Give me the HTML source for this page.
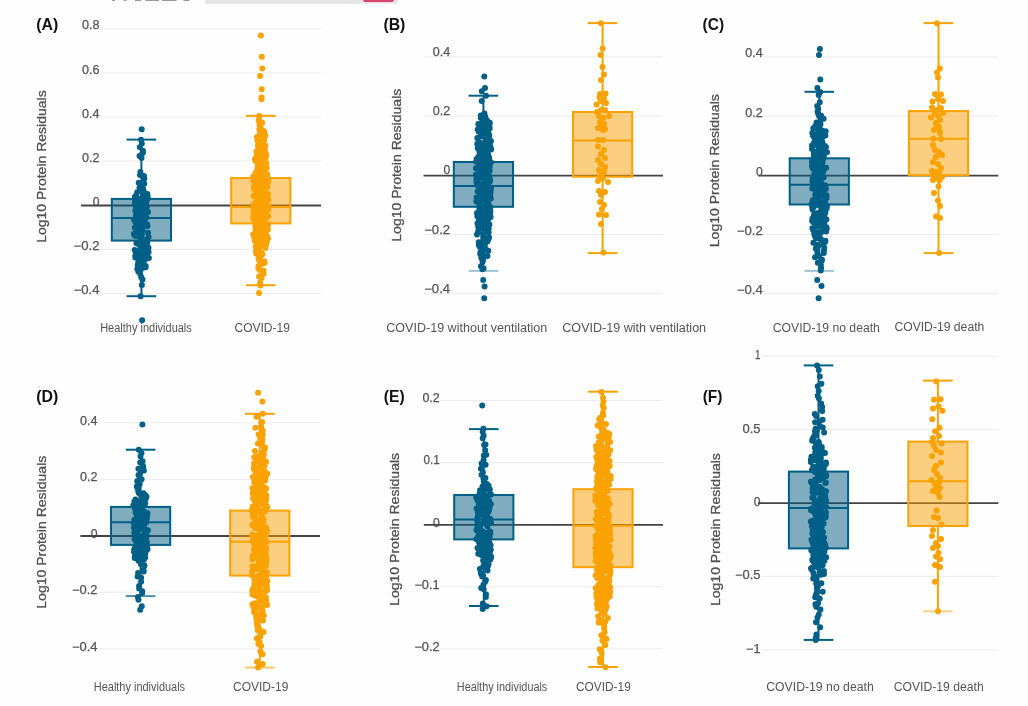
<!DOCTYPE html>
<html><head><meta charset="utf-8"><style>
html,body{margin:0;padding:0;background:#fff;}
body{width:1028px;height:706px;overflow:hidden;position:relative;}
svg{position:absolute;left:0;top:0;font-family:"Liberation Sans", sans-serif;filter:blur(0.4px);}
</style></head><body>
<svg width="1028" height="706" viewBox="0 0 1028 706">
<rect x="0" y="0" width="1028" height="706" fill="#fefefe"/>
<rect x="205" y="0" width="192.8" height="3.8" fill="#e5e5e5"/>
<rect x="363.3" y="-1.6" width="30.5" height="3.7" rx="1.8" fill="#d8416c"/>
<g fill="#9a9a9a"><rect x="112" y="0" width="3" height="1"/><rect x="123.5" y="0" width="3" height="1"/><rect x="135" y="0" width="6" height="1"/><rect x="145.5" y="0" width="13.5" height="1"/><rect x="162" y="0" width="14.5" height="1"/><rect x="183.5" y="0" width="6" height="1"/></g>
<path d="M100.0,28.80H321.0" stroke="#ebebeb" stroke-width="1"/>
<path d="M100.0,72.90H321.0" stroke="#ebebeb" stroke-width="1"/>
<path d="M100.0,117.00H321.0" stroke="#ebebeb" stroke-width="1"/>
<path d="M100.0,161.10H321.0" stroke="#ebebeb" stroke-width="1"/>
<path d="M100.0,249.30H321.0" stroke="#ebebeb" stroke-width="1"/>
<path d="M100.0,293.40H321.0" stroke="#ebebeb" stroke-width="1"/>
<text x="99.5" y="29.4" text-anchor="end" font-size="12" fill="#555" font-weight="normal" textLength="17.5" lengthAdjust="spacingAndGlyphs" stroke="#555" stroke-width="0.25">0.8</text>
<text x="99.5" y="73.5" text-anchor="end" font-size="12" fill="#555" font-weight="normal" textLength="17.5" lengthAdjust="spacingAndGlyphs" stroke="#555" stroke-width="0.25">0.6</text>
<text x="99.5" y="117.6" text-anchor="end" font-size="12" fill="#555" font-weight="normal" textLength="17.5" lengthAdjust="spacingAndGlyphs" stroke="#555" stroke-width="0.25">0.4</text>
<text x="99.5" y="161.7" text-anchor="end" font-size="12" fill="#555" font-weight="normal" textLength="17.5" lengthAdjust="spacingAndGlyphs" stroke="#555" stroke-width="0.25">0.2</text>
<text x="99.5" y="205.8" text-anchor="end" font-size="12" fill="#555" font-weight="normal" textLength="6.8" lengthAdjust="spacingAndGlyphs" stroke="#555" stroke-width="0.25">0</text>
<text x="99.5" y="249.9" text-anchor="end" font-size="12" fill="#555" font-weight="normal" textLength="26.0" lengthAdjust="spacingAndGlyphs" stroke="#555" stroke-width="0.25">−0.2</text>
<text x="99.5" y="294.0" text-anchor="end" font-size="12" fill="#555" font-weight="normal" textLength="26.0" lengthAdjust="spacingAndGlyphs" stroke="#555" stroke-width="0.25">−0.4</text>
<path d="M81.0,205.50H321.0" stroke="#444444" stroke-width="1.8"/>
<rect x="111.80" y="198.90" width="59.20" height="41.70" fill="#005a80" fill-opacity="0.5" stroke="#005f87" stroke-width="2"/>
<path d="M111.80,217.90H171.00M141.40,198.90V139.60M141.40,240.60V296.20" stroke="#005f87" stroke-width="2" fill="none"/>
<path d="M126.60,139.60H156.20" stroke="#005f87" stroke-width="2" fill="none"/>
<path d="M126.60,296.20H156.20" stroke="#005f87" stroke-width="2" fill="none"/>
<rect x="231.20" y="178.00" width="59.20" height="45.40" fill="#f99d00" fill-opacity="0.5" stroke="#f9a202" stroke-width="2"/>
<path d="M231.20,207.00H290.40M260.80,178.00V115.80M260.80,223.40V285.20" stroke="#f9a202" stroke-width="2" fill="none"/>
<path d="M246.00,115.80H275.60" stroke="#f9a202" stroke-width="2" fill="none"/>
<path d="M246.00,285.20H275.60" stroke="#f9a202" stroke-width="2" fill="none"/>
<path fill="#005f87" d="M145.3,251.1m-3.0,0a3.0,3.0 0 1,0 6.0,0a3.0,3.0 0 1,0 -6.0,0M140.0,175.1m-3.0,0a3.0,3.0 0 1,0 6.0,0a3.0,3.0 0 1,0 -6.0,0M140.4,171.9m-3.0,0a3.0,3.0 0 1,0 6.0,0a3.0,3.0 0 1,0 -6.0,0M140.1,233.0m-3.0,0a3.0,3.0 0 1,0 6.0,0a3.0,3.0 0 1,0 -6.0,0M135.3,235.6m-3.0,0a3.0,3.0 0 1,0 6.0,0a3.0,3.0 0 1,0 -6.0,0M140.3,261.2m-3.0,0a3.0,3.0 0 1,0 6.0,0a3.0,3.0 0 1,0 -6.0,0M144.2,183.7m-3.0,0a3.0,3.0 0 1,0 6.0,0a3.0,3.0 0 1,0 -6.0,0M141.9,285.0m-3.0,0a3.0,3.0 0 1,0 6.0,0a3.0,3.0 0 1,0 -6.0,0M134.8,204.7m-3.0,0a3.0,3.0 0 1,0 6.0,0a3.0,3.0 0 1,0 -6.0,0M145.7,266.1m-3.0,0a3.0,3.0 0 1,0 6.0,0a3.0,3.0 0 1,0 -6.0,0M136.5,216.4m-3.0,0a3.0,3.0 0 1,0 6.0,0a3.0,3.0 0 1,0 -6.0,0M140.5,238.6m-3.0,0a3.0,3.0 0 1,0 6.0,0a3.0,3.0 0 1,0 -6.0,0M136.3,203.0m-3.0,0a3.0,3.0 0 1,0 6.0,0a3.0,3.0 0 1,0 -6.0,0M142.2,185.6m-3.0,0a3.0,3.0 0 1,0 6.0,0a3.0,3.0 0 1,0 -6.0,0M148.9,257.9m-3.0,0a3.0,3.0 0 1,0 6.0,0a3.0,3.0 0 1,0 -6.0,0M134.9,201.4m-3.0,0a3.0,3.0 0 1,0 6.0,0a3.0,3.0 0 1,0 -6.0,0M137.3,203.6m-3.0,0a3.0,3.0 0 1,0 6.0,0a3.0,3.0 0 1,0 -6.0,0M147.0,224.3m-3.0,0a3.0,3.0 0 1,0 6.0,0a3.0,3.0 0 1,0 -6.0,0M140.4,219.5m-3.0,0a3.0,3.0 0 1,0 6.0,0a3.0,3.0 0 1,0 -6.0,0M137.1,257.3m-3.0,0a3.0,3.0 0 1,0 6.0,0a3.0,3.0 0 1,0 -6.0,0M146.0,211.5m-3.0,0a3.0,3.0 0 1,0 6.0,0a3.0,3.0 0 1,0 -6.0,0M135.3,257.6m-3.0,0a3.0,3.0 0 1,0 6.0,0a3.0,3.0 0 1,0 -6.0,0M134.9,196.7m-3.0,0a3.0,3.0 0 1,0 6.0,0a3.0,3.0 0 1,0 -6.0,0M143.2,189.1m-3.0,0a3.0,3.0 0 1,0 6.0,0a3.0,3.0 0 1,0 -6.0,0M139.5,187.7m-3.0,0a3.0,3.0 0 1,0 6.0,0a3.0,3.0 0 1,0 -6.0,0M143.9,224.7m-3.0,0a3.0,3.0 0 1,0 6.0,0a3.0,3.0 0 1,0 -6.0,0M141.2,228.0m-3.0,0a3.0,3.0 0 1,0 6.0,0a3.0,3.0 0 1,0 -6.0,0M140.6,296.3m-3.0,0a3.0,3.0 0 1,0 6.0,0a3.0,3.0 0 1,0 -6.0,0M139.2,219.0m-3.0,0a3.0,3.0 0 1,0 6.0,0a3.0,3.0 0 1,0 -6.0,0M136.2,207.7m-3.0,0a3.0,3.0 0 1,0 6.0,0a3.0,3.0 0 1,0 -6.0,0M141.0,189.7m-3.0,0a3.0,3.0 0 1,0 6.0,0a3.0,3.0 0 1,0 -6.0,0M141.1,218.5m-3.0,0a3.0,3.0 0 1,0 6.0,0a3.0,3.0 0 1,0 -6.0,0M138.9,221.1m-3.0,0a3.0,3.0 0 1,0 6.0,0a3.0,3.0 0 1,0 -6.0,0M142.6,222.9m-3.0,0a3.0,3.0 0 1,0 6.0,0a3.0,3.0 0 1,0 -6.0,0M140.5,232.2m-3.0,0a3.0,3.0 0 1,0 6.0,0a3.0,3.0 0 1,0 -6.0,0M140.2,229.8m-3.0,0a3.0,3.0 0 1,0 6.0,0a3.0,3.0 0 1,0 -6.0,0M141.9,234.3m-3.0,0a3.0,3.0 0 1,0 6.0,0a3.0,3.0 0 1,0 -6.0,0M143.6,242.1m-3.0,0a3.0,3.0 0 1,0 6.0,0a3.0,3.0 0 1,0 -6.0,0M143.1,263.5m-3.0,0a3.0,3.0 0 1,0 6.0,0a3.0,3.0 0 1,0 -6.0,0M137.0,256.4m-3.0,0a3.0,3.0 0 1,0 6.0,0a3.0,3.0 0 1,0 -6.0,0M144.3,178.7m-3.0,0a3.0,3.0 0 1,0 6.0,0a3.0,3.0 0 1,0 -6.0,0M146.8,207.1m-3.0,0a3.0,3.0 0 1,0 6.0,0a3.0,3.0 0 1,0 -6.0,0M138.3,271.5m-3.0,0a3.0,3.0 0 1,0 6.0,0a3.0,3.0 0 1,0 -6.0,0M144.6,193.0m-3.0,0a3.0,3.0 0 1,0 6.0,0a3.0,3.0 0 1,0 -6.0,0M148.5,247.7m-3.0,0a3.0,3.0 0 1,0 6.0,0a3.0,3.0 0 1,0 -6.0,0M134.6,235.2m-3.0,0a3.0,3.0 0 1,0 6.0,0a3.0,3.0 0 1,0 -6.0,0M135.6,195.9m-3.0,0a3.0,3.0 0 1,0 6.0,0a3.0,3.0 0 1,0 -6.0,0M140.8,228.4m-3.0,0a3.0,3.0 0 1,0 6.0,0a3.0,3.0 0 1,0 -6.0,0M143.1,264.6m-3.0,0a3.0,3.0 0 1,0 6.0,0a3.0,3.0 0 1,0 -6.0,0M147.2,199.3m-3.0,0a3.0,3.0 0 1,0 6.0,0a3.0,3.0 0 1,0 -6.0,0M141.5,157.9m-3.0,0a3.0,3.0 0 1,0 6.0,0a3.0,3.0 0 1,0 -6.0,0M142.2,262.2m-3.0,0a3.0,3.0 0 1,0 6.0,0a3.0,3.0 0 1,0 -6.0,0M139.5,199.0m-3.0,0a3.0,3.0 0 1,0 6.0,0a3.0,3.0 0 1,0 -6.0,0M141.7,226.5m-3.0,0a3.0,3.0 0 1,0 6.0,0a3.0,3.0 0 1,0 -6.0,0M142.9,209.1m-3.0,0a3.0,3.0 0 1,0 6.0,0a3.0,3.0 0 1,0 -6.0,0M145.7,210.0m-3.0,0a3.0,3.0 0 1,0 6.0,0a3.0,3.0 0 1,0 -6.0,0M144.3,259.8m-3.0,0a3.0,3.0 0 1,0 6.0,0a3.0,3.0 0 1,0 -6.0,0M143.2,244.2m-3.0,0a3.0,3.0 0 1,0 6.0,0a3.0,3.0 0 1,0 -6.0,0M139.5,263.2m-3.0,0a3.0,3.0 0 1,0 6.0,0a3.0,3.0 0 1,0 -6.0,0M140.7,236.5m-3.0,0a3.0,3.0 0 1,0 6.0,0a3.0,3.0 0 1,0 -6.0,0M137.5,243.7m-3.0,0a3.0,3.0 0 1,0 6.0,0a3.0,3.0 0 1,0 -6.0,0M142.1,200.3m-3.0,0a3.0,3.0 0 1,0 6.0,0a3.0,3.0 0 1,0 -6.0,0M140.1,203.8m-3.0,0a3.0,3.0 0 1,0 6.0,0a3.0,3.0 0 1,0 -6.0,0M142.1,320.2m-3.0,0a3.0,3.0 0 1,0 6.0,0a3.0,3.0 0 1,0 -6.0,0M143.7,261.4m-3.0,0a3.0,3.0 0 1,0 6.0,0a3.0,3.0 0 1,0 -6.0,0M146.1,205.3m-3.0,0a3.0,3.0 0 1,0 6.0,0a3.0,3.0 0 1,0 -6.0,0M141.4,205.2m-3.0,0a3.0,3.0 0 1,0 6.0,0a3.0,3.0 0 1,0 -6.0,0M140.0,229.1m-3.0,0a3.0,3.0 0 1,0 6.0,0a3.0,3.0 0 1,0 -6.0,0M142.7,245.6m-3.0,0a3.0,3.0 0 1,0 6.0,0a3.0,3.0 0 1,0 -6.0,0M140.7,222.5m-3.0,0a3.0,3.0 0 1,0 6.0,0a3.0,3.0 0 1,0 -6.0,0M134.3,233.6m-3.0,0a3.0,3.0 0 1,0 6.0,0a3.0,3.0 0 1,0 -6.0,0M146.3,217.5m-3.0,0a3.0,3.0 0 1,0 6.0,0a3.0,3.0 0 1,0 -6.0,0M144.6,249.1m-3.0,0a3.0,3.0 0 1,0 6.0,0a3.0,3.0 0 1,0 -6.0,0M141.0,139.8m-3.0,0a3.0,3.0 0 1,0 6.0,0a3.0,3.0 0 1,0 -6.0,0M136.3,197.0m-3.0,0a3.0,3.0 0 1,0 6.0,0a3.0,3.0 0 1,0 -6.0,0M138.7,272.1m-3.0,0a3.0,3.0 0 1,0 6.0,0a3.0,3.0 0 1,0 -6.0,0M138.8,221.8m-3.0,0a3.0,3.0 0 1,0 6.0,0a3.0,3.0 0 1,0 -6.0,0M143.1,192.1m-3.0,0a3.0,3.0 0 1,0 6.0,0a3.0,3.0 0 1,0 -6.0,0M138.3,252.7m-3.0,0a3.0,3.0 0 1,0 6.0,0a3.0,3.0 0 1,0 -6.0,0M136.8,255.0m-3.0,0a3.0,3.0 0 1,0 6.0,0a3.0,3.0 0 1,0 -6.0,0M140.6,239.6m-3.0,0a3.0,3.0 0 1,0 6.0,0a3.0,3.0 0 1,0 -6.0,0M135.3,222.1m-3.0,0a3.0,3.0 0 1,0 6.0,0a3.0,3.0 0 1,0 -6.0,0M146.3,202.7m-3.0,0a3.0,3.0 0 1,0 6.0,0a3.0,3.0 0 1,0 -6.0,0M134.7,249.9m-3.0,0a3.0,3.0 0 1,0 6.0,0a3.0,3.0 0 1,0 -6.0,0M140.1,212.9m-3.0,0a3.0,3.0 0 1,0 6.0,0a3.0,3.0 0 1,0 -6.0,0M139.8,147.3m-3.0,0a3.0,3.0 0 1,0 6.0,0a3.0,3.0 0 1,0 -6.0,0M138.1,214.0m-3.0,0a3.0,3.0 0 1,0 6.0,0a3.0,3.0 0 1,0 -6.0,0M141.3,231.2m-3.0,0a3.0,3.0 0 1,0 6.0,0a3.0,3.0 0 1,0 -6.0,0M138.2,262.7m-3.0,0a3.0,3.0 0 1,0 6.0,0a3.0,3.0 0 1,0 -6.0,0M140.7,216.1m-3.0,0a3.0,3.0 0 1,0 6.0,0a3.0,3.0 0 1,0 -6.0,0M143.4,191.3m-3.0,0a3.0,3.0 0 1,0 6.0,0a3.0,3.0 0 1,0 -6.0,0M138.7,182.7m-3.0,0a3.0,3.0 0 1,0 6.0,0a3.0,3.0 0 1,0 -6.0,0M142.5,279.6m-3.0,0a3.0,3.0 0 1,0 6.0,0a3.0,3.0 0 1,0 -6.0,0M137.6,225.0m-3.0,0a3.0,3.0 0 1,0 6.0,0a3.0,3.0 0 1,0 -6.0,0M148.3,251.4m-3.0,0a3.0,3.0 0 1,0 6.0,0a3.0,3.0 0 1,0 -6.0,0M144.0,176.0m-3.0,0a3.0,3.0 0 1,0 6.0,0a3.0,3.0 0 1,0 -6.0,0M146.6,248.4m-3.0,0a3.0,3.0 0 1,0 6.0,0a3.0,3.0 0 1,0 -6.0,0M142.6,229.8m-3.0,0a3.0,3.0 0 1,0 6.0,0a3.0,3.0 0 1,0 -6.0,0M147.5,225.9m-3.0,0a3.0,3.0 0 1,0 6.0,0a3.0,3.0 0 1,0 -6.0,0M137.7,265.1m-3.0,0a3.0,3.0 0 1,0 6.0,0a3.0,3.0 0 1,0 -6.0,0M134.8,227.6m-3.0,0a3.0,3.0 0 1,0 6.0,0a3.0,3.0 0 1,0 -6.0,0M145.6,218.2m-3.0,0a3.0,3.0 0 1,0 6.0,0a3.0,3.0 0 1,0 -6.0,0M143.7,205.9m-3.0,0a3.0,3.0 0 1,0 6.0,0a3.0,3.0 0 1,0 -6.0,0M137.2,192.2m-3.0,0a3.0,3.0 0 1,0 6.0,0a3.0,3.0 0 1,0 -6.0,0M144.2,244.4m-3.0,0a3.0,3.0 0 1,0 6.0,0a3.0,3.0 0 1,0 -6.0,0M143.0,267.8m-3.0,0a3.0,3.0 0 1,0 6.0,0a3.0,3.0 0 1,0 -6.0,0M139.6,208.7m-3.0,0a3.0,3.0 0 1,0 6.0,0a3.0,3.0 0 1,0 -6.0,0M133.9,234.0m-3.0,0a3.0,3.0 0 1,0 6.0,0a3.0,3.0 0 1,0 -6.0,0M142.0,230.7m-3.0,0a3.0,3.0 0 1,0 6.0,0a3.0,3.0 0 1,0 -6.0,0M138.6,198.4m-3.0,0a3.0,3.0 0 1,0 6.0,0a3.0,3.0 0 1,0 -6.0,0M137.6,213.7m-3.0,0a3.0,3.0 0 1,0 6.0,0a3.0,3.0 0 1,0 -6.0,0M142.9,150.7m-3.0,0a3.0,3.0 0 1,0 6.0,0a3.0,3.0 0 1,0 -6.0,0M141.2,237.5m-3.0,0a3.0,3.0 0 1,0 6.0,0a3.0,3.0 0 1,0 -6.0,0M147.3,242.7m-3.0,0a3.0,3.0 0 1,0 6.0,0a3.0,3.0 0 1,0 -6.0,0M142.4,208.0m-3.0,0a3.0,3.0 0 1,0 6.0,0a3.0,3.0 0 1,0 -6.0,0M136.0,253.5m-3.0,0a3.0,3.0 0 1,0 6.0,0a3.0,3.0 0 1,0 -6.0,0M141.1,246.3m-3.0,0a3.0,3.0 0 1,0 6.0,0a3.0,3.0 0 1,0 -6.0,0M143.1,214.3m-3.0,0a3.0,3.0 0 1,0 6.0,0a3.0,3.0 0 1,0 -6.0,0M142.8,254.1m-3.0,0a3.0,3.0 0 1,0 6.0,0a3.0,3.0 0 1,0 -6.0,0M140.4,247.9m-3.0,0a3.0,3.0 0 1,0 6.0,0a3.0,3.0 0 1,0 -6.0,0M140.5,201.0m-3.0,0a3.0,3.0 0 1,0 6.0,0a3.0,3.0 0 1,0 -6.0,0M142.6,201.7m-3.0,0a3.0,3.0 0 1,0 6.0,0a3.0,3.0 0 1,0 -6.0,0M140.7,269.8m-3.0,0a3.0,3.0 0 1,0 6.0,0a3.0,3.0 0 1,0 -6.0,0M145.9,246.8m-3.0,0a3.0,3.0 0 1,0 6.0,0a3.0,3.0 0 1,0 -6.0,0M144.3,240.9m-3.0,0a3.0,3.0 0 1,0 6.0,0a3.0,3.0 0 1,0 -6.0,0M147.1,249.5m-3.0,0a3.0,3.0 0 1,0 6.0,0a3.0,3.0 0 1,0 -6.0,0M136.8,215.0m-3.0,0a3.0,3.0 0 1,0 6.0,0a3.0,3.0 0 1,0 -6.0,0M135.3,255.9m-3.0,0a3.0,3.0 0 1,0 6.0,0a3.0,3.0 0 1,0 -6.0,0M141.8,225.7m-3.0,0a3.0,3.0 0 1,0 6.0,0a3.0,3.0 0 1,0 -6.0,0M141.2,277.2m-3.0,0a3.0,3.0 0 1,0 6.0,0a3.0,3.0 0 1,0 -6.0,0M144.6,220.3m-3.0,0a3.0,3.0 0 1,0 6.0,0a3.0,3.0 0 1,0 -6.0,0M141.9,206.6m-3.0,0a3.0,3.0 0 1,0 6.0,0a3.0,3.0 0 1,0 -6.0,0M147.5,195.1m-3.0,0a3.0,3.0 0 1,0 6.0,0a3.0,3.0 0 1,0 -6.0,0M135.6,235.9m-3.0,0a3.0,3.0 0 1,0 6.0,0a3.0,3.0 0 1,0 -6.0,0M140.9,259.2m-3.0,0a3.0,3.0 0 1,0 6.0,0a3.0,3.0 0 1,0 -6.0,0M134.1,219.8m-3.0,0a3.0,3.0 0 1,0 6.0,0a3.0,3.0 0 1,0 -6.0,0M140.3,241.4m-3.0,0a3.0,3.0 0 1,0 6.0,0a3.0,3.0 0 1,0 -6.0,0M147.4,254.3m-3.0,0a3.0,3.0 0 1,0 6.0,0a3.0,3.0 0 1,0 -6.0,0M143.9,253.0m-3.0,0a3.0,3.0 0 1,0 6.0,0a3.0,3.0 0 1,0 -6.0,0M142.9,227.3m-3.0,0a3.0,3.0 0 1,0 6.0,0a3.0,3.0 0 1,0 -6.0,0M140.4,212.3m-3.0,0a3.0,3.0 0 1,0 6.0,0a3.0,3.0 0 1,0 -6.0,0M140.3,274.0m-3.0,0a3.0,3.0 0 1,0 6.0,0a3.0,3.0 0 1,0 -6.0,0M141.4,239.1m-3.0,0a3.0,3.0 0 1,0 6.0,0a3.0,3.0 0 1,0 -6.0,0M136.5,211.2m-3.0,0a3.0,3.0 0 1,0 6.0,0a3.0,3.0 0 1,0 -6.0,0M147.4,250.4m-3.0,0a3.0,3.0 0 1,0 6.0,0a3.0,3.0 0 1,0 -6.0,0M145.0,259.3m-3.0,0a3.0,3.0 0 1,0 6.0,0a3.0,3.0 0 1,0 -6.0,0M148.5,237.0m-3.0,0a3.0,3.0 0 1,0 6.0,0a3.0,3.0 0 1,0 -6.0,0M135.4,210.7m-3.0,0a3.0,3.0 0 1,0 6.0,0a3.0,3.0 0 1,0 -6.0,0M137.3,268.9m-3.0,0a3.0,3.0 0 1,0 6.0,0a3.0,3.0 0 1,0 -6.0,0M141.8,143.5m-3.0,0a3.0,3.0 0 1,0 6.0,0a3.0,3.0 0 1,0 -6.0,0M148.6,252.0m-3.0,0a3.0,3.0 0 1,0 6.0,0a3.0,3.0 0 1,0 -6.0,0M142.2,153.5m-3.0,0a3.0,3.0 0 1,0 6.0,0a3.0,3.0 0 1,0 -6.0,0M143.0,152.5m-3.0,0a3.0,3.0 0 1,0 6.0,0a3.0,3.0 0 1,0 -6.0,0M142.8,265.6m-3.0,0a3.0,3.0 0 1,0 6.0,0a3.0,3.0 0 1,0 -6.0,0M139.7,223.5m-3.0,0a3.0,3.0 0 1,0 6.0,0a3.0,3.0 0 1,0 -6.0,0M142.9,195.4m-3.0,0a3.0,3.0 0 1,0 6.0,0a3.0,3.0 0 1,0 -6.0,0M147.0,258.6m-3.0,0a3.0,3.0 0 1,0 6.0,0a3.0,3.0 0 1,0 -6.0,0M148.0,212.0m-3.0,0a3.0,3.0 0 1,0 6.0,0a3.0,3.0 0 1,0 -6.0,0M143.6,217.0m-3.0,0a3.0,3.0 0 1,0 6.0,0a3.0,3.0 0 1,0 -6.0,0M144.7,240.0m-3.0,0a3.0,3.0 0 1,0 6.0,0a3.0,3.0 0 1,0 -6.0,0M141.7,129.2m-3.0,0a3.0,3.0 0 1,0 6.0,0a3.0,3.0 0 1,0 -6.0,0M141.7,260.4m-3.0,0a3.0,3.0 0 1,0 6.0,0a3.0,3.0 0 1,0 -6.0,0M140.8,238.0m-3.0,0a3.0,3.0 0 1,0 6.0,0a3.0,3.0 0 1,0 -6.0,0M148.0,232.7m-3.0,0a3.0,3.0 0 1,0 6.0,0a3.0,3.0 0 1,0 -6.0,0M139.5,156.0m-3.0,0a3.0,3.0 0 1,0 6.0,0a3.0,3.0 0 1,0 -6.0,0M143.5,245.2m-3.0,0a3.0,3.0 0 1,0 6.0,0a3.0,3.0 0 1,0 -6.0,0M147.3,194.1m-3.0,0a3.0,3.0 0 1,0 6.0,0a3.0,3.0 0 1,0 -6.0,0M135.7,209.4m-3.0,0a3.0,3.0 0 1,0 6.0,0a3.0,3.0 0 1,0 -6.0,0M136.4,231.7m-3.0,0a3.0,3.0 0 1,0 6.0,0a3.0,3.0 0 1,0 -6.0,0M145.6,267.2m-3.0,0a3.0,3.0 0 1,0 6.0,0a3.0,3.0 0 1,0 -6.0,0M136.4,243.2m-3.0,0a3.0,3.0 0 1,0 6.0,0a3.0,3.0 0 1,0 -6.0,0M147.1,240.3m-3.0,0a3.0,3.0 0 1,0 6.0,0a3.0,3.0 0 1,0 -6.0,0M146.4,245.9m-3.0,0a3.0,3.0 0 1,0 6.0,0a3.0,3.0 0 1,0 -6.0,0M147.8,197.7m-3.0,0a3.0,3.0 0 1,0 6.0,0a3.0,3.0 0 1,0 -6.0,0M135.9,215.6m-3.0,0a3.0,3.0 0 1,0 6.0,0a3.0,3.0 0 1,0 -6.0,0M140.4,186.0m-3.0,0a3.0,3.0 0 1,0 6.0,0a3.0,3.0 0 1,0 -6.0,0M139.2,255.5m-3.0,0a3.0,3.0 0 1,0 6.0,0a3.0,3.0 0 1,0 -6.0,0M138.8,199.8m-3.0,0a3.0,3.0 0 1,0 6.0,0a3.0,3.0 0 1,0 -6.0,0"/>
<path fill="#f9a202" d="M259.3,188.7m-3.0,0a3.0,3.0 0 1,0 6.0,0a3.0,3.0 0 1,0 -6.0,0M254.6,210.2m-3.0,0a3.0,3.0 0 1,0 6.0,0a3.0,3.0 0 1,0 -6.0,0M261.0,193.4m-3.0,0a3.0,3.0 0 1,0 6.0,0a3.0,3.0 0 1,0 -6.0,0M264.3,157.2m-3.0,0a3.0,3.0 0 1,0 6.0,0a3.0,3.0 0 1,0 -6.0,0M261.4,144.2m-3.0,0a3.0,3.0 0 1,0 6.0,0a3.0,3.0 0 1,0 -6.0,0M267.4,187.1m-3.0,0a3.0,3.0 0 1,0 6.0,0a3.0,3.0 0 1,0 -6.0,0M267.2,174.2m-3.0,0a3.0,3.0 0 1,0 6.0,0a3.0,3.0 0 1,0 -6.0,0M267.9,182.4m-3.0,0a3.0,3.0 0 1,0 6.0,0a3.0,3.0 0 1,0 -6.0,0M262.0,176.1m-3.0,0a3.0,3.0 0 1,0 6.0,0a3.0,3.0 0 1,0 -6.0,0M265.6,186.4m-3.0,0a3.0,3.0 0 1,0 6.0,0a3.0,3.0 0 1,0 -6.0,0M261.3,190.3m-3.0,0a3.0,3.0 0 1,0 6.0,0a3.0,3.0 0 1,0 -6.0,0M255.0,221.7m-3.0,0a3.0,3.0 0 1,0 6.0,0a3.0,3.0 0 1,0 -6.0,0M261.1,201.4m-3.0,0a3.0,3.0 0 1,0 6.0,0a3.0,3.0 0 1,0 -6.0,0M255.0,234.8m-3.0,0a3.0,3.0 0 1,0 6.0,0a3.0,3.0 0 1,0 -6.0,0M257.3,178.2m-3.0,0a3.0,3.0 0 1,0 6.0,0a3.0,3.0 0 1,0 -6.0,0M258.0,174.8m-3.0,0a3.0,3.0 0 1,0 6.0,0a3.0,3.0 0 1,0 -6.0,0M264.3,179.1m-3.0,0a3.0,3.0 0 1,0 6.0,0a3.0,3.0 0 1,0 -6.0,0M256.8,233.4m-3.0,0a3.0,3.0 0 1,0 6.0,0a3.0,3.0 0 1,0 -6.0,0M260.4,208.6m-3.0,0a3.0,3.0 0 1,0 6.0,0a3.0,3.0 0 1,0 -6.0,0M256.4,151.6m-3.0,0a3.0,3.0 0 1,0 6.0,0a3.0,3.0 0 1,0 -6.0,0M262.8,142.6m-3.0,0a3.0,3.0 0 1,0 6.0,0a3.0,3.0 0 1,0 -6.0,0M258.2,220.1m-3.0,0a3.0,3.0 0 1,0 6.0,0a3.0,3.0 0 1,0 -6.0,0M266.7,229.0m-3.0,0a3.0,3.0 0 1,0 6.0,0a3.0,3.0 0 1,0 -6.0,0M264.3,165.0m-3.0,0a3.0,3.0 0 1,0 6.0,0a3.0,3.0 0 1,0 -6.0,0M254.5,187.3m-3.0,0a3.0,3.0 0 1,0 6.0,0a3.0,3.0 0 1,0 -6.0,0M261.4,185.4m-3.0,0a3.0,3.0 0 1,0 6.0,0a3.0,3.0 0 1,0 -6.0,0M261.4,214.0m-3.0,0a3.0,3.0 0 1,0 6.0,0a3.0,3.0 0 1,0 -6.0,0M265.6,157.9m-3.0,0a3.0,3.0 0 1,0 6.0,0a3.0,3.0 0 1,0 -6.0,0M263.2,173.9m-3.0,0a3.0,3.0 0 1,0 6.0,0a3.0,3.0 0 1,0 -6.0,0M257.9,146.0m-3.0,0a3.0,3.0 0 1,0 6.0,0a3.0,3.0 0 1,0 -6.0,0M259.4,229.6m-3.0,0a3.0,3.0 0 1,0 6.0,0a3.0,3.0 0 1,0 -6.0,0M253.5,195.9m-3.0,0a3.0,3.0 0 1,0 6.0,0a3.0,3.0 0 1,0 -6.0,0M262.3,171.7m-3.0,0a3.0,3.0 0 1,0 6.0,0a3.0,3.0 0 1,0 -6.0,0M260.6,192.8m-3.0,0a3.0,3.0 0 1,0 6.0,0a3.0,3.0 0 1,0 -6.0,0M261.2,147.1m-3.0,0a3.0,3.0 0 1,0 6.0,0a3.0,3.0 0 1,0 -6.0,0M258.5,258.7m-3.0,0a3.0,3.0 0 1,0 6.0,0a3.0,3.0 0 1,0 -6.0,0M264.3,191.6m-3.0,0a3.0,3.0 0 1,0 6.0,0a3.0,3.0 0 1,0 -6.0,0M257.6,191.3m-3.0,0a3.0,3.0 0 1,0 6.0,0a3.0,3.0 0 1,0 -6.0,0M257.5,233.1m-3.0,0a3.0,3.0 0 1,0 6.0,0a3.0,3.0 0 1,0 -6.0,0M266.2,212.8m-3.0,0a3.0,3.0 0 1,0 6.0,0a3.0,3.0 0 1,0 -6.0,0M256.8,190.1m-3.0,0a3.0,3.0 0 1,0 6.0,0a3.0,3.0 0 1,0 -6.0,0M258.9,169.3m-3.0,0a3.0,3.0 0 1,0 6.0,0a3.0,3.0 0 1,0 -6.0,0M265.3,145.3m-3.0,0a3.0,3.0 0 1,0 6.0,0a3.0,3.0 0 1,0 -6.0,0M265.6,244.8m-3.0,0a3.0,3.0 0 1,0 6.0,0a3.0,3.0 0 1,0 -6.0,0M256.5,212.1m-3.0,0a3.0,3.0 0 1,0 6.0,0a3.0,3.0 0 1,0 -6.0,0M264.8,211.6m-3.0,0a3.0,3.0 0 1,0 6.0,0a3.0,3.0 0 1,0 -6.0,0M261.4,204.4m-3.0,0a3.0,3.0 0 1,0 6.0,0a3.0,3.0 0 1,0 -6.0,0M267.1,180.5m-3.0,0a3.0,3.0 0 1,0 6.0,0a3.0,3.0 0 1,0 -6.0,0M264.7,232.3m-3.0,0a3.0,3.0 0 1,0 6.0,0a3.0,3.0 0 1,0 -6.0,0M254.4,189.3m-3.0,0a3.0,3.0 0 1,0 6.0,0a3.0,3.0 0 1,0 -6.0,0M259.3,181.7m-3.0,0a3.0,3.0 0 1,0 6.0,0a3.0,3.0 0 1,0 -6.0,0M256.6,194.6m-3.0,0a3.0,3.0 0 1,0 6.0,0a3.0,3.0 0 1,0 -6.0,0M268.0,193.9m-3.0,0a3.0,3.0 0 1,0 6.0,0a3.0,3.0 0 1,0 -6.0,0M267.3,239.9m-3.0,0a3.0,3.0 0 1,0 6.0,0a3.0,3.0 0 1,0 -6.0,0M258.9,235.9m-3.0,0a3.0,3.0 0 1,0 6.0,0a3.0,3.0 0 1,0 -6.0,0M268.0,238.5m-3.0,0a3.0,3.0 0 1,0 6.0,0a3.0,3.0 0 1,0 -6.0,0M261.2,201.7m-3.0,0a3.0,3.0 0 1,0 6.0,0a3.0,3.0 0 1,0 -6.0,0M259.6,196.9m-3.0,0a3.0,3.0 0 1,0 6.0,0a3.0,3.0 0 1,0 -6.0,0M264.7,206.7m-3.0,0a3.0,3.0 0 1,0 6.0,0a3.0,3.0 0 1,0 -6.0,0M261.2,226.2m-3.0,0a3.0,3.0 0 1,0 6.0,0a3.0,3.0 0 1,0 -6.0,0M265.8,206.0m-3.0,0a3.0,3.0 0 1,0 6.0,0a3.0,3.0 0 1,0 -6.0,0M259.1,192.2m-3.0,0a3.0,3.0 0 1,0 6.0,0a3.0,3.0 0 1,0 -6.0,0M262.5,254.3m-3.0,0a3.0,3.0 0 1,0 6.0,0a3.0,3.0 0 1,0 -6.0,0M268.4,209.7m-3.0,0a3.0,3.0 0 1,0 6.0,0a3.0,3.0 0 1,0 -6.0,0M258.0,231.6m-3.0,0a3.0,3.0 0 1,0 6.0,0a3.0,3.0 0 1,0 -6.0,0M257.6,170.0m-3.0,0a3.0,3.0 0 1,0 6.0,0a3.0,3.0 0 1,0 -6.0,0M266.8,167.8m-3.0,0a3.0,3.0 0 1,0 6.0,0a3.0,3.0 0 1,0 -6.0,0M262.9,263.7m-3.0,0a3.0,3.0 0 1,0 6.0,0a3.0,3.0 0 1,0 -6.0,0M265.5,248.1m-3.0,0a3.0,3.0 0 1,0 6.0,0a3.0,3.0 0 1,0 -6.0,0M260.0,203.8m-3.0,0a3.0,3.0 0 1,0 6.0,0a3.0,3.0 0 1,0 -6.0,0M267.4,198.2m-3.0,0a3.0,3.0 0 1,0 6.0,0a3.0,3.0 0 1,0 -6.0,0M264.3,156.6m-3.0,0a3.0,3.0 0 1,0 6.0,0a3.0,3.0 0 1,0 -6.0,0M256.5,171.1m-3.0,0a3.0,3.0 0 1,0 6.0,0a3.0,3.0 0 1,0 -6.0,0M258.7,223.3m-3.0,0a3.0,3.0 0 1,0 6.0,0a3.0,3.0 0 1,0 -6.0,0M260.5,285.6m-3.0,0a3.0,3.0 0 1,0 6.0,0a3.0,3.0 0 1,0 -6.0,0M257.8,200.5m-3.0,0a3.0,3.0 0 1,0 6.0,0a3.0,3.0 0 1,0 -6.0,0M268.3,179.9m-3.0,0a3.0,3.0 0 1,0 6.0,0a3.0,3.0 0 1,0 -6.0,0M260.3,206.4m-3.0,0a3.0,3.0 0 1,0 6.0,0a3.0,3.0 0 1,0 -6.0,0M259.0,260.1m-3.0,0a3.0,3.0 0 1,0 6.0,0a3.0,3.0 0 1,0 -6.0,0M256.0,201.9m-3.0,0a3.0,3.0 0 1,0 6.0,0a3.0,3.0 0 1,0 -6.0,0M261.7,227.4m-3.0,0a3.0,3.0 0 1,0 6.0,0a3.0,3.0 0 1,0 -6.0,0M268.3,205.9m-3.0,0a3.0,3.0 0 1,0 6.0,0a3.0,3.0 0 1,0 -6.0,0M265.5,152.5m-3.0,0a3.0,3.0 0 1,0 6.0,0a3.0,3.0 0 1,0 -6.0,0M267.1,208.9m-3.0,0a3.0,3.0 0 1,0 6.0,0a3.0,3.0 0 1,0 -6.0,0M257.4,221.2m-3.0,0a3.0,3.0 0 1,0 6.0,0a3.0,3.0 0 1,0 -6.0,0M260.7,221.1m-3.0,0a3.0,3.0 0 1,0 6.0,0a3.0,3.0 0 1,0 -6.0,0M258.5,266.1m-3.0,0a3.0,3.0 0 1,0 6.0,0a3.0,3.0 0 1,0 -6.0,0M266.8,235.8m-3.0,0a3.0,3.0 0 1,0 6.0,0a3.0,3.0 0 1,0 -6.0,0M256.0,214.2m-3.0,0a3.0,3.0 0 1,0 6.0,0a3.0,3.0 0 1,0 -6.0,0M261.1,207.6m-3.0,0a3.0,3.0 0 1,0 6.0,0a3.0,3.0 0 1,0 -6.0,0M264.3,139.6m-3.0,0a3.0,3.0 0 1,0 6.0,0a3.0,3.0 0 1,0 -6.0,0M264.7,262.8m-3.0,0a3.0,3.0 0 1,0 6.0,0a3.0,3.0 0 1,0 -6.0,0M261.7,89.3m-3.0,0a3.0,3.0 0 1,0 6.0,0a3.0,3.0 0 1,0 -6.0,0M255.4,224.6m-3.0,0a3.0,3.0 0 1,0 6.0,0a3.0,3.0 0 1,0 -6.0,0M268.5,199.8m-3.0,0a3.0,3.0 0 1,0 6.0,0a3.0,3.0 0 1,0 -6.0,0M256.1,183.3m-3.0,0a3.0,3.0 0 1,0 6.0,0a3.0,3.0 0 1,0 -6.0,0M256.3,206.9m-3.0,0a3.0,3.0 0 1,0 6.0,0a3.0,3.0 0 1,0 -6.0,0M256.9,233.6m-3.0,0a3.0,3.0 0 1,0 6.0,0a3.0,3.0 0 1,0 -6.0,0M262.6,230.0m-3.0,0a3.0,3.0 0 1,0 6.0,0a3.0,3.0 0 1,0 -6.0,0M266.8,241.4m-3.0,0a3.0,3.0 0 1,0 6.0,0a3.0,3.0 0 1,0 -6.0,0M259.7,247.0m-3.0,0a3.0,3.0 0 1,0 6.0,0a3.0,3.0 0 1,0 -6.0,0M255.6,227.6m-3.0,0a3.0,3.0 0 1,0 6.0,0a3.0,3.0 0 1,0 -6.0,0M256.4,223.7m-3.0,0a3.0,3.0 0 1,0 6.0,0a3.0,3.0 0 1,0 -6.0,0M261.4,220.4m-3.0,0a3.0,3.0 0 1,0 6.0,0a3.0,3.0 0 1,0 -6.0,0M266.2,155.0m-3.0,0a3.0,3.0 0 1,0 6.0,0a3.0,3.0 0 1,0 -6.0,0M260.1,282.7m-3.0,0a3.0,3.0 0 1,0 6.0,0a3.0,3.0 0 1,0 -6.0,0M256.4,253.7m-3.0,0a3.0,3.0 0 1,0 6.0,0a3.0,3.0 0 1,0 -6.0,0M258.3,237.4m-3.0,0a3.0,3.0 0 1,0 6.0,0a3.0,3.0 0 1,0 -6.0,0M254.0,213.7m-3.0,0a3.0,3.0 0 1,0 6.0,0a3.0,3.0 0 1,0 -6.0,0M259.7,231.5m-3.0,0a3.0,3.0 0 1,0 6.0,0a3.0,3.0 0 1,0 -6.0,0M261.2,168.2m-3.0,0a3.0,3.0 0 1,0 6.0,0a3.0,3.0 0 1,0 -6.0,0M266.0,188.1m-3.0,0a3.0,3.0 0 1,0 6.0,0a3.0,3.0 0 1,0 -6.0,0M254.2,179.8m-3.0,0a3.0,3.0 0 1,0 6.0,0a3.0,3.0 0 1,0 -6.0,0M253.2,176.8m-3.0,0a3.0,3.0 0 1,0 6.0,0a3.0,3.0 0 1,0 -6.0,0M260.0,134.1m-3.0,0a3.0,3.0 0 1,0 6.0,0a3.0,3.0 0 1,0 -6.0,0M260.6,192.1m-3.0,0a3.0,3.0 0 1,0 6.0,0a3.0,3.0 0 1,0 -6.0,0M263.2,188.2m-3.0,0a3.0,3.0 0 1,0 6.0,0a3.0,3.0 0 1,0 -6.0,0M261.6,172.7m-3.0,0a3.0,3.0 0 1,0 6.0,0a3.0,3.0 0 1,0 -6.0,0M260.1,75.9m-3.0,0a3.0,3.0 0 1,0 6.0,0a3.0,3.0 0 1,0 -6.0,0M259.3,129.6m-3.0,0a3.0,3.0 0 1,0 6.0,0a3.0,3.0 0 1,0 -6.0,0M257.2,190.8m-3.0,0a3.0,3.0 0 1,0 6.0,0a3.0,3.0 0 1,0 -6.0,0M260.4,204.7m-3.0,0a3.0,3.0 0 1,0 6.0,0a3.0,3.0 0 1,0 -6.0,0M261.0,240.2m-3.0,0a3.0,3.0 0 1,0 6.0,0a3.0,3.0 0 1,0 -6.0,0M257.7,245.7m-3.0,0a3.0,3.0 0 1,0 6.0,0a3.0,3.0 0 1,0 -6.0,0M253.6,218.8m-3.0,0a3.0,3.0 0 1,0 6.0,0a3.0,3.0 0 1,0 -6.0,0M262.2,201.2m-3.0,0a3.0,3.0 0 1,0 6.0,0a3.0,3.0 0 1,0 -6.0,0M264.8,226.7m-3.0,0a3.0,3.0 0 1,0 6.0,0a3.0,3.0 0 1,0 -6.0,0M256.0,195.4m-3.0,0a3.0,3.0 0 1,0 6.0,0a3.0,3.0 0 1,0 -6.0,0M259.3,159.7m-3.0,0a3.0,3.0 0 1,0 6.0,0a3.0,3.0 0 1,0 -6.0,0M258.0,238.0m-3.0,0a3.0,3.0 0 1,0 6.0,0a3.0,3.0 0 1,0 -6.0,0M264.7,177.3m-3.0,0a3.0,3.0 0 1,0 6.0,0a3.0,3.0 0 1,0 -6.0,0M264.9,202.9m-3.0,0a3.0,3.0 0 1,0 6.0,0a3.0,3.0 0 1,0 -6.0,0M264.9,237.7m-3.0,0a3.0,3.0 0 1,0 6.0,0a3.0,3.0 0 1,0 -6.0,0M261.8,181.2m-3.0,0a3.0,3.0 0 1,0 6.0,0a3.0,3.0 0 1,0 -6.0,0M259.1,115.9m-3.0,0a3.0,3.0 0 1,0 6.0,0a3.0,3.0 0 1,0 -6.0,0M264.4,218.9m-3.0,0a3.0,3.0 0 1,0 6.0,0a3.0,3.0 0 1,0 -6.0,0M259.1,276.5m-3.0,0a3.0,3.0 0 1,0 6.0,0a3.0,3.0 0 1,0 -6.0,0M257.9,179.2m-3.0,0a3.0,3.0 0 1,0 6.0,0a3.0,3.0 0 1,0 -6.0,0M259.1,293.0m-3.0,0a3.0,3.0 0 1,0 6.0,0a3.0,3.0 0 1,0 -6.0,0M265.0,242.2m-3.0,0a3.0,3.0 0 1,0 6.0,0a3.0,3.0 0 1,0 -6.0,0M261.8,56.8m-3.0,0a3.0,3.0 0 1,0 6.0,0a3.0,3.0 0 1,0 -6.0,0M260.2,122.5m-3.0,0a3.0,3.0 0 1,0 6.0,0a3.0,3.0 0 1,0 -6.0,0M254.9,159.0m-3.0,0a3.0,3.0 0 1,0 6.0,0a3.0,3.0 0 1,0 -6.0,0M253.5,208.2m-3.0,0a3.0,3.0 0 1,0 6.0,0a3.0,3.0 0 1,0 -6.0,0M259.4,124.8m-3.0,0a3.0,3.0 0 1,0 6.0,0a3.0,3.0 0 1,0 -6.0,0M265.0,187.6m-3.0,0a3.0,3.0 0 1,0 6.0,0a3.0,3.0 0 1,0 -6.0,0M260.9,35.5m-3.0,0a3.0,3.0 0 1,0 6.0,0a3.0,3.0 0 1,0 -6.0,0M263.1,212.4m-3.0,0a3.0,3.0 0 1,0 6.0,0a3.0,3.0 0 1,0 -6.0,0M257.5,166.5m-3.0,0a3.0,3.0 0 1,0 6.0,0a3.0,3.0 0 1,0 -6.0,0M255.5,160.9m-3.0,0a3.0,3.0 0 1,0 6.0,0a3.0,3.0 0 1,0 -6.0,0M260.5,153.6m-3.0,0a3.0,3.0 0 1,0 6.0,0a3.0,3.0 0 1,0 -6.0,0M257.3,176.3m-3.0,0a3.0,3.0 0 1,0 6.0,0a3.0,3.0 0 1,0 -6.0,0M253.8,186.5m-3.0,0a3.0,3.0 0 1,0 6.0,0a3.0,3.0 0 1,0 -6.0,0M261.5,97.5m-3.0,0a3.0,3.0 0 1,0 6.0,0a3.0,3.0 0 1,0 -6.0,0M262.2,122.7m-3.0,0a3.0,3.0 0 1,0 6.0,0a3.0,3.0 0 1,0 -6.0,0M258.3,217.7m-3.0,0a3.0,3.0 0 1,0 6.0,0a3.0,3.0 0 1,0 -6.0,0M265.3,135.6m-3.0,0a3.0,3.0 0 1,0 6.0,0a3.0,3.0 0 1,0 -6.0,0M258.8,150.0m-3.0,0a3.0,3.0 0 1,0 6.0,0a3.0,3.0 0 1,0 -6.0,0M257.5,140.9m-3.0,0a3.0,3.0 0 1,0 6.0,0a3.0,3.0 0 1,0 -6.0,0M261.5,99.2m-3.0,0a3.0,3.0 0 1,0 6.0,0a3.0,3.0 0 1,0 -6.0,0M258.8,249.8m-3.0,0a3.0,3.0 0 1,0 6.0,0a3.0,3.0 0 1,0 -6.0,0M259.3,164.3m-3.0,0a3.0,3.0 0 1,0 6.0,0a3.0,3.0 0 1,0 -6.0,0M257.5,248.8m-3.0,0a3.0,3.0 0 1,0 6.0,0a3.0,3.0 0 1,0 -6.0,0M264.6,238.6m-3.0,0a3.0,3.0 0 1,0 6.0,0a3.0,3.0 0 1,0 -6.0,0M261.5,253.0m-3.0,0a3.0,3.0 0 1,0 6.0,0a3.0,3.0 0 1,0 -6.0,0M258.6,120.3m-3.0,0a3.0,3.0 0 1,0 6.0,0a3.0,3.0 0 1,0 -6.0,0M259.8,270.1m-3.0,0a3.0,3.0 0 1,0 6.0,0a3.0,3.0 0 1,0 -6.0,0M258.4,215.2m-3.0,0a3.0,3.0 0 1,0 6.0,0a3.0,3.0 0 1,0 -6.0,0M267.5,236.8m-3.0,0a3.0,3.0 0 1,0 6.0,0a3.0,3.0 0 1,0 -6.0,0M258.2,175.0m-3.0,0a3.0,3.0 0 1,0 6.0,0a3.0,3.0 0 1,0 -6.0,0M257.6,225.2m-3.0,0a3.0,3.0 0 1,0 6.0,0a3.0,3.0 0 1,0 -6.0,0M256.8,155.6m-3.0,0a3.0,3.0 0 1,0 6.0,0a3.0,3.0 0 1,0 -6.0,0M258.8,199.3m-3.0,0a3.0,3.0 0 1,0 6.0,0a3.0,3.0 0 1,0 -6.0,0M261.5,215.8m-3.0,0a3.0,3.0 0 1,0 6.0,0a3.0,3.0 0 1,0 -6.0,0M265.3,213.1m-3.0,0a3.0,3.0 0 1,0 6.0,0a3.0,3.0 0 1,0 -6.0,0M255.4,173.2m-3.0,0a3.0,3.0 0 1,0 6.0,0a3.0,3.0 0 1,0 -6.0,0M266.4,239.4m-3.0,0a3.0,3.0 0 1,0 6.0,0a3.0,3.0 0 1,0 -6.0,0M264.2,261.2m-3.0,0a3.0,3.0 0 1,0 6.0,0a3.0,3.0 0 1,0 -6.0,0M256.6,243.8m-3.0,0a3.0,3.0 0 1,0 6.0,0a3.0,3.0 0 1,0 -6.0,0M260.7,235.1m-3.0,0a3.0,3.0 0 1,0 6.0,0a3.0,3.0 0 1,0 -6.0,0M260.9,203.9m-3.0,0a3.0,3.0 0 1,0 6.0,0a3.0,3.0 0 1,0 -6.0,0M264.5,132.1m-3.0,0a3.0,3.0 0 1,0 6.0,0a3.0,3.0 0 1,0 -6.0,0M264.8,148.1m-3.0,0a3.0,3.0 0 1,0 6.0,0a3.0,3.0 0 1,0 -6.0,0M261.5,167.1m-3.0,0a3.0,3.0 0 1,0 6.0,0a3.0,3.0 0 1,0 -6.0,0M262.3,68.5m-3.0,0a3.0,3.0 0 1,0 6.0,0a3.0,3.0 0 1,0 -6.0,0M265.5,228.7m-3.0,0a3.0,3.0 0 1,0 6.0,0a3.0,3.0 0 1,0 -6.0,0M255.4,184.2m-3.0,0a3.0,3.0 0 1,0 6.0,0a3.0,3.0 0 1,0 -6.0,0M263.6,137.8m-3.0,0a3.0,3.0 0 1,0 6.0,0a3.0,3.0 0 1,0 -6.0,0M263.9,207.9m-3.0,0a3.0,3.0 0 1,0 6.0,0a3.0,3.0 0 1,0 -6.0,0M259.7,213.3m-3.0,0a3.0,3.0 0 1,0 6.0,0a3.0,3.0 0 1,0 -6.0,0M265.7,241.0m-3.0,0a3.0,3.0 0 1,0 6.0,0a3.0,3.0 0 1,0 -6.0,0M265.4,232.7m-3.0,0a3.0,3.0 0 1,0 6.0,0a3.0,3.0 0 1,0 -6.0,0M256.0,233.9m-3.0,0a3.0,3.0 0 1,0 6.0,0a3.0,3.0 0 1,0 -6.0,0M264.8,170.1m-3.0,0a3.0,3.0 0 1,0 6.0,0a3.0,3.0 0 1,0 -6.0,0M264.7,217.3m-3.0,0a3.0,3.0 0 1,0 6.0,0a3.0,3.0 0 1,0 -6.0,0M268.3,224.2m-3.0,0a3.0,3.0 0 1,0 6.0,0a3.0,3.0 0 1,0 -6.0,0M262.9,189.6m-3.0,0a3.0,3.0 0 1,0 6.0,0a3.0,3.0 0 1,0 -6.0,0M253.3,205.0m-3.0,0a3.0,3.0 0 1,0 6.0,0a3.0,3.0 0 1,0 -6.0,0M259.8,225.3m-3.0,0a3.0,3.0 0 1,0 6.0,0a3.0,3.0 0 1,0 -6.0,0M265.3,242.7m-3.0,0a3.0,3.0 0 1,0 6.0,0a3.0,3.0 0 1,0 -6.0,0M264.8,232.1m-3.0,0a3.0,3.0 0 1,0 6.0,0a3.0,3.0 0 1,0 -6.0,0M262.5,198.9m-3.0,0a3.0,3.0 0 1,0 6.0,0a3.0,3.0 0 1,0 -6.0,0M264.0,202.6m-3.0,0a3.0,3.0 0 1,0 6.0,0a3.0,3.0 0 1,0 -6.0,0M262.0,198.1m-3.0,0a3.0,3.0 0 1,0 6.0,0a3.0,3.0 0 1,0 -6.0,0M257.2,215.0m-3.0,0a3.0,3.0 0 1,0 6.0,0a3.0,3.0 0 1,0 -6.0,0M256.2,223.1m-3.0,0a3.0,3.0 0 1,0 6.0,0a3.0,3.0 0 1,0 -6.0,0M253.4,180.6m-3.0,0a3.0,3.0 0 1,0 6.0,0a3.0,3.0 0 1,0 -6.0,0M263.7,181.4m-3.0,0a3.0,3.0 0 1,0 6.0,0a3.0,3.0 0 1,0 -6.0,0M258.7,195.7m-3.0,0a3.0,3.0 0 1,0 6.0,0a3.0,3.0 0 1,0 -6.0,0M256.8,220.7m-3.0,0a3.0,3.0 0 1,0 6.0,0a3.0,3.0 0 1,0 -6.0,0M258.4,177.6m-3.0,0a3.0,3.0 0 1,0 6.0,0a3.0,3.0 0 1,0 -6.0,0M263.6,273.8m-3.0,0a3.0,3.0 0 1,0 6.0,0a3.0,3.0 0 1,0 -6.0,0M259.1,162.6m-3.0,0a3.0,3.0 0 1,0 6.0,0a3.0,3.0 0 1,0 -6.0,0M259.1,226.1m-3.0,0a3.0,3.0 0 1,0 6.0,0a3.0,3.0 0 1,0 -6.0,0M261.4,214.6m-3.0,0a3.0,3.0 0 1,0 6.0,0a3.0,3.0 0 1,0 -6.0,0M265.2,224.4m-3.0,0a3.0,3.0 0 1,0 6.0,0a3.0,3.0 0 1,0 -6.0,0M262.2,182.7m-3.0,0a3.0,3.0 0 1,0 6.0,0a3.0,3.0 0 1,0 -6.0,0M261.6,172.1m-3.0,0a3.0,3.0 0 1,0 6.0,0a3.0,3.0 0 1,0 -6.0,0M253.5,210.9m-3.0,0a3.0,3.0 0 1,0 6.0,0a3.0,3.0 0 1,0 -6.0,0M264.6,196.5m-3.0,0a3.0,3.0 0 1,0 6.0,0a3.0,3.0 0 1,0 -6.0,0M260.0,256.8m-3.0,0a3.0,3.0 0 1,0 6.0,0a3.0,3.0 0 1,0 -6.0,0M267.9,229.4m-3.0,0a3.0,3.0 0 1,0 6.0,0a3.0,3.0 0 1,0 -6.0,0M262.0,202.4m-3.0,0a3.0,3.0 0 1,0 6.0,0a3.0,3.0 0 1,0 -6.0,0M259.3,216.6m-3.0,0a3.0,3.0 0 1,0 6.0,0a3.0,3.0 0 1,0 -6.0,0M260.0,203.3m-3.0,0a3.0,3.0 0 1,0 6.0,0a3.0,3.0 0 1,0 -6.0,0M256.4,184.5m-3.0,0a3.0,3.0 0 1,0 6.0,0a3.0,3.0 0 1,0 -6.0,0M259.7,235.5m-3.0,0a3.0,3.0 0 1,0 6.0,0a3.0,3.0 0 1,0 -6.0,0M260.0,193.5m-3.0,0a3.0,3.0 0 1,0 6.0,0a3.0,3.0 0 1,0 -6.0,0M255.7,230.3m-3.0,0a3.0,3.0 0 1,0 6.0,0a3.0,3.0 0 1,0 -6.0,0M261.4,211.4m-3.0,0a3.0,3.0 0 1,0 6.0,0a3.0,3.0 0 1,0 -6.0,0M257.8,239.1m-3.0,0a3.0,3.0 0 1,0 6.0,0a3.0,3.0 0 1,0 -6.0,0M257.9,222.6m-3.0,0a3.0,3.0 0 1,0 6.0,0a3.0,3.0 0 1,0 -6.0,0M255.3,240.5m-3.0,0a3.0,3.0 0 1,0 6.0,0a3.0,3.0 0 1,0 -6.0,0M261.7,198.6m-3.0,0a3.0,3.0 0 1,0 6.0,0a3.0,3.0 0 1,0 -6.0,0M263.5,270.8m-3.0,0a3.0,3.0 0 1,0 6.0,0a3.0,3.0 0 1,0 -6.0,0M266.9,197.3m-3.0,0a3.0,3.0 0 1,0 6.0,0a3.0,3.0 0 1,0 -6.0,0M262.9,178.6m-3.0,0a3.0,3.0 0 1,0 6.0,0a3.0,3.0 0 1,0 -6.0,0M261.9,196.6m-3.0,0a3.0,3.0 0 1,0 6.0,0a3.0,3.0 0 1,0 -6.0,0M267.1,175.7m-3.0,0a3.0,3.0 0 1,0 6.0,0a3.0,3.0 0 1,0 -6.0,0M264.7,200.1m-3.0,0a3.0,3.0 0 1,0 6.0,0a3.0,3.0 0 1,0 -6.0,0M266.0,210.9m-3.0,0a3.0,3.0 0 1,0 6.0,0a3.0,3.0 0 1,0 -6.0,0M266.4,244.1m-3.0,0a3.0,3.0 0 1,0 6.0,0a3.0,3.0 0 1,0 -6.0,0M264.8,218.0m-3.0,0a3.0,3.0 0 1,0 6.0,0a3.0,3.0 0 1,0 -6.0,0M265.7,216.0m-3.0,0a3.0,3.0 0 1,0 6.0,0a3.0,3.0 0 1,0 -6.0,0M254.2,189.1m-3.0,0a3.0,3.0 0 1,0 6.0,0a3.0,3.0 0 1,0 -6.0,0M257.5,219.5m-3.0,0a3.0,3.0 0 1,0 6.0,0a3.0,3.0 0 1,0 -6.0,0M255.7,236.4m-3.0,0a3.0,3.0 0 1,0 6.0,0a3.0,3.0 0 1,0 -6.0,0M263.8,162.0m-3.0,0a3.0,3.0 0 1,0 6.0,0a3.0,3.0 0 1,0 -6.0,0M261.6,192.9m-3.0,0a3.0,3.0 0 1,0 6.0,0a3.0,3.0 0 1,0 -6.0,0M254.2,237.1m-3.0,0a3.0,3.0 0 1,0 6.0,0a3.0,3.0 0 1,0 -6.0,0M261.3,228.0m-3.0,0a3.0,3.0 0 1,0 6.0,0a3.0,3.0 0 1,0 -6.0,0M265.5,185.8m-3.0,0a3.0,3.0 0 1,0 6.0,0a3.0,3.0 0 1,0 -6.0,0M256.7,243.2m-3.0,0a3.0,3.0 0 1,0 6.0,0a3.0,3.0 0 1,0 -6.0,0M257.1,205.2m-3.0,0a3.0,3.0 0 1,0 6.0,0a3.0,3.0 0 1,0 -6.0,0M263.6,222.3m-3.0,0a3.0,3.0 0 1,0 6.0,0a3.0,3.0 0 1,0 -6.0,0M255.8,251.7m-3.0,0a3.0,3.0 0 1,0 6.0,0a3.0,3.0 0 1,0 -6.0,0M261.2,225.6m-3.0,0a3.0,3.0 0 1,0 6.0,0a3.0,3.0 0 1,0 -6.0,0M265.1,230.9m-3.0,0a3.0,3.0 0 1,0 6.0,0a3.0,3.0 0 1,0 -6.0,0M267.3,185.9m-3.0,0a3.0,3.0 0 1,0 6.0,0a3.0,3.0 0 1,0 -6.0,0M261.6,277.9m-3.0,0a3.0,3.0 0 1,0 6.0,0a3.0,3.0 0 1,0 -6.0,0M260.3,177.9m-3.0,0a3.0,3.0 0 1,0 6.0,0a3.0,3.0 0 1,0 -6.0,0M254.8,184.4m-3.0,0a3.0,3.0 0 1,0 6.0,0a3.0,3.0 0 1,0 -6.0,0M267.1,210.5m-3.0,0a3.0,3.0 0 1,0 6.0,0a3.0,3.0 0 1,0 -6.0,0M259.9,244.9m-3.0,0a3.0,3.0 0 1,0 6.0,0a3.0,3.0 0 1,0 -6.0,0M260.8,128.0m-3.0,0a3.0,3.0 0 1,0 6.0,0a3.0,3.0 0 1,0 -6.0,0M264.7,194.5m-3.0,0a3.0,3.0 0 1,0 6.0,0a3.0,3.0 0 1,0 -6.0,0M258.0,194.9m-3.0,0a3.0,3.0 0 1,0 6.0,0a3.0,3.0 0 1,0 -6.0,0M266.1,185.1m-3.0,0a3.0,3.0 0 1,0 6.0,0a3.0,3.0 0 1,0 -6.0,0M259.1,183.0m-3.0,0a3.0,3.0 0 1,0 6.0,0a3.0,3.0 0 1,0 -6.0,0M255.7,246.8m-3.0,0a3.0,3.0 0 1,0 6.0,0a3.0,3.0 0 1,0 -6.0,0M255.4,227.2m-3.0,0a3.0,3.0 0 1,0 6.0,0a3.0,3.0 0 1,0 -6.0,0M258.0,219.9m-3.0,0a3.0,3.0 0 1,0 6.0,0a3.0,3.0 0 1,0 -6.0,0M262.5,209.4m-3.0,0a3.0,3.0 0 1,0 6.0,0a3.0,3.0 0 1,0 -6.0,0M253.2,234.2m-3.0,0a3.0,3.0 0 1,0 6.0,0a3.0,3.0 0 1,0 -6.0,0M253.2,217.0m-3.0,0a3.0,3.0 0 1,0 6.0,0a3.0,3.0 0 1,0 -6.0,0M263.8,131.1m-3.0,0a3.0,3.0 0 1,0 6.0,0a3.0,3.0 0 1,0 -6.0,0M258.4,268.6m-3.0,0a3.0,3.0 0 1,0 6.0,0a3.0,3.0 0 1,0 -6.0,0M258.6,200.8m-3.0,0a3.0,3.0 0 1,0 6.0,0a3.0,3.0 0 1,0 -6.0,0M254.7,240.9m-3.0,0a3.0,3.0 0 1,0 6.0,0a3.0,3.0 0 1,0 -6.0,0M264.1,230.9m-3.0,0a3.0,3.0 0 1,0 6.0,0a3.0,3.0 0 1,0 -6.0,0M260.7,255.7m-3.0,0a3.0,3.0 0 1,0 6.0,0a3.0,3.0 0 1,0 -6.0,0M265.9,218.3m-3.0,0a3.0,3.0 0 1,0 6.0,0a3.0,3.0 0 1,0 -6.0,0M263.2,241.9m-3.0,0a3.0,3.0 0 1,0 6.0,0a3.0,3.0 0 1,0 -6.0,0M256.9,222.1m-3.0,0a3.0,3.0 0 1,0 6.0,0a3.0,3.0 0 1,0 -6.0,0M258.0,228.4m-3.0,0a3.0,3.0 0 1,0 6.0,0a3.0,3.0 0 1,0 -6.0,0M264.4,182.0m-3.0,0a3.0,3.0 0 1,0 6.0,0a3.0,3.0 0 1,0 -6.0,0M256.9,137.0m-3.0,0a3.0,3.0 0 1,0 6.0,0a3.0,3.0 0 1,0 -6.0,0M255.6,190.9m-3.0,0a3.0,3.0 0 1,0 6.0,0a3.0,3.0 0 1,0 -6.0,0M258.2,197.7m-3.0,0a3.0,3.0 0 1,0 6.0,0a3.0,3.0 0 1,0 -6.0,0M257.2,207.4m-3.0,0a3.0,3.0 0 1,0 6.0,0a3.0,3.0 0 1,0 -6.0,0M257.0,183.7m-3.0,0a3.0,3.0 0 1,0 6.0,0a3.0,3.0 0 1,0 -6.0,0M268.2,216.2m-3.0,0a3.0,3.0 0 1,0 6.0,0a3.0,3.0 0 1,0 -6.0,0M266.3,163.0m-3.0,0a3.0,3.0 0 1,0 6.0,0a3.0,3.0 0 1,0 -6.0,0M265.5,165.7m-3.0,0a3.0,3.0 0 1,0 6.0,0a3.0,3.0 0 1,0 -6.0,0M262.2,148.9m-3.0,0a3.0,3.0 0 1,0 6.0,0a3.0,3.0 0 1,0 -6.0,0"/>
<text x="36.2" y="29.6" text-anchor="start" font-size="16.5" fill="#111" font-weight="bold" textLength="22.0" lengthAdjust="spacingAndGlyphs">(A)</text>
<text transform="translate(45.8,166.6) rotate(-90)" text-anchor="middle" font-size="13" fill="#505050" font-weight="normal" textLength="152.5" lengthAdjust="spacingAndGlyphs" stroke="#505050" stroke-width="0.3">Log10 Protein Residuals</text>
<text x="100.2" y="331.8" text-anchor="start" font-size="12" fill="#555" font-weight="normal" textLength="91.6" lengthAdjust="spacingAndGlyphs">Healthy individuals</text>
<text x="234.5" y="331.8" text-anchor="start" font-size="12" fill="#555" font-weight="normal" textLength="55.4" lengthAdjust="spacingAndGlyphs">COVID-19</text>
<path d="M424.0,56.90H663.0" stroke="#ebebeb" stroke-width="1"/>
<path d="M424.0,116.10H663.0" stroke="#ebebeb" stroke-width="1"/>
<path d="M424.0,234.50H663.0" stroke="#ebebeb" stroke-width="1"/>
<path d="M424.0,293.70H663.0" stroke="#ebebeb" stroke-width="1"/>
<text x="450.2" y="56.0" text-anchor="end" font-size="12" fill="#555" font-weight="normal" textLength="17.5" lengthAdjust="spacingAndGlyphs" stroke="#555" stroke-width="0.25">0.4</text>
<text x="450.2" y="115.2" text-anchor="end" font-size="12" fill="#555" font-weight="normal" textLength="17.5" lengthAdjust="spacingAndGlyphs" stroke="#555" stroke-width="0.25">0.2</text>
<text x="450.2" y="174.4" text-anchor="end" font-size="12" fill="#555" font-weight="normal" textLength="6.8" lengthAdjust="spacingAndGlyphs" stroke="#555" stroke-width="0.25">0</text>
<text x="450.2" y="233.6" text-anchor="end" font-size="12" fill="#555" font-weight="normal" textLength="26.0" lengthAdjust="spacingAndGlyphs" stroke="#555" stroke-width="0.25">−0.2</text>
<text x="450.2" y="292.8" text-anchor="end" font-size="12" fill="#555" font-weight="normal" textLength="26.0" lengthAdjust="spacingAndGlyphs" stroke="#555" stroke-width="0.25">−0.4</text>
<path d="M423.5,175.60H663.0" stroke="#444444" stroke-width="1.8"/>
<rect x="453.80" y="162.00" width="59.20" height="44.80" fill="#005a80" fill-opacity="0.5" stroke="#005f87" stroke-width="2"/>
<path d="M453.80,186.00H513.00M483.40,162.00V95.70M483.40,206.80V270.90" stroke="#005f87" stroke-width="2" fill="none"/>
<path d="M468.60,95.70H498.20" stroke="#005f87" stroke-width="2" fill="none"/>
<path d="M468.60,270.90H498.20" stroke="#9fc3d3" stroke-width="2" fill="none"/>
<rect x="573.00" y="112.00" width="59.20" height="64.70" fill="#f99d00" fill-opacity="0.5" stroke="#f9a202" stroke-width="2"/>
<path d="M573.00,140.60H632.20M602.60,112.00V23.10M602.60,176.70V253.10" stroke="#f9a202" stroke-width="2" fill="none"/>
<path d="M587.80,23.10H617.40" stroke="#f9a202" stroke-width="2" fill="none"/>
<path d="M587.80,253.10H617.40" stroke="#f9a202" stroke-width="2" fill="none"/>
<path fill="#005f87" d="M484.3,76.5m-3.0,0a3.0,3.0 0 1,0 6.0,0a3.0,3.0 0 1,0 -6.0,0M479.5,194.2m-3.0,0a3.0,3.0 0 1,0 6.0,0a3.0,3.0 0 1,0 -6.0,0M478.0,191.1m-3.0,0a3.0,3.0 0 1,0 6.0,0a3.0,3.0 0 1,0 -6.0,0M490.3,196.1m-3.0,0a3.0,3.0 0 1,0 6.0,0a3.0,3.0 0 1,0 -6.0,0M488.5,155.7m-3.0,0a3.0,3.0 0 1,0 6.0,0a3.0,3.0 0 1,0 -6.0,0M481.7,101.0m-3.0,0a3.0,3.0 0 1,0 6.0,0a3.0,3.0 0 1,0 -6.0,0M483.5,148.8m-3.0,0a3.0,3.0 0 1,0 6.0,0a3.0,3.0 0 1,0 -6.0,0M478.6,131.4m-3.0,0a3.0,3.0 0 1,0 6.0,0a3.0,3.0 0 1,0 -6.0,0M479.8,171.8m-3.0,0a3.0,3.0 0 1,0 6.0,0a3.0,3.0 0 1,0 -6.0,0M477.8,184.0m-3.0,0a3.0,3.0 0 1,0 6.0,0a3.0,3.0 0 1,0 -6.0,0M488.8,189.3m-3.0,0a3.0,3.0 0 1,0 6.0,0a3.0,3.0 0 1,0 -6.0,0M486.1,240.3m-3.0,0a3.0,3.0 0 1,0 6.0,0a3.0,3.0 0 1,0 -6.0,0M476.7,175.3m-3.0,0a3.0,3.0 0 1,0 6.0,0a3.0,3.0 0 1,0 -6.0,0M482.7,121.6m-3.0,0a3.0,3.0 0 1,0 6.0,0a3.0,3.0 0 1,0 -6.0,0M479.4,208.6m-3.0,0a3.0,3.0 0 1,0 6.0,0a3.0,3.0 0 1,0 -6.0,0M489.6,177.2m-3.0,0a3.0,3.0 0 1,0 6.0,0a3.0,3.0 0 1,0 -6.0,0M477.9,223.0m-3.0,0a3.0,3.0 0 1,0 6.0,0a3.0,3.0 0 1,0 -6.0,0M481.5,134.1m-3.0,0a3.0,3.0 0 1,0 6.0,0a3.0,3.0 0 1,0 -6.0,0M488.3,202.4m-3.0,0a3.0,3.0 0 1,0 6.0,0a3.0,3.0 0 1,0 -6.0,0M485.4,151.7m-3.0,0a3.0,3.0 0 1,0 6.0,0a3.0,3.0 0 1,0 -6.0,0M477.7,148.2m-3.0,0a3.0,3.0 0 1,0 6.0,0a3.0,3.0 0 1,0 -6.0,0M485.0,231.4m-3.0,0a3.0,3.0 0 1,0 6.0,0a3.0,3.0 0 1,0 -6.0,0M478.1,201.3m-3.0,0a3.0,3.0 0 1,0 6.0,0a3.0,3.0 0 1,0 -6.0,0M481.7,153.7m-3.0,0a3.0,3.0 0 1,0 6.0,0a3.0,3.0 0 1,0 -6.0,0M482.2,170.0m-3.0,0a3.0,3.0 0 1,0 6.0,0a3.0,3.0 0 1,0 -6.0,0M486.6,126.0m-3.0,0a3.0,3.0 0 1,0 6.0,0a3.0,3.0 0 1,0 -6.0,0M488.3,211.4m-3.0,0a3.0,3.0 0 1,0 6.0,0a3.0,3.0 0 1,0 -6.0,0M481.8,165.0m-3.0,0a3.0,3.0 0 1,0 6.0,0a3.0,3.0 0 1,0 -6.0,0M478.7,242.3m-3.0,0a3.0,3.0 0 1,0 6.0,0a3.0,3.0 0 1,0 -6.0,0M483.0,199.5m-3.0,0a3.0,3.0 0 1,0 6.0,0a3.0,3.0 0 1,0 -6.0,0M480.3,218.0m-3.0,0a3.0,3.0 0 1,0 6.0,0a3.0,3.0 0 1,0 -6.0,0M483.5,184.3m-3.0,0a3.0,3.0 0 1,0 6.0,0a3.0,3.0 0 1,0 -6.0,0M484.0,133.6m-3.0,0a3.0,3.0 0 1,0 6.0,0a3.0,3.0 0 1,0 -6.0,0M477.2,144.0m-3.0,0a3.0,3.0 0 1,0 6.0,0a3.0,3.0 0 1,0 -6.0,0M489.7,128.5m-3.0,0a3.0,3.0 0 1,0 6.0,0a3.0,3.0 0 1,0 -6.0,0M487.0,203.0m-3.0,0a3.0,3.0 0 1,0 6.0,0a3.0,3.0 0 1,0 -6.0,0M487.8,139.6m-3.0,0a3.0,3.0 0 1,0 6.0,0a3.0,3.0 0 1,0 -6.0,0M484.7,219.6m-3.0,0a3.0,3.0 0 1,0 6.0,0a3.0,3.0 0 1,0 -6.0,0M482.7,187.4m-3.0,0a3.0,3.0 0 1,0 6.0,0a3.0,3.0 0 1,0 -6.0,0M486.3,200.8m-3.0,0a3.0,3.0 0 1,0 6.0,0a3.0,3.0 0 1,0 -6.0,0M489.7,166.9m-3.0,0a3.0,3.0 0 1,0 6.0,0a3.0,3.0 0 1,0 -6.0,0M478.3,124.1m-3.0,0a3.0,3.0 0 1,0 6.0,0a3.0,3.0 0 1,0 -6.0,0M490.0,213.9m-3.0,0a3.0,3.0 0 1,0 6.0,0a3.0,3.0 0 1,0 -6.0,0M486.2,204.7m-3.0,0a3.0,3.0 0 1,0 6.0,0a3.0,3.0 0 1,0 -6.0,0M489.8,122.7m-3.0,0a3.0,3.0 0 1,0 6.0,0a3.0,3.0 0 1,0 -6.0,0M482.4,157.4m-3.0,0a3.0,3.0 0 1,0 6.0,0a3.0,3.0 0 1,0 -6.0,0M479.4,151.2m-3.0,0a3.0,3.0 0 1,0 6.0,0a3.0,3.0 0 1,0 -6.0,0M485.8,187.3m-3.0,0a3.0,3.0 0 1,0 6.0,0a3.0,3.0 0 1,0 -6.0,0M479.7,168.8m-3.0,0a3.0,3.0 0 1,0 6.0,0a3.0,3.0 0 1,0 -6.0,0M490.6,217.1m-3.0,0a3.0,3.0 0 1,0 6.0,0a3.0,3.0 0 1,0 -6.0,0M485.8,139.3m-3.0,0a3.0,3.0 0 1,0 6.0,0a3.0,3.0 0 1,0 -6.0,0M487.4,172.5m-3.0,0a3.0,3.0 0 1,0 6.0,0a3.0,3.0 0 1,0 -6.0,0M478.4,178.6m-3.0,0a3.0,3.0 0 1,0 6.0,0a3.0,3.0 0 1,0 -6.0,0M480.7,115.5m-3.0,0a3.0,3.0 0 1,0 6.0,0a3.0,3.0 0 1,0 -6.0,0M485.1,225.8m-3.0,0a3.0,3.0 0 1,0 6.0,0a3.0,3.0 0 1,0 -6.0,0M483.2,234.0m-3.0,0a3.0,3.0 0 1,0 6.0,0a3.0,3.0 0 1,0 -6.0,0M485.0,244.0m-3.0,0a3.0,3.0 0 1,0 6.0,0a3.0,3.0 0 1,0 -6.0,0M477.0,213.1m-3.0,0a3.0,3.0 0 1,0 6.0,0a3.0,3.0 0 1,0 -6.0,0M488.0,185.4m-3.0,0a3.0,3.0 0 1,0 6.0,0a3.0,3.0 0 1,0 -6.0,0M476.4,201.6m-3.0,0a3.0,3.0 0 1,0 6.0,0a3.0,3.0 0 1,0 -6.0,0M481.9,154.8m-3.0,0a3.0,3.0 0 1,0 6.0,0a3.0,3.0 0 1,0 -6.0,0M488.4,179.4m-3.0,0a3.0,3.0 0 1,0 6.0,0a3.0,3.0 0 1,0 -6.0,0M480.7,127.3m-3.0,0a3.0,3.0 0 1,0 6.0,0a3.0,3.0 0 1,0 -6.0,0M487.0,129.9m-3.0,0a3.0,3.0 0 1,0 6.0,0a3.0,3.0 0 1,0 -6.0,0M477.3,183.0m-3.0,0a3.0,3.0 0 1,0 6.0,0a3.0,3.0 0 1,0 -6.0,0M476.6,197.4m-3.0,0a3.0,3.0 0 1,0 6.0,0a3.0,3.0 0 1,0 -6.0,0M481.3,210.2m-3.0,0a3.0,3.0 0 1,0 6.0,0a3.0,3.0 0 1,0 -6.0,0M484.1,169.4m-3.0,0a3.0,3.0 0 1,0 6.0,0a3.0,3.0 0 1,0 -6.0,0M476.5,179.6m-3.0,0a3.0,3.0 0 1,0 6.0,0a3.0,3.0 0 1,0 -6.0,0M480.7,136.3m-3.0,0a3.0,3.0 0 1,0 6.0,0a3.0,3.0 0 1,0 -6.0,0M478.0,146.0m-3.0,0a3.0,3.0 0 1,0 6.0,0a3.0,3.0 0 1,0 -6.0,0M476.6,159.1m-3.0,0a3.0,3.0 0 1,0 6.0,0a3.0,3.0 0 1,0 -6.0,0M487.9,182.3m-3.0,0a3.0,3.0 0 1,0 6.0,0a3.0,3.0 0 1,0 -6.0,0M479.8,196.9m-3.0,0a3.0,3.0 0 1,0 6.0,0a3.0,3.0 0 1,0 -6.0,0M488.0,154.3m-3.0,0a3.0,3.0 0 1,0 6.0,0a3.0,3.0 0 1,0 -6.0,0M477.8,138.5m-3.0,0a3.0,3.0 0 1,0 6.0,0a3.0,3.0 0 1,0 -6.0,0M480.8,212.7m-3.0,0a3.0,3.0 0 1,0 6.0,0a3.0,3.0 0 1,0 -6.0,0M483.3,145.0m-3.0,0a3.0,3.0 0 1,0 6.0,0a3.0,3.0 0 1,0 -6.0,0M490.2,207.9m-3.0,0a3.0,3.0 0 1,0 6.0,0a3.0,3.0 0 1,0 -6.0,0M487.0,142.7m-3.0,0a3.0,3.0 0 1,0 6.0,0a3.0,3.0 0 1,0 -6.0,0M477.7,191.6m-3.0,0a3.0,3.0 0 1,0 6.0,0a3.0,3.0 0 1,0 -6.0,0M488.7,232.6m-3.0,0a3.0,3.0 0 1,0 6.0,0a3.0,3.0 0 1,0 -6.0,0M479.3,206.8m-3.0,0a3.0,3.0 0 1,0 6.0,0a3.0,3.0 0 1,0 -6.0,0M479.0,197.9m-3.0,0a3.0,3.0 0 1,0 6.0,0a3.0,3.0 0 1,0 -6.0,0M486.7,162.3m-3.0,0a3.0,3.0 0 1,0 6.0,0a3.0,3.0 0 1,0 -6.0,0M483.7,227.6m-3.0,0a3.0,3.0 0 1,0 6.0,0a3.0,3.0 0 1,0 -6.0,0M476.2,161.7m-3.0,0a3.0,3.0 0 1,0 6.0,0a3.0,3.0 0 1,0 -6.0,0M490.1,180.2m-3.0,0a3.0,3.0 0 1,0 6.0,0a3.0,3.0 0 1,0 -6.0,0M481.8,91.2m-3.0,0a3.0,3.0 0 1,0 6.0,0a3.0,3.0 0 1,0 -6.0,0M484.4,215.1m-3.0,0a3.0,3.0 0 1,0 6.0,0a3.0,3.0 0 1,0 -6.0,0M483.3,185.5m-3.0,0a3.0,3.0 0 1,0 6.0,0a3.0,3.0 0 1,0 -6.0,0M491.1,149.4m-3.0,0a3.0,3.0 0 1,0 6.0,0a3.0,3.0 0 1,0 -6.0,0M482.0,188.5m-3.0,0a3.0,3.0 0 1,0 6.0,0a3.0,3.0 0 1,0 -6.0,0M490.0,143.3m-3.0,0a3.0,3.0 0 1,0 6.0,0a3.0,3.0 0 1,0 -6.0,0M489.2,157.7m-3.0,0a3.0,3.0 0 1,0 6.0,0a3.0,3.0 0 1,0 -6.0,0M486.3,221.9m-3.0,0a3.0,3.0 0 1,0 6.0,0a3.0,3.0 0 1,0 -6.0,0M476.4,178.9m-3.0,0a3.0,3.0 0 1,0 6.0,0a3.0,3.0 0 1,0 -6.0,0M489.0,137.1m-3.0,0a3.0,3.0 0 1,0 6.0,0a3.0,3.0 0 1,0 -6.0,0M486.6,186.0m-3.0,0a3.0,3.0 0 1,0 6.0,0a3.0,3.0 0 1,0 -6.0,0M485.1,195.6m-3.0,0a3.0,3.0 0 1,0 6.0,0a3.0,3.0 0 1,0 -6.0,0M480.9,266.2m-3.0,0a3.0,3.0 0 1,0 6.0,0a3.0,3.0 0 1,0 -6.0,0M488.0,167.6m-3.0,0a3.0,3.0 0 1,0 6.0,0a3.0,3.0 0 1,0 -6.0,0M485.6,167.8m-3.0,0a3.0,3.0 0 1,0 6.0,0a3.0,3.0 0 1,0 -6.0,0M488.2,163.0m-3.0,0a3.0,3.0 0 1,0 6.0,0a3.0,3.0 0 1,0 -6.0,0M482.6,215.0m-3.0,0a3.0,3.0 0 1,0 6.0,0a3.0,3.0 0 1,0 -6.0,0M479.3,215.8m-3.0,0a3.0,3.0 0 1,0 6.0,0a3.0,3.0 0 1,0 -6.0,0M482.9,155.1m-3.0,0a3.0,3.0 0 1,0 6.0,0a3.0,3.0 0 1,0 -6.0,0M480.6,173.0m-3.0,0a3.0,3.0 0 1,0 6.0,0a3.0,3.0 0 1,0 -6.0,0M490.3,207.0m-3.0,0a3.0,3.0 0 1,0 6.0,0a3.0,3.0 0 1,0 -6.0,0M488.2,121.9m-3.0,0a3.0,3.0 0 1,0 6.0,0a3.0,3.0 0 1,0 -6.0,0M478.6,190.7m-3.0,0a3.0,3.0 0 1,0 6.0,0a3.0,3.0 0 1,0 -6.0,0M480.4,165.7m-3.0,0a3.0,3.0 0 1,0 6.0,0a3.0,3.0 0 1,0 -6.0,0M482.6,160.5m-3.0,0a3.0,3.0 0 1,0 6.0,0a3.0,3.0 0 1,0 -6.0,0M477.4,223.5m-3.0,0a3.0,3.0 0 1,0 6.0,0a3.0,3.0 0 1,0 -6.0,0M484.0,163.2m-3.0,0a3.0,3.0 0 1,0 6.0,0a3.0,3.0 0 1,0 -6.0,0M484.5,248.1m-3.0,0a3.0,3.0 0 1,0 6.0,0a3.0,3.0 0 1,0 -6.0,0M488.4,239.2m-3.0,0a3.0,3.0 0 1,0 6.0,0a3.0,3.0 0 1,0 -6.0,0M482.5,213.7m-3.0,0a3.0,3.0 0 1,0 6.0,0a3.0,3.0 0 1,0 -6.0,0M479.7,152.3m-3.0,0a3.0,3.0 0 1,0 6.0,0a3.0,3.0 0 1,0 -6.0,0M484.8,245.5m-3.0,0a3.0,3.0 0 1,0 6.0,0a3.0,3.0 0 1,0 -6.0,0M483.1,146.4m-3.0,0a3.0,3.0 0 1,0 6.0,0a3.0,3.0 0 1,0 -6.0,0M488.7,176.2m-3.0,0a3.0,3.0 0 1,0 6.0,0a3.0,3.0 0 1,0 -6.0,0M482.6,177.9m-3.0,0a3.0,3.0 0 1,0 6.0,0a3.0,3.0 0 1,0 -6.0,0M479.4,205.8m-3.0,0a3.0,3.0 0 1,0 6.0,0a3.0,3.0 0 1,0 -6.0,0M476.4,181.7m-3.0,0a3.0,3.0 0 1,0 6.0,0a3.0,3.0 0 1,0 -6.0,0M478.1,145.3m-3.0,0a3.0,3.0 0 1,0 6.0,0a3.0,3.0 0 1,0 -6.0,0M488.7,228.7m-3.0,0a3.0,3.0 0 1,0 6.0,0a3.0,3.0 0 1,0 -6.0,0M484.2,207.4m-3.0,0a3.0,3.0 0 1,0 6.0,0a3.0,3.0 0 1,0 -6.0,0M478.2,226.7m-3.0,0a3.0,3.0 0 1,0 6.0,0a3.0,3.0 0 1,0 -6.0,0M490.9,141.0m-3.0,0a3.0,3.0 0 1,0 6.0,0a3.0,3.0 0 1,0 -6.0,0M478.5,156.7m-3.0,0a3.0,3.0 0 1,0 6.0,0a3.0,3.0 0 1,0 -6.0,0M482.6,159.9m-3.0,0a3.0,3.0 0 1,0 6.0,0a3.0,3.0 0 1,0 -6.0,0M486.6,220.9m-3.0,0a3.0,3.0 0 1,0 6.0,0a3.0,3.0 0 1,0 -6.0,0M490.7,147.6m-3.0,0a3.0,3.0 0 1,0 6.0,0a3.0,3.0 0 1,0 -6.0,0M480.8,117.9m-3.0,0a3.0,3.0 0 1,0 6.0,0a3.0,3.0 0 1,0 -6.0,0M480.6,133.0m-3.0,0a3.0,3.0 0 1,0 6.0,0a3.0,3.0 0 1,0 -6.0,0M482.7,126.9m-3.0,0a3.0,3.0 0 1,0 6.0,0a3.0,3.0 0 1,0 -6.0,0M485.0,87.9m-3.0,0a3.0,3.0 0 1,0 6.0,0a3.0,3.0 0 1,0 -6.0,0M491.0,162.2m-3.0,0a3.0,3.0 0 1,0 6.0,0a3.0,3.0 0 1,0 -6.0,0M488.2,230.2m-3.0,0a3.0,3.0 0 1,0 6.0,0a3.0,3.0 0 1,0 -6.0,0M485.7,152.9m-3.0,0a3.0,3.0 0 1,0 6.0,0a3.0,3.0 0 1,0 -6.0,0M490.4,211.5m-3.0,0a3.0,3.0 0 1,0 6.0,0a3.0,3.0 0 1,0 -6.0,0M480.8,206.2m-3.0,0a3.0,3.0 0 1,0 6.0,0a3.0,3.0 0 1,0 -6.0,0M488.3,250.8m-3.0,0a3.0,3.0 0 1,0 6.0,0a3.0,3.0 0 1,0 -6.0,0M482.0,164.3m-3.0,0a3.0,3.0 0 1,0 6.0,0a3.0,3.0 0 1,0 -6.0,0M486.4,169.6m-3.0,0a3.0,3.0 0 1,0 6.0,0a3.0,3.0 0 1,0 -6.0,0M487.8,218.4m-3.0,0a3.0,3.0 0 1,0 6.0,0a3.0,3.0 0 1,0 -6.0,0M486.7,120.1m-3.0,0a3.0,3.0 0 1,0 6.0,0a3.0,3.0 0 1,0 -6.0,0M489.0,134.6m-3.0,0a3.0,3.0 0 1,0 6.0,0a3.0,3.0 0 1,0 -6.0,0M476.0,174.4m-3.0,0a3.0,3.0 0 1,0 6.0,0a3.0,3.0 0 1,0 -6.0,0M481.2,220.0m-3.0,0a3.0,3.0 0 1,0 6.0,0a3.0,3.0 0 1,0 -6.0,0M480.5,160.2m-3.0,0a3.0,3.0 0 1,0 6.0,0a3.0,3.0 0 1,0 -6.0,0M484.4,113.5m-3.0,0a3.0,3.0 0 1,0 6.0,0a3.0,3.0 0 1,0 -6.0,0M483.5,235.2m-3.0,0a3.0,3.0 0 1,0 6.0,0a3.0,3.0 0 1,0 -6.0,0M481.8,174.0m-3.0,0a3.0,3.0 0 1,0 6.0,0a3.0,3.0 0 1,0 -6.0,0M489.5,125.5m-3.0,0a3.0,3.0 0 1,0 6.0,0a3.0,3.0 0 1,0 -6.0,0M480.2,166.4m-3.0,0a3.0,3.0 0 1,0 6.0,0a3.0,3.0 0 1,0 -6.0,0M477.7,129.4m-3.0,0a3.0,3.0 0 1,0 6.0,0a3.0,3.0 0 1,0 -6.0,0M490.8,198.6m-3.0,0a3.0,3.0 0 1,0 6.0,0a3.0,3.0 0 1,0 -6.0,0M489.7,182.1m-3.0,0a3.0,3.0 0 1,0 6.0,0a3.0,3.0 0 1,0 -6.0,0M477.0,234.5m-3.0,0a3.0,3.0 0 1,0 6.0,0a3.0,3.0 0 1,0 -6.0,0M489.2,135.9m-3.0,0a3.0,3.0 0 1,0 6.0,0a3.0,3.0 0 1,0 -6.0,0M481.4,159.1m-3.0,0a3.0,3.0 0 1,0 6.0,0a3.0,3.0 0 1,0 -6.0,0M488.5,224.1m-3.0,0a3.0,3.0 0 1,0 6.0,0a3.0,3.0 0 1,0 -6.0,0M479.2,203.3m-3.0,0a3.0,3.0 0 1,0 6.0,0a3.0,3.0 0 1,0 -6.0,0M483.2,236.3m-3.0,0a3.0,3.0 0 1,0 6.0,0a3.0,3.0 0 1,0 -6.0,0M487.5,150.1m-3.0,0a3.0,3.0 0 1,0 6.0,0a3.0,3.0 0 1,0 -6.0,0M478.3,201.9m-3.0,0a3.0,3.0 0 1,0 6.0,0a3.0,3.0 0 1,0 -6.0,0M481.0,131.7m-3.0,0a3.0,3.0 0 1,0 6.0,0a3.0,3.0 0 1,0 -6.0,0M490.6,192.2m-3.0,0a3.0,3.0 0 1,0 6.0,0a3.0,3.0 0 1,0 -6.0,0M488.5,218.9m-3.0,0a3.0,3.0 0 1,0 6.0,0a3.0,3.0 0 1,0 -6.0,0M478.9,245.3m-3.0,0a3.0,3.0 0 1,0 6.0,0a3.0,3.0 0 1,0 -6.0,0M484.6,164.0m-3.0,0a3.0,3.0 0 1,0 6.0,0a3.0,3.0 0 1,0 -6.0,0M479.8,142.5m-3.0,0a3.0,3.0 0 1,0 6.0,0a3.0,3.0 0 1,0 -6.0,0M478.3,230.7m-3.0,0a3.0,3.0 0 1,0 6.0,0a3.0,3.0 0 1,0 -6.0,0M483.2,259.8m-3.0,0a3.0,3.0 0 1,0 6.0,0a3.0,3.0 0 1,0 -6.0,0M479.5,158.6m-3.0,0a3.0,3.0 0 1,0 6.0,0a3.0,3.0 0 1,0 -6.0,0M483.7,224.7m-3.0,0a3.0,3.0 0 1,0 6.0,0a3.0,3.0 0 1,0 -6.0,0M487.2,205.1m-3.0,0a3.0,3.0 0 1,0 6.0,0a3.0,3.0 0 1,0 -6.0,0M479.1,165.5m-3.0,0a3.0,3.0 0 1,0 6.0,0a3.0,3.0 0 1,0 -6.0,0M487.5,256.1m-3.0,0a3.0,3.0 0 1,0 6.0,0a3.0,3.0 0 1,0 -6.0,0M482.4,269.2m-3.0,0a3.0,3.0 0 1,0 6.0,0a3.0,3.0 0 1,0 -6.0,0M486.8,173.4m-3.0,0a3.0,3.0 0 1,0 6.0,0a3.0,3.0 0 1,0 -6.0,0M485.3,193.8m-3.0,0a3.0,3.0 0 1,0 6.0,0a3.0,3.0 0 1,0 -6.0,0M485.7,188.0m-3.0,0a3.0,3.0 0 1,0 6.0,0a3.0,3.0 0 1,0 -6.0,0M480.9,166.5m-3.0,0a3.0,3.0 0 1,0 6.0,0a3.0,3.0 0 1,0 -6.0,0M480.0,192.3m-3.0,0a3.0,3.0 0 1,0 6.0,0a3.0,3.0 0 1,0 -6.0,0M485.5,170.9m-3.0,0a3.0,3.0 0 1,0 6.0,0a3.0,3.0 0 1,0 -6.0,0M476.9,184.9m-3.0,0a3.0,3.0 0 1,0 6.0,0a3.0,3.0 0 1,0 -6.0,0M482.8,174.8m-3.0,0a3.0,3.0 0 1,0 6.0,0a3.0,3.0 0 1,0 -6.0,0M486.5,226.0m-3.0,0a3.0,3.0 0 1,0 6.0,0a3.0,3.0 0 1,0 -6.0,0M483.6,268.5m-3.0,0a3.0,3.0 0 1,0 6.0,0a3.0,3.0 0 1,0 -6.0,0M483.9,176.6m-3.0,0a3.0,3.0 0 1,0 6.0,0a3.0,3.0 0 1,0 -6.0,0M480.4,204.5m-3.0,0a3.0,3.0 0 1,0 6.0,0a3.0,3.0 0 1,0 -6.0,0M480.4,252.2m-3.0,0a3.0,3.0 0 1,0 6.0,0a3.0,3.0 0 1,0 -6.0,0M483.9,150.5m-3.0,0a3.0,3.0 0 1,0 6.0,0a3.0,3.0 0 1,0 -6.0,0M478.5,183.4m-3.0,0a3.0,3.0 0 1,0 6.0,0a3.0,3.0 0 1,0 -6.0,0M478.7,220.8m-3.0,0a3.0,3.0 0 1,0 6.0,0a3.0,3.0 0 1,0 -6.0,0M485.1,118.8m-3.0,0a3.0,3.0 0 1,0 6.0,0a3.0,3.0 0 1,0 -6.0,0M488.2,130.8m-3.0,0a3.0,3.0 0 1,0 6.0,0a3.0,3.0 0 1,0 -6.0,0M475.9,168.3m-3.0,0a3.0,3.0 0 1,0 6.0,0a3.0,3.0 0 1,0 -6.0,0M477.3,137.9m-3.0,0a3.0,3.0 0 1,0 6.0,0a3.0,3.0 0 1,0 -6.0,0M479.0,177.4m-3.0,0a3.0,3.0 0 1,0 6.0,0a3.0,3.0 0 1,0 -6.0,0M489.1,193.0m-3.0,0a3.0,3.0 0 1,0 6.0,0a3.0,3.0 0 1,0 -6.0,0M479.2,210.7m-3.0,0a3.0,3.0 0 1,0 6.0,0a3.0,3.0 0 1,0 -6.0,0M487.6,241.2m-3.0,0a3.0,3.0 0 1,0 6.0,0a3.0,3.0 0 1,0 -6.0,0M487.8,175.9m-3.0,0a3.0,3.0 0 1,0 6.0,0a3.0,3.0 0 1,0 -6.0,0M489.2,217.5m-3.0,0a3.0,3.0 0 1,0 6.0,0a3.0,3.0 0 1,0 -6.0,0M485.5,208.8m-3.0,0a3.0,3.0 0 1,0 6.0,0a3.0,3.0 0 1,0 -6.0,0M477.7,233.0m-3.0,0a3.0,3.0 0 1,0 6.0,0a3.0,3.0 0 1,0 -6.0,0M490.1,209.8m-3.0,0a3.0,3.0 0 1,0 6.0,0a3.0,3.0 0 1,0 -6.0,0M487.2,195.1m-3.0,0a3.0,3.0 0 1,0 6.0,0a3.0,3.0 0 1,0 -6.0,0M481.6,242.2m-3.0,0a3.0,3.0 0 1,0 6.0,0a3.0,3.0 0 1,0 -6.0,0M484.6,157.0m-3.0,0a3.0,3.0 0 1,0 6.0,0a3.0,3.0 0 1,0 -6.0,0M479.0,222.3m-3.0,0a3.0,3.0 0 1,0 6.0,0a3.0,3.0 0 1,0 -6.0,0M485.2,116.5m-3.0,0a3.0,3.0 0 1,0 6.0,0a3.0,3.0 0 1,0 -6.0,0M483.7,216.7m-3.0,0a3.0,3.0 0 1,0 6.0,0a3.0,3.0 0 1,0 -6.0,0M487.5,161.1m-3.0,0a3.0,3.0 0 1,0 6.0,0a3.0,3.0 0 1,0 -6.0,0M486.0,119.2m-3.0,0a3.0,3.0 0 1,0 6.0,0a3.0,3.0 0 1,0 -6.0,0M480.4,194.9m-3.0,0a3.0,3.0 0 1,0 6.0,0a3.0,3.0 0 1,0 -6.0,0M481.2,214.5m-3.0,0a3.0,3.0 0 1,0 6.0,0a3.0,3.0 0 1,0 -6.0,0M488.7,141.9m-3.0,0a3.0,3.0 0 1,0 6.0,0a3.0,3.0 0 1,0 -6.0,0M482.6,261.8m-3.0,0a3.0,3.0 0 1,0 6.0,0a3.0,3.0 0 1,0 -6.0,0M477.3,216.3m-3.0,0a3.0,3.0 0 1,0 6.0,0a3.0,3.0 0 1,0 -6.0,0M479.3,204.0m-3.0,0a3.0,3.0 0 1,0 6.0,0a3.0,3.0 0 1,0 -6.0,0M481.3,258.0m-3.0,0a3.0,3.0 0 1,0 6.0,0a3.0,3.0 0 1,0 -6.0,0M483.2,280.0m-3.0,0a3.0,3.0 0 1,0 6.0,0a3.0,3.0 0 1,0 -6.0,0M489.7,171.1m-3.0,0a3.0,3.0 0 1,0 6.0,0a3.0,3.0 0 1,0 -6.0,0M479.6,186.7m-3.0,0a3.0,3.0 0 1,0 6.0,0a3.0,3.0 0 1,0 -6.0,0M478.6,229.7m-3.0,0a3.0,3.0 0 1,0 6.0,0a3.0,3.0 0 1,0 -6.0,0M483.2,237.8m-3.0,0a3.0,3.0 0 1,0 6.0,0a3.0,3.0 0 1,0 -6.0,0M480.9,199.6m-3.0,0a3.0,3.0 0 1,0 6.0,0a3.0,3.0 0 1,0 -6.0,0M486.3,249.7m-3.0,0a3.0,3.0 0 1,0 6.0,0a3.0,3.0 0 1,0 -6.0,0M488.2,140.6m-3.0,0a3.0,3.0 0 1,0 6.0,0a3.0,3.0 0 1,0 -6.0,0M482.6,228.1m-3.0,0a3.0,3.0 0 1,0 6.0,0a3.0,3.0 0 1,0 -6.0,0M487.4,200.2m-3.0,0a3.0,3.0 0 1,0 6.0,0a3.0,3.0 0 1,0 -6.0,0M481.6,172.2m-3.0,0a3.0,3.0 0 1,0 6.0,0a3.0,3.0 0 1,0 -6.0,0M484.2,298.2m-3.0,0a3.0,3.0 0 1,0 6.0,0a3.0,3.0 0 1,0 -6.0,0M488.5,189.7m-3.0,0a3.0,3.0 0 1,0 6.0,0a3.0,3.0 0 1,0 -6.0,0M482.7,254.5m-3.0,0a3.0,3.0 0 1,0 6.0,0a3.0,3.0 0 1,0 -6.0,0M491.0,188.8m-3.0,0a3.0,3.0 0 1,0 6.0,0a3.0,3.0 0 1,0 -6.0,0M480.2,254.1m-3.0,0a3.0,3.0 0 1,0 6.0,0a3.0,3.0 0 1,0 -6.0,0M484.5,209.3m-3.0,0a3.0,3.0 0 1,0 6.0,0a3.0,3.0 0 1,0 -6.0,0M486.0,147.1m-3.0,0a3.0,3.0 0 1,0 6.0,0a3.0,3.0 0 1,0 -6.0,0M485.6,152.6m-3.0,0a3.0,3.0 0 1,0 6.0,0a3.0,3.0 0 1,0 -6.0,0M480.9,190.2m-3.0,0a3.0,3.0 0 1,0 6.0,0a3.0,3.0 0 1,0 -6.0,0M484.6,286.5m-3.0,0a3.0,3.0 0 1,0 6.0,0a3.0,3.0 0 1,0 -6.0,0M484.3,180.7m-3.0,0a3.0,3.0 0 1,0 6.0,0a3.0,3.0 0 1,0 -6.0,0M489.4,224.5m-3.0,0a3.0,3.0 0 1,0 6.0,0a3.0,3.0 0 1,0 -6.0,0M489.1,237.5m-3.0,0a3.0,3.0 0 1,0 6.0,0a3.0,3.0 0 1,0 -6.0,0M486.0,95.8m-3.0,0a3.0,3.0 0 1,0 6.0,0a3.0,3.0 0 1,0 -6.0,0M479.3,196.7m-3.0,0a3.0,3.0 0 1,0 6.0,0a3.0,3.0 0 1,0 -6.0,0M483.6,124.5m-3.0,0a3.0,3.0 0 1,0 6.0,0a3.0,3.0 0 1,0 -6.0,0M479.3,193.5m-3.0,0a3.0,3.0 0 1,0 6.0,0a3.0,3.0 0 1,0 -6.0,0M484.4,198.9m-3.0,0a3.0,3.0 0 1,0 6.0,0a3.0,3.0 0 1,0 -6.0,0M479.9,246.9m-3.0,0a3.0,3.0 0 1,0 6.0,0a3.0,3.0 0 1,0 -6.0,0M483.5,211.8m-3.0,0a3.0,3.0 0 1,0 6.0,0a3.0,3.0 0 1,0 -6.0,0M479.5,155.9m-3.0,0a3.0,3.0 0 1,0 6.0,0a3.0,3.0 0 1,0 -6.0,0M486.5,180.9m-3.0,0a3.0,3.0 0 1,0 6.0,0a3.0,3.0 0 1,0 -6.0,0"/>
<path fill="#f9a202" d="M600.9,23.2m-3.0,0a3.0,3.0 0 1,0 6.0,0a3.0,3.0 0 1,0 -6.0,0M602.6,48.6m-3.0,0a3.0,3.0 0 1,0 6.0,0a3.0,3.0 0 1,0 -6.0,0M600.5,55.0m-3.0,0a3.0,3.0 0 1,0 6.0,0a3.0,3.0 0 1,0 -6.0,0M602.5,67.0m-3.0,0a3.0,3.0 0 1,0 6.0,0a3.0,3.0 0 1,0 -6.0,0M604.0,74.5m-3.0,0a3.0,3.0 0 1,0 6.0,0a3.0,3.0 0 1,0 -6.0,0M601.0,80.0m-3.0,0a3.0,3.0 0 1,0 6.0,0a3.0,3.0 0 1,0 -6.0,0M600.0,94.0m-3.0,0a3.0,3.0 0 1,0 6.0,0a3.0,3.0 0 1,0 -6.0,0M605.5,93.5m-3.0,0a3.0,3.0 0 1,0 6.0,0a3.0,3.0 0 1,0 -6.0,0M599.5,97.5m-3.0,0a3.0,3.0 0 1,0 6.0,0a3.0,3.0 0 1,0 -6.0,0M604.0,98.0m-3.0,0a3.0,3.0 0 1,0 6.0,0a3.0,3.0 0 1,0 -6.0,0M596.5,104.5m-3.0,0a3.0,3.0 0 1,0 6.0,0a3.0,3.0 0 1,0 -6.0,0M601.0,101.0m-3.0,0a3.0,3.0 0 1,0 6.0,0a3.0,3.0 0 1,0 -6.0,0M606.0,103.0m-3.0,0a3.0,3.0 0 1,0 6.0,0a3.0,3.0 0 1,0 -6.0,0M597.0,112.0m-3.0,0a3.0,3.0 0 1,0 6.0,0a3.0,3.0 0 1,0 -6.0,0M601.0,110.0m-3.0,0a3.0,3.0 0 1,0 6.0,0a3.0,3.0 0 1,0 -6.0,0M605.0,110.0m-3.0,0a3.0,3.0 0 1,0 6.0,0a3.0,3.0 0 1,0 -6.0,0M609.0,116.0m-3.0,0a3.0,3.0 0 1,0 6.0,0a3.0,3.0 0 1,0 -6.0,0M599.0,116.0m-3.0,0a3.0,3.0 0 1,0 6.0,0a3.0,3.0 0 1,0 -6.0,0M603.0,118.0m-3.0,0a3.0,3.0 0 1,0 6.0,0a3.0,3.0 0 1,0 -6.0,0M600.0,122.0m-3.0,0a3.0,3.0 0 1,0 6.0,0a3.0,3.0 0 1,0 -6.0,0M604.0,124.0m-3.0,0a3.0,3.0 0 1,0 6.0,0a3.0,3.0 0 1,0 -6.0,0M598.0,128.0m-3.0,0a3.0,3.0 0 1,0 6.0,0a3.0,3.0 0 1,0 -6.0,0M603.0,130.0m-3.0,0a3.0,3.0 0 1,0 6.0,0a3.0,3.0 0 1,0 -6.0,0M600.0,127.0m-3.0,0a3.0,3.0 0 1,0 6.0,0a3.0,3.0 0 1,0 -6.0,0M605.0,129.0m-3.0,0a3.0,3.0 0 1,0 6.0,0a3.0,3.0 0 1,0 -6.0,0M603.0,140.0m-3.0,0a3.0,3.0 0 1,0 6.0,0a3.0,3.0 0 1,0 -6.0,0M598.0,140.0m-3.0,0a3.0,3.0 0 1,0 6.0,0a3.0,3.0 0 1,0 -6.0,0M598.0,146.5m-3.0,0a3.0,3.0 0 1,0 6.0,0a3.0,3.0 0 1,0 -6.0,0M604.0,150.0m-3.0,0a3.0,3.0 0 1,0 6.0,0a3.0,3.0 0 1,0 -6.0,0M601.0,154.0m-3.0,0a3.0,3.0 0 1,0 6.0,0a3.0,3.0 0 1,0 -6.0,0M605.0,158.0m-3.0,0a3.0,3.0 0 1,0 6.0,0a3.0,3.0 0 1,0 -6.0,0M598.0,160.0m-3.0,0a3.0,3.0 0 1,0 6.0,0a3.0,3.0 0 1,0 -6.0,0M601.0,164.0m-3.0,0a3.0,3.0 0 1,0 6.0,0a3.0,3.0 0 1,0 -6.0,0M605.0,167.0m-3.0,0a3.0,3.0 0 1,0 6.0,0a3.0,3.0 0 1,0 -6.0,0M599.0,170.0m-3.0,0a3.0,3.0 0 1,0 6.0,0a3.0,3.0 0 1,0 -6.0,0M604.0,172.0m-3.0,0a3.0,3.0 0 1,0 6.0,0a3.0,3.0 0 1,0 -6.0,0M600.0,176.0m-3.0,0a3.0,3.0 0 1,0 6.0,0a3.0,3.0 0 1,0 -6.0,0M603.0,178.0m-3.0,0a3.0,3.0 0 1,0 6.0,0a3.0,3.0 0 1,0 -6.0,0M598.0,181.0m-3.0,0a3.0,3.0 0 1,0 6.0,0a3.0,3.0 0 1,0 -6.0,0M608.0,182.0m-3.0,0a3.0,3.0 0 1,0 6.0,0a3.0,3.0 0 1,0 -6.0,0M599.0,191.0m-3.0,0a3.0,3.0 0 1,0 6.0,0a3.0,3.0 0 1,0 -6.0,0M605.0,192.0m-3.0,0a3.0,3.0 0 1,0 6.0,0a3.0,3.0 0 1,0 -6.0,0M601.0,195.0m-3.0,0a3.0,3.0 0 1,0 6.0,0a3.0,3.0 0 1,0 -6.0,0M600.0,202.0m-3.0,0a3.0,3.0 0 1,0 6.0,0a3.0,3.0 0 1,0 -6.0,0M604.0,205.0m-3.0,0a3.0,3.0 0 1,0 6.0,0a3.0,3.0 0 1,0 -6.0,0M602.0,209.0m-3.0,0a3.0,3.0 0 1,0 6.0,0a3.0,3.0 0 1,0 -6.0,0M599.0,214.5m-3.0,0a3.0,3.0 0 1,0 6.0,0a3.0,3.0 0 1,0 -6.0,0M606.0,215.0m-3.0,0a3.0,3.0 0 1,0 6.0,0a3.0,3.0 0 1,0 -6.0,0M601.0,224.0m-3.0,0a3.0,3.0 0 1,0 6.0,0a3.0,3.0 0 1,0 -6.0,0M603.5,252.6m-3.0,0a3.0,3.0 0 1,0 6.0,0a3.0,3.0 0 1,0 -6.0,0"/>
<text x="383.4" y="29.6" text-anchor="start" font-size="16.5" fill="#111" font-weight="bold" textLength="22.0" lengthAdjust="spacingAndGlyphs">(B)</text>
<text transform="translate(400.7,165.2) rotate(-90)" text-anchor="middle" font-size="13" fill="#505050" font-weight="normal" textLength="153.0" lengthAdjust="spacingAndGlyphs" stroke="#505050" stroke-width="0.3">Log10 Protein Residuals</text>
<text x="386.3" y="332.1" text-anchor="start" font-size="12" fill="#555" font-weight="normal" textLength="161.0" lengthAdjust="spacingAndGlyphs">COVID-19 without ventilation</text>
<text x="562.3" y="332.1" text-anchor="start" font-size="12" fill="#555" font-weight="normal" textLength="143.8" lengthAdjust="spacingAndGlyphs">COVID-19 with ventilation</text>
<path d="M763.0,56.90H998.3" stroke="#ebebeb" stroke-width="1"/>
<path d="M763.0,116.10H998.3" stroke="#ebebeb" stroke-width="1"/>
<path d="M763.0,234.50H998.3" stroke="#ebebeb" stroke-width="1"/>
<path d="M763.0,293.70H998.3" stroke="#ebebeb" stroke-width="1"/>
<text x="762.8" y="57.3" text-anchor="end" font-size="12" fill="#555" font-weight="normal" textLength="17.5" lengthAdjust="spacingAndGlyphs" stroke="#555" stroke-width="0.25">0.4</text>
<text x="762.8" y="116.5" text-anchor="end" font-size="12" fill="#555" font-weight="normal" textLength="17.5" lengthAdjust="spacingAndGlyphs" stroke="#555" stroke-width="0.25">0.2</text>
<text x="762.8" y="175.7" text-anchor="end" font-size="12" fill="#555" font-weight="normal" textLength="6.8" lengthAdjust="spacingAndGlyphs" stroke="#555" stroke-width="0.25">0</text>
<text x="762.8" y="234.9" text-anchor="end" font-size="12" fill="#555" font-weight="normal" textLength="26.0" lengthAdjust="spacingAndGlyphs" stroke="#555" stroke-width="0.25">−0.2</text>
<text x="762.8" y="294.1" text-anchor="end" font-size="12" fill="#555" font-weight="normal" textLength="26.0" lengthAdjust="spacingAndGlyphs" stroke="#555" stroke-width="0.25">−0.4</text>
<path d="M758.5,175.60H998.3" stroke="#444444" stroke-width="1.8"/>
<rect x="789.70" y="158.30" width="59.20" height="46.20" fill="#005a80" fill-opacity="0.5" stroke="#005f87" stroke-width="2"/>
<path d="M789.70,184.70H848.90M819.30,158.30V91.80M819.30,204.50V270.90" stroke="#005f87" stroke-width="2" fill="none"/>
<path d="M804.50,91.80H834.10" stroke="#005f87" stroke-width="2" fill="none"/>
<path d="M804.50,270.90H834.10" stroke="#9fc3d3" stroke-width="2" fill="none"/>
<rect x="908.90" y="111.10" width="59.20" height="64.20" fill="#f99d00" fill-opacity="0.5" stroke="#f9a202" stroke-width="2"/>
<path d="M908.90,138.80H968.10M938.50,111.10V23.10M938.50,175.30V253.10" stroke="#f9a202" stroke-width="2" fill="none"/>
<path d="M923.70,23.10H953.30" stroke="#f9a202" stroke-width="2" fill="none"/>
<path d="M923.70,253.10H953.30" stroke="#f9a202" stroke-width="2" fill="none"/>
<path fill="#005f87" d="M813.4,242.7m-3.0,0a3.0,3.0 0 1,0 6.0,0a3.0,3.0 0 1,0 -6.0,0M826.8,228.8m-3.0,0a3.0,3.0 0 1,0 6.0,0a3.0,3.0 0 1,0 -6.0,0M818.2,146.5m-3.0,0a3.0,3.0 0 1,0 6.0,0a3.0,3.0 0 1,0 -6.0,0M822.4,222.2m-3.0,0a3.0,3.0 0 1,0 6.0,0a3.0,3.0 0 1,0 -6.0,0M818.1,139.7m-3.0,0a3.0,3.0 0 1,0 6.0,0a3.0,3.0 0 1,0 -6.0,0M814.2,233.9m-3.0,0a3.0,3.0 0 1,0 6.0,0a3.0,3.0 0 1,0 -6.0,0M817.2,180.1m-3.0,0a3.0,3.0 0 1,0 6.0,0a3.0,3.0 0 1,0 -6.0,0M817.0,184.2m-3.0,0a3.0,3.0 0 1,0 6.0,0a3.0,3.0 0 1,0 -6.0,0M815.6,140.4m-3.0,0a3.0,3.0 0 1,0 6.0,0a3.0,3.0 0 1,0 -6.0,0M821.9,176.7m-3.0,0a3.0,3.0 0 1,0 6.0,0a3.0,3.0 0 1,0 -6.0,0M825.3,150.2m-3.0,0a3.0,3.0 0 1,0 6.0,0a3.0,3.0 0 1,0 -6.0,0M819.1,116.0m-3.0,0a3.0,3.0 0 1,0 6.0,0a3.0,3.0 0 1,0 -6.0,0M825.1,241.9m-3.0,0a3.0,3.0 0 1,0 6.0,0a3.0,3.0 0 1,0 -6.0,0M820.6,158.6m-3.0,0a3.0,3.0 0 1,0 6.0,0a3.0,3.0 0 1,0 -6.0,0M824.8,218.1m-3.0,0a3.0,3.0 0 1,0 6.0,0a3.0,3.0 0 1,0 -6.0,0M825.8,188.9m-3.0,0a3.0,3.0 0 1,0 6.0,0a3.0,3.0 0 1,0 -6.0,0M826.4,227.2m-3.0,0a3.0,3.0 0 1,0 6.0,0a3.0,3.0 0 1,0 -6.0,0M814.1,142.4m-3.0,0a3.0,3.0 0 1,0 6.0,0a3.0,3.0 0 1,0 -6.0,0M826.6,198.1m-3.0,0a3.0,3.0 0 1,0 6.0,0a3.0,3.0 0 1,0 -6.0,0M818.2,108.8m-3.0,0a3.0,3.0 0 1,0 6.0,0a3.0,3.0 0 1,0 -6.0,0M815.9,223.2m-3.0,0a3.0,3.0 0 1,0 6.0,0a3.0,3.0 0 1,0 -6.0,0M816.5,122.5m-3.0,0a3.0,3.0 0 1,0 6.0,0a3.0,3.0 0 1,0 -6.0,0M824.4,208.1m-3.0,0a3.0,3.0 0 1,0 6.0,0a3.0,3.0 0 1,0 -6.0,0M820.3,150.7m-3.0,0a3.0,3.0 0 1,0 6.0,0a3.0,3.0 0 1,0 -6.0,0M818.6,298.2m-3.0,0a3.0,3.0 0 1,0 6.0,0a3.0,3.0 0 1,0 -6.0,0M827.0,152.2m-3.0,0a3.0,3.0 0 1,0 6.0,0a3.0,3.0 0 1,0 -6.0,0M817.3,214.5m-3.0,0a3.0,3.0 0 1,0 6.0,0a3.0,3.0 0 1,0 -6.0,0M823.1,149.1m-3.0,0a3.0,3.0 0 1,0 6.0,0a3.0,3.0 0 1,0 -6.0,0M823.0,134.7m-3.0,0a3.0,3.0 0 1,0 6.0,0a3.0,3.0 0 1,0 -6.0,0M824.5,197.1m-3.0,0a3.0,3.0 0 1,0 6.0,0a3.0,3.0 0 1,0 -6.0,0M821.3,172.2m-3.0,0a3.0,3.0 0 1,0 6.0,0a3.0,3.0 0 1,0 -6.0,0M812.6,209.4m-3.0,0a3.0,3.0 0 1,0 6.0,0a3.0,3.0 0 1,0 -6.0,0M821.9,163.4m-3.0,0a3.0,3.0 0 1,0 6.0,0a3.0,3.0 0 1,0 -6.0,0M822.0,259.7m-3.0,0a3.0,3.0 0 1,0 6.0,0a3.0,3.0 0 1,0 -6.0,0M816.1,217.5m-3.0,0a3.0,3.0 0 1,0 6.0,0a3.0,3.0 0 1,0 -6.0,0M823.1,230.9m-3.0,0a3.0,3.0 0 1,0 6.0,0a3.0,3.0 0 1,0 -6.0,0M817.2,195.8m-3.0,0a3.0,3.0 0 1,0 6.0,0a3.0,3.0 0 1,0 -6.0,0M816.9,186.9m-3.0,0a3.0,3.0 0 1,0 6.0,0a3.0,3.0 0 1,0 -6.0,0M817.2,251.3m-3.0,0a3.0,3.0 0 1,0 6.0,0a3.0,3.0 0 1,0 -6.0,0M825.5,186.3m-3.0,0a3.0,3.0 0 1,0 6.0,0a3.0,3.0 0 1,0 -6.0,0M825.5,210.0m-3.0,0a3.0,3.0 0 1,0 6.0,0a3.0,3.0 0 1,0 -6.0,0M824.0,250.2m-3.0,0a3.0,3.0 0 1,0 6.0,0a3.0,3.0 0 1,0 -6.0,0M815.9,190.8m-3.0,0a3.0,3.0 0 1,0 6.0,0a3.0,3.0 0 1,0 -6.0,0M817.4,255.0m-3.0,0a3.0,3.0 0 1,0 6.0,0a3.0,3.0 0 1,0 -6.0,0M824.8,146.1m-3.0,0a3.0,3.0 0 1,0 6.0,0a3.0,3.0 0 1,0 -6.0,0M812.7,200.3m-3.0,0a3.0,3.0 0 1,0 6.0,0a3.0,3.0 0 1,0 -6.0,0M820.6,194.0m-3.0,0a3.0,3.0 0 1,0 6.0,0a3.0,3.0 0 1,0 -6.0,0M813.2,184.9m-3.0,0a3.0,3.0 0 1,0 6.0,0a3.0,3.0 0 1,0 -6.0,0M813.1,136.0m-3.0,0a3.0,3.0 0 1,0 6.0,0a3.0,3.0 0 1,0 -6.0,0M821.2,178.4m-3.0,0a3.0,3.0 0 1,0 6.0,0a3.0,3.0 0 1,0 -6.0,0M815.3,235.6m-3.0,0a3.0,3.0 0 1,0 6.0,0a3.0,3.0 0 1,0 -6.0,0M814.6,137.9m-3.0,0a3.0,3.0 0 1,0 6.0,0a3.0,3.0 0 1,0 -6.0,0M825.7,131.2m-3.0,0a3.0,3.0 0 1,0 6.0,0a3.0,3.0 0 1,0 -6.0,0M813.7,157.3m-3.0,0a3.0,3.0 0 1,0 6.0,0a3.0,3.0 0 1,0 -6.0,0M823.6,187.6m-3.0,0a3.0,3.0 0 1,0 6.0,0a3.0,3.0 0 1,0 -6.0,0M820.9,132.4m-3.0,0a3.0,3.0 0 1,0 6.0,0a3.0,3.0 0 1,0 -6.0,0M825.6,151.8m-3.0,0a3.0,3.0 0 1,0 6.0,0a3.0,3.0 0 1,0 -6.0,0M825.3,211.1m-3.0,0a3.0,3.0 0 1,0 6.0,0a3.0,3.0 0 1,0 -6.0,0M819.6,124.5m-3.0,0a3.0,3.0 0 1,0 6.0,0a3.0,3.0 0 1,0 -6.0,0M826.6,208.5m-3.0,0a3.0,3.0 0 1,0 6.0,0a3.0,3.0 0 1,0 -6.0,0M818.4,172.7m-3.0,0a3.0,3.0 0 1,0 6.0,0a3.0,3.0 0 1,0 -6.0,0M820.3,203.0m-3.0,0a3.0,3.0 0 1,0 6.0,0a3.0,3.0 0 1,0 -6.0,0M813.4,200.0m-3.0,0a3.0,3.0 0 1,0 6.0,0a3.0,3.0 0 1,0 -6.0,0M818.4,193.1m-3.0,0a3.0,3.0 0 1,0 6.0,0a3.0,3.0 0 1,0 -6.0,0M820.6,155.5m-3.0,0a3.0,3.0 0 1,0 6.0,0a3.0,3.0 0 1,0 -6.0,0M826.4,219.6m-3.0,0a3.0,3.0 0 1,0 6.0,0a3.0,3.0 0 1,0 -6.0,0M821.3,183.4m-3.0,0a3.0,3.0 0 1,0 6.0,0a3.0,3.0 0 1,0 -6.0,0M813.8,207.0m-3.0,0a3.0,3.0 0 1,0 6.0,0a3.0,3.0 0 1,0 -6.0,0M821.7,211.4m-3.0,0a3.0,3.0 0 1,0 6.0,0a3.0,3.0 0 1,0 -6.0,0M821.1,267.9m-3.0,0a3.0,3.0 0 1,0 6.0,0a3.0,3.0 0 1,0 -6.0,0M818.0,165.0m-3.0,0a3.0,3.0 0 1,0 6.0,0a3.0,3.0 0 1,0 -6.0,0M825.4,212.6m-3.0,0a3.0,3.0 0 1,0 6.0,0a3.0,3.0 0 1,0 -6.0,0M819.8,203.3m-3.0,0a3.0,3.0 0 1,0 6.0,0a3.0,3.0 0 1,0 -6.0,0M812.1,220.9m-3.0,0a3.0,3.0 0 1,0 6.0,0a3.0,3.0 0 1,0 -6.0,0M817.7,129.1m-3.0,0a3.0,3.0 0 1,0 6.0,0a3.0,3.0 0 1,0 -6.0,0M816.8,245.1m-3.0,0a3.0,3.0 0 1,0 6.0,0a3.0,3.0 0 1,0 -6.0,0M814.8,216.7m-3.0,0a3.0,3.0 0 1,0 6.0,0a3.0,3.0 0 1,0 -6.0,0M827.0,205.9m-3.0,0a3.0,3.0 0 1,0 6.0,0a3.0,3.0 0 1,0 -6.0,0M823.2,158.1m-3.0,0a3.0,3.0 0 1,0 6.0,0a3.0,3.0 0 1,0 -6.0,0M824.3,206.3m-3.0,0a3.0,3.0 0 1,0 6.0,0a3.0,3.0 0 1,0 -6.0,0M815.1,236.4m-3.0,0a3.0,3.0 0 1,0 6.0,0a3.0,3.0 0 1,0 -6.0,0M822.2,212.1m-3.0,0a3.0,3.0 0 1,0 6.0,0a3.0,3.0 0 1,0 -6.0,0M816.4,234.6m-3.0,0a3.0,3.0 0 1,0 6.0,0a3.0,3.0 0 1,0 -6.0,0M812.3,188.6m-3.0,0a3.0,3.0 0 1,0 6.0,0a3.0,3.0 0 1,0 -6.0,0M822.4,162.8m-3.0,0a3.0,3.0 0 1,0 6.0,0a3.0,3.0 0 1,0 -6.0,0M819.4,256.3m-3.0,0a3.0,3.0 0 1,0 6.0,0a3.0,3.0 0 1,0 -6.0,0M815.1,183.1m-3.0,0a3.0,3.0 0 1,0 6.0,0a3.0,3.0 0 1,0 -6.0,0M820.2,186.1m-3.0,0a3.0,3.0 0 1,0 6.0,0a3.0,3.0 0 1,0 -6.0,0M814.8,164.0m-3.0,0a3.0,3.0 0 1,0 6.0,0a3.0,3.0 0 1,0 -6.0,0M816.9,151.5m-3.0,0a3.0,3.0 0 1,0 6.0,0a3.0,3.0 0 1,0 -6.0,0M819.2,223.4m-3.0,0a3.0,3.0 0 1,0 6.0,0a3.0,3.0 0 1,0 -6.0,0M822.8,144.1m-3.0,0a3.0,3.0 0 1,0 6.0,0a3.0,3.0 0 1,0 -6.0,0M816.0,238.4m-3.0,0a3.0,3.0 0 1,0 6.0,0a3.0,3.0 0 1,0 -6.0,0M822.2,193.6m-3.0,0a3.0,3.0 0 1,0 6.0,0a3.0,3.0 0 1,0 -6.0,0M815.1,199.0m-3.0,0a3.0,3.0 0 1,0 6.0,0a3.0,3.0 0 1,0 -6.0,0M823.9,147.5m-3.0,0a3.0,3.0 0 1,0 6.0,0a3.0,3.0 0 1,0 -6.0,0M823.9,156.1m-3.0,0a3.0,3.0 0 1,0 6.0,0a3.0,3.0 0 1,0 -6.0,0M814.2,214.2m-3.0,0a3.0,3.0 0 1,0 6.0,0a3.0,3.0 0 1,0 -6.0,0M814.2,176.3m-3.0,0a3.0,3.0 0 1,0 6.0,0a3.0,3.0 0 1,0 -6.0,0M819.8,102.3m-3.0,0a3.0,3.0 0 1,0 6.0,0a3.0,3.0 0 1,0 -6.0,0M820.6,174.6m-3.0,0a3.0,3.0 0 1,0 6.0,0a3.0,3.0 0 1,0 -6.0,0M813.3,128.2m-3.0,0a3.0,3.0 0 1,0 6.0,0a3.0,3.0 0 1,0 -6.0,0M815.0,152.8m-3.0,0a3.0,3.0 0 1,0 6.0,0a3.0,3.0 0 1,0 -6.0,0M815.3,178.0m-3.0,0a3.0,3.0 0 1,0 6.0,0a3.0,3.0 0 1,0 -6.0,0M821.6,239.9m-3.0,0a3.0,3.0 0 1,0 6.0,0a3.0,3.0 0 1,0 -6.0,0M818.0,213.0m-3.0,0a3.0,3.0 0 1,0 6.0,0a3.0,3.0 0 1,0 -6.0,0M819.6,126.9m-3.0,0a3.0,3.0 0 1,0 6.0,0a3.0,3.0 0 1,0 -6.0,0M811.6,204.1m-3.0,0a3.0,3.0 0 1,0 6.0,0a3.0,3.0 0 1,0 -6.0,0M818.0,113.3m-3.0,0a3.0,3.0 0 1,0 6.0,0a3.0,3.0 0 1,0 -6.0,0M814.4,173.5m-3.0,0a3.0,3.0 0 1,0 6.0,0a3.0,3.0 0 1,0 -6.0,0M819.8,129.5m-3.0,0a3.0,3.0 0 1,0 6.0,0a3.0,3.0 0 1,0 -6.0,0M814.3,179.2m-3.0,0a3.0,3.0 0 1,0 6.0,0a3.0,3.0 0 1,0 -6.0,0M812.4,228.3m-3.0,0a3.0,3.0 0 1,0 6.0,0a3.0,3.0 0 1,0 -6.0,0M816.2,166.0m-3.0,0a3.0,3.0 0 1,0 6.0,0a3.0,3.0 0 1,0 -6.0,0M818.3,141.4m-3.0,0a3.0,3.0 0 1,0 6.0,0a3.0,3.0 0 1,0 -6.0,0M820.5,194.8m-3.0,0a3.0,3.0 0 1,0 6.0,0a3.0,3.0 0 1,0 -6.0,0M813.8,157.0m-3.0,0a3.0,3.0 0 1,0 6.0,0a3.0,3.0 0 1,0 -6.0,0M812.2,167.1m-3.0,0a3.0,3.0 0 1,0 6.0,0a3.0,3.0 0 1,0 -6.0,0M817.3,190.4m-3.0,0a3.0,3.0 0 1,0 6.0,0a3.0,3.0 0 1,0 -6.0,0M819.7,225.7m-3.0,0a3.0,3.0 0 1,0 6.0,0a3.0,3.0 0 1,0 -6.0,0M825.0,185.2m-3.0,0a3.0,3.0 0 1,0 6.0,0a3.0,3.0 0 1,0 -6.0,0M815.7,226.6m-3.0,0a3.0,3.0 0 1,0 6.0,0a3.0,3.0 0 1,0 -6.0,0M818.1,180.9m-3.0,0a3.0,3.0 0 1,0 6.0,0a3.0,3.0 0 1,0 -6.0,0M815.2,194.4m-3.0,0a3.0,3.0 0 1,0 6.0,0a3.0,3.0 0 1,0 -6.0,0M819.4,205.0m-3.0,0a3.0,3.0 0 1,0 6.0,0a3.0,3.0 0 1,0 -6.0,0M817.0,201.0m-3.0,0a3.0,3.0 0 1,0 6.0,0a3.0,3.0 0 1,0 -6.0,0M815.3,143.7m-3.0,0a3.0,3.0 0 1,0 6.0,0a3.0,3.0 0 1,0 -6.0,0M815.8,248.4m-3.0,0a3.0,3.0 0 1,0 6.0,0a3.0,3.0 0 1,0 -6.0,0M821.8,130.4m-3.0,0a3.0,3.0 0 1,0 6.0,0a3.0,3.0 0 1,0 -6.0,0M823.6,177.4m-3.0,0a3.0,3.0 0 1,0 6.0,0a3.0,3.0 0 1,0 -6.0,0M817.6,111.6m-3.0,0a3.0,3.0 0 1,0 6.0,0a3.0,3.0 0 1,0 -6.0,0M815.6,160.1m-3.0,0a3.0,3.0 0 1,0 6.0,0a3.0,3.0 0 1,0 -6.0,0M821.1,169.3m-3.0,0a3.0,3.0 0 1,0 6.0,0a3.0,3.0 0 1,0 -6.0,0M818.9,133.3m-3.0,0a3.0,3.0 0 1,0 6.0,0a3.0,3.0 0 1,0 -6.0,0M812.2,207.4m-3.0,0a3.0,3.0 0 1,0 6.0,0a3.0,3.0 0 1,0 -6.0,0M821.7,154.6m-3.0,0a3.0,3.0 0 1,0 6.0,0a3.0,3.0 0 1,0 -6.0,0M819.4,189.4m-3.0,0a3.0,3.0 0 1,0 6.0,0a3.0,3.0 0 1,0 -6.0,0M818.1,245.9m-3.0,0a3.0,3.0 0 1,0 6.0,0a3.0,3.0 0 1,0 -6.0,0M821.9,188.1m-3.0,0a3.0,3.0 0 1,0 6.0,0a3.0,3.0 0 1,0 -6.0,0M815.3,166.1m-3.0,0a3.0,3.0 0 1,0 6.0,0a3.0,3.0 0 1,0 -6.0,0M812.4,181.6m-3.0,0a3.0,3.0 0 1,0 6.0,0a3.0,3.0 0 1,0 -6.0,0M813.8,153.4m-3.0,0a3.0,3.0 0 1,0 6.0,0a3.0,3.0 0 1,0 -6.0,0M825.4,135.6m-3.0,0a3.0,3.0 0 1,0 6.0,0a3.0,3.0 0 1,0 -6.0,0M824.0,215.0m-3.0,0a3.0,3.0 0 1,0 6.0,0a3.0,3.0 0 1,0 -6.0,0M820.8,232.8m-3.0,0a3.0,3.0 0 1,0 6.0,0a3.0,3.0 0 1,0 -6.0,0M821.2,115.8m-3.0,0a3.0,3.0 0 1,0 6.0,0a3.0,3.0 0 1,0 -6.0,0M820.7,180.1m-3.0,0a3.0,3.0 0 1,0 6.0,0a3.0,3.0 0 1,0 -6.0,0M820.3,79.4m-3.0,0a3.0,3.0 0 1,0 6.0,0a3.0,3.0 0 1,0 -6.0,0M824.8,196.5m-3.0,0a3.0,3.0 0 1,0 6.0,0a3.0,3.0 0 1,0 -6.0,0M821.5,170.4m-3.0,0a3.0,3.0 0 1,0 6.0,0a3.0,3.0 0 1,0 -6.0,0M822.3,169.1m-3.0,0a3.0,3.0 0 1,0 6.0,0a3.0,3.0 0 1,0 -6.0,0M815.9,175.9m-3.0,0a3.0,3.0 0 1,0 6.0,0a3.0,3.0 0 1,0 -6.0,0M818.0,192.3m-3.0,0a3.0,3.0 0 1,0 6.0,0a3.0,3.0 0 1,0 -6.0,0M820.2,91.9m-3.0,0a3.0,3.0 0 1,0 6.0,0a3.0,3.0 0 1,0 -6.0,0M817.8,174.1m-3.0,0a3.0,3.0 0 1,0 6.0,0a3.0,3.0 0 1,0 -6.0,0M820.8,270.6m-3.0,0a3.0,3.0 0 1,0 6.0,0a3.0,3.0 0 1,0 -6.0,0M814.3,213.7m-3.0,0a3.0,3.0 0 1,0 6.0,0a3.0,3.0 0 1,0 -6.0,0M821.5,286.0m-3.0,0a3.0,3.0 0 1,0 6.0,0a3.0,3.0 0 1,0 -6.0,0M820.1,121.3m-3.0,0a3.0,3.0 0 1,0 6.0,0a3.0,3.0 0 1,0 -6.0,0M815.4,144.8m-3.0,0a3.0,3.0 0 1,0 6.0,0a3.0,3.0 0 1,0 -6.0,0M825.4,240.7m-3.0,0a3.0,3.0 0 1,0 6.0,0a3.0,3.0 0 1,0 -6.0,0M811.6,204.5m-3.0,0a3.0,3.0 0 1,0 6.0,0a3.0,3.0 0 1,0 -6.0,0M812.0,145.5m-3.0,0a3.0,3.0 0 1,0 6.0,0a3.0,3.0 0 1,0 -6.0,0M821.3,218.8m-3.0,0a3.0,3.0 0 1,0 6.0,0a3.0,3.0 0 1,0 -6.0,0M815.0,184.0m-3.0,0a3.0,3.0 0 1,0 6.0,0a3.0,3.0 0 1,0 -6.0,0M821.6,161.6m-3.0,0a3.0,3.0 0 1,0 6.0,0a3.0,3.0 0 1,0 -6.0,0M819.7,167.1m-3.0,0a3.0,3.0 0 1,0 6.0,0a3.0,3.0 0 1,0 -6.0,0M812.0,162.1m-3.0,0a3.0,3.0 0 1,0 6.0,0a3.0,3.0 0 1,0 -6.0,0M824.5,215.3m-3.0,0a3.0,3.0 0 1,0 6.0,0a3.0,3.0 0 1,0 -6.0,0M811.9,165.5m-3.0,0a3.0,3.0 0 1,0 6.0,0a3.0,3.0 0 1,0 -6.0,0M815.4,198.6m-3.0,0a3.0,3.0 0 1,0 6.0,0a3.0,3.0 0 1,0 -6.0,0M813.8,222.6m-3.0,0a3.0,3.0 0 1,0 6.0,0a3.0,3.0 0 1,0 -6.0,0M818.7,197.3m-3.0,0a3.0,3.0 0 1,0 6.0,0a3.0,3.0 0 1,0 -6.0,0M817.9,199.5m-3.0,0a3.0,3.0 0 1,0 6.0,0a3.0,3.0 0 1,0 -6.0,0M822.2,161.0m-3.0,0a3.0,3.0 0 1,0 6.0,0a3.0,3.0 0 1,0 -6.0,0M815.6,164.2m-3.0,0a3.0,3.0 0 1,0 6.0,0a3.0,3.0 0 1,0 -6.0,0M820.5,124.3m-3.0,0a3.0,3.0 0 1,0 6.0,0a3.0,3.0 0 1,0 -6.0,0M820.0,156.0m-3.0,0a3.0,3.0 0 1,0 6.0,0a3.0,3.0 0 1,0 -6.0,0M816.0,140.2m-3.0,0a3.0,3.0 0 1,0 6.0,0a3.0,3.0 0 1,0 -6.0,0M823.2,227.4m-3.0,0a3.0,3.0 0 1,0 6.0,0a3.0,3.0 0 1,0 -6.0,0M816.6,175.6m-3.0,0a3.0,3.0 0 1,0 6.0,0a3.0,3.0 0 1,0 -6.0,0M812.8,168.4m-3.0,0a3.0,3.0 0 1,0 6.0,0a3.0,3.0 0 1,0 -6.0,0M818.7,95.0m-3.0,0a3.0,3.0 0 1,0 6.0,0a3.0,3.0 0 1,0 -6.0,0M812.1,160.2m-3.0,0a3.0,3.0 0 1,0 6.0,0a3.0,3.0 0 1,0 -6.0,0M815.6,171.3m-3.0,0a3.0,3.0 0 1,0 6.0,0a3.0,3.0 0 1,0 -6.0,0M812.5,218.6m-3.0,0a3.0,3.0 0 1,0 6.0,0a3.0,3.0 0 1,0 -6.0,0M820.9,264.4m-3.0,0a3.0,3.0 0 1,0 6.0,0a3.0,3.0 0 1,0 -6.0,0M813.1,230.0m-3.0,0a3.0,3.0 0 1,0 6.0,0a3.0,3.0 0 1,0 -6.0,0M824.6,148.2m-3.0,0a3.0,3.0 0 1,0 6.0,0a3.0,3.0 0 1,0 -6.0,0M825.1,202.6m-3.0,0a3.0,3.0 0 1,0 6.0,0a3.0,3.0 0 1,0 -6.0,0M823.0,209.1m-3.0,0a3.0,3.0 0 1,0 6.0,0a3.0,3.0 0 1,0 -6.0,0M823.4,191.4m-3.0,0a3.0,3.0 0 1,0 6.0,0a3.0,3.0 0 1,0 -6.0,0M826.0,147.1m-3.0,0a3.0,3.0 0 1,0 6.0,0a3.0,3.0 0 1,0 -6.0,0M812.9,162.3m-3.0,0a3.0,3.0 0 1,0 6.0,0a3.0,3.0 0 1,0 -6.0,0M823.1,159.2m-3.0,0a3.0,3.0 0 1,0 6.0,0a3.0,3.0 0 1,0 -6.0,0M823.6,229.3m-3.0,0a3.0,3.0 0 1,0 6.0,0a3.0,3.0 0 1,0 -6.0,0M817.3,142.7m-3.0,0a3.0,3.0 0 1,0 6.0,0a3.0,3.0 0 1,0 -6.0,0M817.6,232.2m-3.0,0a3.0,3.0 0 1,0 6.0,0a3.0,3.0 0 1,0 -6.0,0M812.0,148.9m-3.0,0a3.0,3.0 0 1,0 6.0,0a3.0,3.0 0 1,0 -6.0,0M819.0,55.1m-3.0,0a3.0,3.0 0 1,0 6.0,0a3.0,3.0 0 1,0 -6.0,0M819.9,49.0m-3.0,0a3.0,3.0 0 1,0 6.0,0a3.0,3.0 0 1,0 -6.0,0M816.1,137.7m-3.0,0a3.0,3.0 0 1,0 6.0,0a3.0,3.0 0 1,0 -6.0,0M823.3,136.5m-3.0,0a3.0,3.0 0 1,0 6.0,0a3.0,3.0 0 1,0 -6.0,0M812.6,178.8m-3.0,0a3.0,3.0 0 1,0 6.0,0a3.0,3.0 0 1,0 -6.0,0M821.2,225.4m-3.0,0a3.0,3.0 0 1,0 6.0,0a3.0,3.0 0 1,0 -6.0,0M819.1,201.3m-3.0,0a3.0,3.0 0 1,0 6.0,0a3.0,3.0 0 1,0 -6.0,0M818.6,138.6m-3.0,0a3.0,3.0 0 1,0 6.0,0a3.0,3.0 0 1,0 -6.0,0M815.3,126.1m-3.0,0a3.0,3.0 0 1,0 6.0,0a3.0,3.0 0 1,0 -6.0,0M820.6,224.7m-3.0,0a3.0,3.0 0 1,0 6.0,0a3.0,3.0 0 1,0 -6.0,0M819.9,220.0m-3.0,0a3.0,3.0 0 1,0 6.0,0a3.0,3.0 0 1,0 -6.0,0M823.3,244.5m-3.0,0a3.0,3.0 0 1,0 6.0,0a3.0,3.0 0 1,0 -6.0,0M817.9,171.7m-3.0,0a3.0,3.0 0 1,0 6.0,0a3.0,3.0 0 1,0 -6.0,0M822.6,220.5m-3.0,0a3.0,3.0 0 1,0 6.0,0a3.0,3.0 0 1,0 -6.0,0M823.0,145.3m-3.0,0a3.0,3.0 0 1,0 6.0,0a3.0,3.0 0 1,0 -6.0,0M819.6,157.9m-3.0,0a3.0,3.0 0 1,0 6.0,0a3.0,3.0 0 1,0 -6.0,0M822.6,174.2m-3.0,0a3.0,3.0 0 1,0 6.0,0a3.0,3.0 0 1,0 -6.0,0M819.7,149.9m-3.0,0a3.0,3.0 0 1,0 6.0,0a3.0,3.0 0 1,0 -6.0,0M818.1,216.1m-3.0,0a3.0,3.0 0 1,0 6.0,0a3.0,3.0 0 1,0 -6.0,0M817.4,88.0m-3.0,0a3.0,3.0 0 1,0 6.0,0a3.0,3.0 0 1,0 -6.0,0M820.4,238.5m-3.0,0a3.0,3.0 0 1,0 6.0,0a3.0,3.0 0 1,0 -6.0,0M826.5,195.2m-3.0,0a3.0,3.0 0 1,0 6.0,0a3.0,3.0 0 1,0 -6.0,0M812.3,133.0m-3.0,0a3.0,3.0 0 1,0 6.0,0a3.0,3.0 0 1,0 -6.0,0M818.3,191.7m-3.0,0a3.0,3.0 0 1,0 6.0,0a3.0,3.0 0 1,0 -6.0,0M823.5,170.8m-3.0,0a3.0,3.0 0 1,0 6.0,0a3.0,3.0 0 1,0 -6.0,0M824.2,247.8m-3.0,0a3.0,3.0 0 1,0 6.0,0a3.0,3.0 0 1,0 -6.0,0M816.6,236.9m-3.0,0a3.0,3.0 0 1,0 6.0,0a3.0,3.0 0 1,0 -6.0,0M818.9,182.5m-3.0,0a3.0,3.0 0 1,0 6.0,0a3.0,3.0 0 1,0 -6.0,0M816.0,170.1m-3.0,0a3.0,3.0 0 1,0 6.0,0a3.0,3.0 0 1,0 -6.0,0M815.7,134.4m-3.0,0a3.0,3.0 0 1,0 6.0,0a3.0,3.0 0 1,0 -6.0,0M822.2,141.8m-3.0,0a3.0,3.0 0 1,0 6.0,0a3.0,3.0 0 1,0 -6.0,0M823.6,118.7m-3.0,0a3.0,3.0 0 1,0 6.0,0a3.0,3.0 0 1,0 -6.0,0M815.0,257.3m-3.0,0a3.0,3.0 0 1,0 6.0,0a3.0,3.0 0 1,0 -6.0,0M818.4,153.6m-3.0,0a3.0,3.0 0 1,0 6.0,0a3.0,3.0 0 1,0 -6.0,0M818.6,221.5m-3.0,0a3.0,3.0 0 1,0 6.0,0a3.0,3.0 0 1,0 -6.0,0M819.4,181.7m-3.0,0a3.0,3.0 0 1,0 6.0,0a3.0,3.0 0 1,0 -6.0,0M817.8,262.7m-3.0,0a3.0,3.0 0 1,0 6.0,0a3.0,3.0 0 1,0 -6.0,0M817.2,105.9m-3.0,0a3.0,3.0 0 1,0 6.0,0a3.0,3.0 0 1,0 -6.0,0M816.6,190.0m-3.0,0a3.0,3.0 0 1,0 6.0,0a3.0,3.0 0 1,0 -6.0,0M823.8,253.0m-3.0,0a3.0,3.0 0 1,0 6.0,0a3.0,3.0 0 1,0 -6.0,0M815.6,205.2m-3.0,0a3.0,3.0 0 1,0 6.0,0a3.0,3.0 0 1,0 -6.0,0M817.2,280.0m-3.0,0a3.0,3.0 0 1,0 6.0,0a3.0,3.0 0 1,0 -6.0,0M826.1,231.5m-3.0,0a3.0,3.0 0 1,0 6.0,0a3.0,3.0 0 1,0 -6.0,0M821.5,261.3m-3.0,0a3.0,3.0 0 1,0 6.0,0a3.0,3.0 0 1,0 -6.0,0M822.2,210.6m-3.0,0a3.0,3.0 0 1,0 6.0,0a3.0,3.0 0 1,0 -6.0,0M824.4,224.0m-3.0,0a3.0,3.0 0 1,0 6.0,0a3.0,3.0 0 1,0 -6.0,0M826.1,167.8m-3.0,0a3.0,3.0 0 1,0 6.0,0a3.0,3.0 0 1,0 -6.0,0M813.5,216.9m-3.0,0a3.0,3.0 0 1,0 6.0,0a3.0,3.0 0 1,0 -6.0,0M814.1,154.6m-3.0,0a3.0,3.0 0 1,0 6.0,0a3.0,3.0 0 1,0 -6.0,0M820.8,201.9m-3.0,0a3.0,3.0 0 1,0 6.0,0a3.0,3.0 0 1,0 -6.0,0"/>
<path fill="#f9a202" d="M936.9,23.2m-3.0,0a3.0,3.0 0 1,0 6.0,0a3.0,3.0 0 1,0 -6.0,0M939.8,68.6m-3.0,0a3.0,3.0 0 1,0 6.0,0a3.0,3.0 0 1,0 -6.0,0M937.0,72.5m-3.0,0a3.0,3.0 0 1,0 6.0,0a3.0,3.0 0 1,0 -6.0,0M938.0,77.5m-3.0,0a3.0,3.0 0 1,0 6.0,0a3.0,3.0 0 1,0 -6.0,0M935.0,94.0m-3.0,0a3.0,3.0 0 1,0 6.0,0a3.0,3.0 0 1,0 -6.0,0M941.0,94.5m-3.0,0a3.0,3.0 0 1,0 6.0,0a3.0,3.0 0 1,0 -6.0,0M932.5,101.5m-3.0,0a3.0,3.0 0 1,0 6.0,0a3.0,3.0 0 1,0 -6.0,0M938.0,99.0m-3.0,0a3.0,3.0 0 1,0 6.0,0a3.0,3.0 0 1,0 -6.0,0M943.0,101.0m-3.0,0a3.0,3.0 0 1,0 6.0,0a3.0,3.0 0 1,0 -6.0,0M932.0,107.5m-3.0,0a3.0,3.0 0 1,0 6.0,0a3.0,3.0 0 1,0 -6.0,0M937.0,110.0m-3.0,0a3.0,3.0 0 1,0 6.0,0a3.0,3.0 0 1,0 -6.0,0M941.0,108.0m-3.0,0a3.0,3.0 0 1,0 6.0,0a3.0,3.0 0 1,0 -6.0,0M935.0,113.5m-3.0,0a3.0,3.0 0 1,0 6.0,0a3.0,3.0 0 1,0 -6.0,0M943.0,113.0m-3.0,0a3.0,3.0 0 1,0 6.0,0a3.0,3.0 0 1,0 -6.0,0M938.0,116.0m-3.0,0a3.0,3.0 0 1,0 6.0,0a3.0,3.0 0 1,0 -6.0,0M931.0,117.5m-3.0,0a3.0,3.0 0 1,0 6.0,0a3.0,3.0 0 1,0 -6.0,0M940.0,120.0m-3.0,0a3.0,3.0 0 1,0 6.0,0a3.0,3.0 0 1,0 -6.0,0M936.0,123.0m-3.0,0a3.0,3.0 0 1,0 6.0,0a3.0,3.0 0 1,0 -6.0,0M939.0,127.0m-3.0,0a3.0,3.0 0 1,0 6.0,0a3.0,3.0 0 1,0 -6.0,0M934.0,130.0m-3.0,0a3.0,3.0 0 1,0 6.0,0a3.0,3.0 0 1,0 -6.0,0M940.0,132.0m-3.0,0a3.0,3.0 0 1,0 6.0,0a3.0,3.0 0 1,0 -6.0,0M937.0,127.0m-3.0,0a3.0,3.0 0 1,0 6.0,0a3.0,3.0 0 1,0 -6.0,0M940.0,133.0m-3.0,0a3.0,3.0 0 1,0 6.0,0a3.0,3.0 0 1,0 -6.0,0M933.4,138.8m-3.0,0a3.0,3.0 0 1,0 6.0,0a3.0,3.0 0 1,0 -6.0,0M941.0,139.0m-3.0,0a3.0,3.0 0 1,0 6.0,0a3.0,3.0 0 1,0 -6.0,0M933.0,145.0m-3.0,0a3.0,3.0 0 1,0 6.0,0a3.0,3.0 0 1,0 -6.0,0M935.0,150.0m-3.0,0a3.0,3.0 0 1,0 6.0,0a3.0,3.0 0 1,0 -6.0,0M939.0,152.0m-3.0,0a3.0,3.0 0 1,0 6.0,0a3.0,3.0 0 1,0 -6.0,0M942.0,155.0m-3.0,0a3.0,3.0 0 1,0 6.0,0a3.0,3.0 0 1,0 -6.0,0M936.0,157.0m-3.0,0a3.0,3.0 0 1,0 6.0,0a3.0,3.0 0 1,0 -6.0,0M933.0,162.0m-3.0,0a3.0,3.0 0 1,0 6.0,0a3.0,3.0 0 1,0 -6.0,0M938.0,164.0m-3.0,0a3.0,3.0 0 1,0 6.0,0a3.0,3.0 0 1,0 -6.0,0M941.0,168.0m-3.0,0a3.0,3.0 0 1,0 6.0,0a3.0,3.0 0 1,0 -6.0,0M932.0,171.0m-3.0,0a3.0,3.0 0 1,0 6.0,0a3.0,3.0 0 1,0 -6.0,0M936.0,172.0m-3.0,0a3.0,3.0 0 1,0 6.0,0a3.0,3.0 0 1,0 -6.0,0M939.0,173.0m-3.0,0a3.0,3.0 0 1,0 6.0,0a3.0,3.0 0 1,0 -6.0,0M934.0,176.0m-3.0,0a3.0,3.0 0 1,0 6.0,0a3.0,3.0 0 1,0 -6.0,0M937.0,177.5m-3.0,0a3.0,3.0 0 1,0 6.0,0a3.0,3.0 0 1,0 -6.0,0M942.0,177.0m-3.0,0a3.0,3.0 0 1,0 6.0,0a3.0,3.0 0 1,0 -6.0,0M933.0,180.0m-3.0,0a3.0,3.0 0 1,0 6.0,0a3.0,3.0 0 1,0 -6.0,0M939.5,180.5m-3.0,0a3.0,3.0 0 1,0 6.0,0a3.0,3.0 0 1,0 -6.0,0M938.5,186.5m-3.0,0a3.0,3.0 0 1,0 6.0,0a3.0,3.0 0 1,0 -6.0,0M934.0,193.0m-3.0,0a3.0,3.0 0 1,0 6.0,0a3.0,3.0 0 1,0 -6.0,0M938.0,200.5m-3.0,0a3.0,3.0 0 1,0 6.0,0a3.0,3.0 0 1,0 -6.0,0M940.0,206.0m-3.0,0a3.0,3.0 0 1,0 6.0,0a3.0,3.0 0 1,0 -6.0,0M936.0,216.5m-3.0,0a3.0,3.0 0 1,0 6.0,0a3.0,3.0 0 1,0 -6.0,0M940.0,218.0m-3.0,0a3.0,3.0 0 1,0 6.0,0a3.0,3.0 0 1,0 -6.0,0M939.1,253.0m-3.0,0a3.0,3.0 0 1,0 6.0,0a3.0,3.0 0 1,0 -6.0,0"/>
<text x="702.6" y="29.6" text-anchor="start" font-size="16.5" fill="#111" font-weight="bold" textLength="21.5" lengthAdjust="spacingAndGlyphs">(C)</text>
<text transform="translate(719.3,170.7) rotate(-90)" text-anchor="middle" font-size="13" fill="#505050" font-weight="normal" textLength="153.0" lengthAdjust="spacingAndGlyphs" stroke="#505050" stroke-width="0.3">Log10 Protein Residuals</text>
<text x="772.8" y="332.0" text-anchor="start" font-size="12" fill="#555" font-weight="normal" textLength="107.1" lengthAdjust="spacingAndGlyphs">COVID-19 no death</text>
<text x="894.4" y="331.3" text-anchor="start" font-size="12" fill="#555" font-weight="normal" textLength="89.9" lengthAdjust="spacingAndGlyphs">COVID-19 death</text>
<path d="M98.0,422.80H320.0" stroke="#ebebeb" stroke-width="1"/>
<path d="M98.0,479.30H320.0" stroke="#ebebeb" stroke-width="1"/>
<path d="M98.0,592.30H320.0" stroke="#ebebeb" stroke-width="1"/>
<path d="M98.0,648.80H320.0" stroke="#ebebeb" stroke-width="1"/>
<text x="97.5" y="424.7" text-anchor="end" font-size="12" fill="#555" font-weight="normal" textLength="17.5" lengthAdjust="spacingAndGlyphs" stroke="#555" stroke-width="0.25">0.4</text>
<text x="97.5" y="481.2" text-anchor="end" font-size="12" fill="#555" font-weight="normal" textLength="17.5" lengthAdjust="spacingAndGlyphs" stroke="#555" stroke-width="0.25">0.2</text>
<text x="97.5" y="537.7" text-anchor="end" font-size="12" fill="#555" font-weight="normal" textLength="6.8" lengthAdjust="spacingAndGlyphs" stroke="#555" stroke-width="0.25">0</text>
<text x="97.5" y="594.2" text-anchor="end" font-size="12" fill="#555" font-weight="normal" textLength="25.5" lengthAdjust="spacingAndGlyphs" stroke="#555" stroke-width="0.25">−0.2</text>
<text x="97.5" y="650.7" text-anchor="end" font-size="12" fill="#555" font-weight="normal" textLength="25.5" lengthAdjust="spacingAndGlyphs" stroke="#555" stroke-width="0.25">−0.4</text>
<path d="M80.4,536.00H320.0" stroke="#444444" stroke-width="1.8"/>
<rect x="111.00" y="506.90" width="59.20" height="38.00" fill="#005a80" fill-opacity="0.5" stroke="#005f87" stroke-width="2"/>
<path d="M111.00,522.20H170.20M140.60,506.90V449.70M140.60,544.90V596.10" stroke="#005f87" stroke-width="2" fill="none"/>
<path d="M125.80,449.70H155.40" stroke="#005f87" stroke-width="2" fill="none"/>
<path d="M125.80,596.10H155.40" stroke="#4f8fab" stroke-width="2" fill="none"/>
<rect x="230.15" y="510.60" width="59.20" height="65.00" fill="#f99d00" fill-opacity="0.5" stroke="#f9a202" stroke-width="2"/>
<path d="M230.15,541.80H289.35M259.75,510.60V413.80M259.75,575.60V667.50" stroke="#f9a202" stroke-width="2" fill="none"/>
<path d="M244.95,413.80H274.55" stroke="#f9a202" stroke-width="2" fill="none"/>
<path d="M244.95,667.50H274.55" stroke="#fbc766" stroke-width="2" fill="none"/>
<path fill="#005f87" d="M143.3,516.9m-3.0,0a3.0,3.0 0 1,0 6.0,0a3.0,3.0 0 1,0 -6.0,0M134.6,539.3m-3.0,0a3.0,3.0 0 1,0 6.0,0a3.0,3.0 0 1,0 -6.0,0M138.8,449.7m-3.0,0a3.0,3.0 0 1,0 6.0,0a3.0,3.0 0 1,0 -6.0,0M144.8,512.4m-3.0,0a3.0,3.0 0 1,0 6.0,0a3.0,3.0 0 1,0 -6.0,0M144.3,517.9m-3.0,0a3.0,3.0 0 1,0 6.0,0a3.0,3.0 0 1,0 -6.0,0M141.1,581.7m-3.0,0a3.0,3.0 0 1,0 6.0,0a3.0,3.0 0 1,0 -6.0,0M143.2,466.6m-3.0,0a3.0,3.0 0 1,0 6.0,0a3.0,3.0 0 1,0 -6.0,0M142.9,505.8m-3.0,0a3.0,3.0 0 1,0 6.0,0a3.0,3.0 0 1,0 -6.0,0M147.1,547.6m-3.0,0a3.0,3.0 0 1,0 6.0,0a3.0,3.0 0 1,0 -6.0,0M134.8,548.2m-3.0,0a3.0,3.0 0 1,0 6.0,0a3.0,3.0 0 1,0 -6.0,0M143.5,493.2m-3.0,0a3.0,3.0 0 1,0 6.0,0a3.0,3.0 0 1,0 -6.0,0M134.0,551.7m-3.0,0a3.0,3.0 0 1,0 6.0,0a3.0,3.0 0 1,0 -6.0,0M145.3,503.2m-3.0,0a3.0,3.0 0 1,0 6.0,0a3.0,3.0 0 1,0 -6.0,0M141.0,500.9m-3.0,0a3.0,3.0 0 1,0 6.0,0a3.0,3.0 0 1,0 -6.0,0M144.1,559.1m-3.0,0a3.0,3.0 0 1,0 6.0,0a3.0,3.0 0 1,0 -6.0,0M140.2,609.7m-3.0,0a3.0,3.0 0 1,0 6.0,0a3.0,3.0 0 1,0 -6.0,0M142.8,544.5m-3.0,0a3.0,3.0 0 1,0 6.0,0a3.0,3.0 0 1,0 -6.0,0M144.2,524.6m-3.0,0a3.0,3.0 0 1,0 6.0,0a3.0,3.0 0 1,0 -6.0,0M136.0,501.2m-3.0,0a3.0,3.0 0 1,0 6.0,0a3.0,3.0 0 1,0 -6.0,0M136.1,541.5m-3.0,0a3.0,3.0 0 1,0 6.0,0a3.0,3.0 0 1,0 -6.0,0M138.7,522.6m-3.0,0a3.0,3.0 0 1,0 6.0,0a3.0,3.0 0 1,0 -6.0,0M140.9,561.6m-3.0,0a3.0,3.0 0 1,0 6.0,0a3.0,3.0 0 1,0 -6.0,0M139.5,511.1m-3.0,0a3.0,3.0 0 1,0 6.0,0a3.0,3.0 0 1,0 -6.0,0M145.8,545.5m-3.0,0a3.0,3.0 0 1,0 6.0,0a3.0,3.0 0 1,0 -6.0,0M142.4,424.5m-3.0,0a3.0,3.0 0 1,0 6.0,0a3.0,3.0 0 1,0 -6.0,0M141.3,536.2m-3.0,0a3.0,3.0 0 1,0 6.0,0a3.0,3.0 0 1,0 -6.0,0M147.9,530.3m-3.0,0a3.0,3.0 0 1,0 6.0,0a3.0,3.0 0 1,0 -6.0,0M136.0,535.7m-3.0,0a3.0,3.0 0 1,0 6.0,0a3.0,3.0 0 1,0 -6.0,0M142.6,461.2m-3.0,0a3.0,3.0 0 1,0 6.0,0a3.0,3.0 0 1,0 -6.0,0M135.8,507.4m-3.0,0a3.0,3.0 0 1,0 6.0,0a3.0,3.0 0 1,0 -6.0,0M134.3,532.7m-3.0,0a3.0,3.0 0 1,0 6.0,0a3.0,3.0 0 1,0 -6.0,0M135.5,526.6m-3.0,0a3.0,3.0 0 1,0 6.0,0a3.0,3.0 0 1,0 -6.0,0M141.2,577.7m-3.0,0a3.0,3.0 0 1,0 6.0,0a3.0,3.0 0 1,0 -6.0,0M139.9,548.7m-3.0,0a3.0,3.0 0 1,0 6.0,0a3.0,3.0 0 1,0 -6.0,0M144.8,528.8m-3.0,0a3.0,3.0 0 1,0 6.0,0a3.0,3.0 0 1,0 -6.0,0M137.0,546.3m-3.0,0a3.0,3.0 0 1,0 6.0,0a3.0,3.0 0 1,0 -6.0,0M142.3,525.3m-3.0,0a3.0,3.0 0 1,0 6.0,0a3.0,3.0 0 1,0 -6.0,0M133.3,505.3m-3.0,0a3.0,3.0 0 1,0 6.0,0a3.0,3.0 0 1,0 -6.0,0M143.0,498.0m-3.0,0a3.0,3.0 0 1,0 6.0,0a3.0,3.0 0 1,0 -6.0,0M141.4,510.2m-3.0,0a3.0,3.0 0 1,0 6.0,0a3.0,3.0 0 1,0 -6.0,0M142.2,563.4m-3.0,0a3.0,3.0 0 1,0 6.0,0a3.0,3.0 0 1,0 -6.0,0M136.0,502.1m-3.0,0a3.0,3.0 0 1,0 6.0,0a3.0,3.0 0 1,0 -6.0,0M137.7,509.9m-3.0,0a3.0,3.0 0 1,0 6.0,0a3.0,3.0 0 1,0 -6.0,0M145.8,498.6m-3.0,0a3.0,3.0 0 1,0 6.0,0a3.0,3.0 0 1,0 -6.0,0M144.9,542.9m-3.0,0a3.0,3.0 0 1,0 6.0,0a3.0,3.0 0 1,0 -6.0,0M133.9,527.7m-3.0,0a3.0,3.0 0 1,0 6.0,0a3.0,3.0 0 1,0 -6.0,0M137.0,554.8m-3.0,0a3.0,3.0 0 1,0 6.0,0a3.0,3.0 0 1,0 -6.0,0M134.1,549.8m-3.0,0a3.0,3.0 0 1,0 6.0,0a3.0,3.0 0 1,0 -6.0,0M146.5,496.8m-3.0,0a3.0,3.0 0 1,0 6.0,0a3.0,3.0 0 1,0 -6.0,0M136.9,532.0m-3.0,0a3.0,3.0 0 1,0 6.0,0a3.0,3.0 0 1,0 -6.0,0M136.0,508.3m-3.0,0a3.0,3.0 0 1,0 6.0,0a3.0,3.0 0 1,0 -6.0,0M134.4,519.8m-3.0,0a3.0,3.0 0 1,0 6.0,0a3.0,3.0 0 1,0 -6.0,0M142.2,593.0m-3.0,0a3.0,3.0 0 1,0 6.0,0a3.0,3.0 0 1,0 -6.0,0M137.1,552.6m-3.0,0a3.0,3.0 0 1,0 6.0,0a3.0,3.0 0 1,0 -6.0,0M137.2,481.3m-3.0,0a3.0,3.0 0 1,0 6.0,0a3.0,3.0 0 1,0 -6.0,0M140.5,456.3m-3.0,0a3.0,3.0 0 1,0 6.0,0a3.0,3.0 0 1,0 -6.0,0M137.6,537.9m-3.0,0a3.0,3.0 0 1,0 6.0,0a3.0,3.0 0 1,0 -6.0,0M143.1,519.5m-3.0,0a3.0,3.0 0 1,0 6.0,0a3.0,3.0 0 1,0 -6.0,0M141.8,545.1m-3.0,0a3.0,3.0 0 1,0 6.0,0a3.0,3.0 0 1,0 -6.0,0M146.3,537.3m-3.0,0a3.0,3.0 0 1,0 6.0,0a3.0,3.0 0 1,0 -6.0,0M143.6,570.1m-3.0,0a3.0,3.0 0 1,0 6.0,0a3.0,3.0 0 1,0 -6.0,0M141.2,499.4m-3.0,0a3.0,3.0 0 1,0 6.0,0a3.0,3.0 0 1,0 -6.0,0M143.1,526.1m-3.0,0a3.0,3.0 0 1,0 6.0,0a3.0,3.0 0 1,0 -6.0,0M141.5,453.3m-3.0,0a3.0,3.0 0 1,0 6.0,0a3.0,3.0 0 1,0 -6.0,0M143.0,546.7m-3.0,0a3.0,3.0 0 1,0 6.0,0a3.0,3.0 0 1,0 -6.0,0M142.1,509.5m-3.0,0a3.0,3.0 0 1,0 6.0,0a3.0,3.0 0 1,0 -6.0,0M144.8,533.3m-3.0,0a3.0,3.0 0 1,0 6.0,0a3.0,3.0 0 1,0 -6.0,0M136.9,533.8m-3.0,0a3.0,3.0 0 1,0 6.0,0a3.0,3.0 0 1,0 -6.0,0M139.5,504.3m-3.0,0a3.0,3.0 0 1,0 6.0,0a3.0,3.0 0 1,0 -6.0,0M140.7,547.4m-3.0,0a3.0,3.0 0 1,0 6.0,0a3.0,3.0 0 1,0 -6.0,0M142.2,551.2m-3.0,0a3.0,3.0 0 1,0 6.0,0a3.0,3.0 0 1,0 -6.0,0M139.9,515.0m-3.0,0a3.0,3.0 0 1,0 6.0,0a3.0,3.0 0 1,0 -6.0,0M145.3,553.9m-3.0,0a3.0,3.0 0 1,0 6.0,0a3.0,3.0 0 1,0 -6.0,0M137.9,554.2m-3.0,0a3.0,3.0 0 1,0 6.0,0a3.0,3.0 0 1,0 -6.0,0M143.9,470.5m-3.0,0a3.0,3.0 0 1,0 6.0,0a3.0,3.0 0 1,0 -6.0,0M146.9,541.9m-3.0,0a3.0,3.0 0 1,0 6.0,0a3.0,3.0 0 1,0 -6.0,0M137.1,542.4m-3.0,0a3.0,3.0 0 1,0 6.0,0a3.0,3.0 0 1,0 -6.0,0M136.5,539.8m-3.0,0a3.0,3.0 0 1,0 6.0,0a3.0,3.0 0 1,0 -6.0,0M134.2,523.0m-3.0,0a3.0,3.0 0 1,0 6.0,0a3.0,3.0 0 1,0 -6.0,0M140.0,507.0m-3.0,0a3.0,3.0 0 1,0 6.0,0a3.0,3.0 0 1,0 -6.0,0M143.4,529.6m-3.0,0a3.0,3.0 0 1,0 6.0,0a3.0,3.0 0 1,0 -6.0,0M143.4,543.1m-3.0,0a3.0,3.0 0 1,0 6.0,0a3.0,3.0 0 1,0 -6.0,0M137.8,536.7m-3.0,0a3.0,3.0 0 1,0 6.0,0a3.0,3.0 0 1,0 -6.0,0M143.0,520.4m-3.0,0a3.0,3.0 0 1,0 6.0,0a3.0,3.0 0 1,0 -6.0,0M137.6,576.4m-3.0,0a3.0,3.0 0 1,0 6.0,0a3.0,3.0 0 1,0 -6.0,0M140.0,527.5m-3.0,0a3.0,3.0 0 1,0 6.0,0a3.0,3.0 0 1,0 -6.0,0M140.2,462.5m-3.0,0a3.0,3.0 0 1,0 6.0,0a3.0,3.0 0 1,0 -6.0,0M138.0,530.9m-3.0,0a3.0,3.0 0 1,0 6.0,0a3.0,3.0 0 1,0 -6.0,0M145.2,516.0m-3.0,0a3.0,3.0 0 1,0 6.0,0a3.0,3.0 0 1,0 -6.0,0M138.5,492.6m-3.0,0a3.0,3.0 0 1,0 6.0,0a3.0,3.0 0 1,0 -6.0,0M146.5,535.1m-3.0,0a3.0,3.0 0 1,0 6.0,0a3.0,3.0 0 1,0 -6.0,0M139.7,494.0m-3.0,0a3.0,3.0 0 1,0 6.0,0a3.0,3.0 0 1,0 -6.0,0M141.3,511.1m-3.0,0a3.0,3.0 0 1,0 6.0,0a3.0,3.0 0 1,0 -6.0,0M145.9,517.4m-3.0,0a3.0,3.0 0 1,0 6.0,0a3.0,3.0 0 1,0 -6.0,0M134.8,556.2m-3.0,0a3.0,3.0 0 1,0 6.0,0a3.0,3.0 0 1,0 -6.0,0M143.7,571.4m-3.0,0a3.0,3.0 0 1,0 6.0,0a3.0,3.0 0 1,0 -6.0,0M133.9,523.2m-3.0,0a3.0,3.0 0 1,0 6.0,0a3.0,3.0 0 1,0 -6.0,0M144.7,552.3m-3.0,0a3.0,3.0 0 1,0 6.0,0a3.0,3.0 0 1,0 -6.0,0M134.7,558.0m-3.0,0a3.0,3.0 0 1,0 6.0,0a3.0,3.0 0 1,0 -6.0,0M139.1,585.9m-3.0,0a3.0,3.0 0 1,0 6.0,0a3.0,3.0 0 1,0 -6.0,0M141.0,506.2m-3.0,0a3.0,3.0 0 1,0 6.0,0a3.0,3.0 0 1,0 -6.0,0M143.5,545.8m-3.0,0a3.0,3.0 0 1,0 6.0,0a3.0,3.0 0 1,0 -6.0,0M146.8,518.3m-3.0,0a3.0,3.0 0 1,0 6.0,0a3.0,3.0 0 1,0 -6.0,0M138.0,541.1m-3.0,0a3.0,3.0 0 1,0 6.0,0a3.0,3.0 0 1,0 -6.0,0M144.0,521.4m-3.0,0a3.0,3.0 0 1,0 6.0,0a3.0,3.0 0 1,0 -6.0,0M138.5,475.0m-3.0,0a3.0,3.0 0 1,0 6.0,0a3.0,3.0 0 1,0 -6.0,0M144.5,565.6m-3.0,0a3.0,3.0 0 1,0 6.0,0a3.0,3.0 0 1,0 -6.0,0M141.4,544.1m-3.0,0a3.0,3.0 0 1,0 6.0,0a3.0,3.0 0 1,0 -6.0,0M135.7,529.5m-3.0,0a3.0,3.0 0 1,0 6.0,0a3.0,3.0 0 1,0 -6.0,0M138.4,560.8m-3.0,0a3.0,3.0 0 1,0 6.0,0a3.0,3.0 0 1,0 -6.0,0M138.3,555.8m-3.0,0a3.0,3.0 0 1,0 6.0,0a3.0,3.0 0 1,0 -6.0,0M145.1,557.8m-3.0,0a3.0,3.0 0 1,0 6.0,0a3.0,3.0 0 1,0 -6.0,0M141.8,606.3m-3.0,0a3.0,3.0 0 1,0 6.0,0a3.0,3.0 0 1,0 -6.0,0M146.3,550.6m-3.0,0a3.0,3.0 0 1,0 6.0,0a3.0,3.0 0 1,0 -6.0,0M145.8,513.6m-3.0,0a3.0,3.0 0 1,0 6.0,0a3.0,3.0 0 1,0 -6.0,0M142.2,591.2m-3.0,0a3.0,3.0 0 1,0 6.0,0a3.0,3.0 0 1,0 -6.0,0M145.3,514.4m-3.0,0a3.0,3.0 0 1,0 6.0,0a3.0,3.0 0 1,0 -6.0,0M133.8,504.7m-3.0,0a3.0,3.0 0 1,0 6.0,0a3.0,3.0 0 1,0 -6.0,0M144.5,534.5m-3.0,0a3.0,3.0 0 1,0 6.0,0a3.0,3.0 0 1,0 -6.0,0M138.1,572.9m-3.0,0a3.0,3.0 0 1,0 6.0,0a3.0,3.0 0 1,0 -6.0,0M141.0,519.0m-3.0,0a3.0,3.0 0 1,0 6.0,0a3.0,3.0 0 1,0 -6.0,0M141.3,528.2m-3.0,0a3.0,3.0 0 1,0 6.0,0a3.0,3.0 0 1,0 -6.0,0M136.9,516.2m-3.0,0a3.0,3.0 0 1,0 6.0,0a3.0,3.0 0 1,0 -6.0,0M144.0,550.1m-3.0,0a3.0,3.0 0 1,0 6.0,0a3.0,3.0 0 1,0 -6.0,0M135.3,524.4m-3.0,0a3.0,3.0 0 1,0 6.0,0a3.0,3.0 0 1,0 -6.0,0M138.4,468.8m-3.0,0a3.0,3.0 0 1,0 6.0,0a3.0,3.0 0 1,0 -6.0,0M135.3,520.6m-3.0,0a3.0,3.0 0 1,0 6.0,0a3.0,3.0 0 1,0 -6.0,0M137.0,486.9m-3.0,0a3.0,3.0 0 1,0 6.0,0a3.0,3.0 0 1,0 -6.0,0M139.1,588.6m-3.0,0a3.0,3.0 0 1,0 6.0,0a3.0,3.0 0 1,0 -6.0,0M145.3,532.5m-3.0,0a3.0,3.0 0 1,0 6.0,0a3.0,3.0 0 1,0 -6.0,0M135.0,508.8m-3.0,0a3.0,3.0 0 1,0 6.0,0a3.0,3.0 0 1,0 -6.0,0M141.6,497.4m-3.0,0a3.0,3.0 0 1,0 6.0,0a3.0,3.0 0 1,0 -6.0,0M134.9,507.7m-3.0,0a3.0,3.0 0 1,0 6.0,0a3.0,3.0 0 1,0 -6.0,0M140.9,523.8m-3.0,0a3.0,3.0 0 1,0 6.0,0a3.0,3.0 0 1,0 -6.0,0M135.4,499.6m-3.0,0a3.0,3.0 0 1,0 6.0,0a3.0,3.0 0 1,0 -6.0,0M143.5,502.6m-3.0,0a3.0,3.0 0 1,0 6.0,0a3.0,3.0 0 1,0 -6.0,0M140.8,563.9m-3.0,0a3.0,3.0 0 1,0 6.0,0a3.0,3.0 0 1,0 -6.0,0M146.6,521.9m-3.0,0a3.0,3.0 0 1,0 6.0,0a3.0,3.0 0 1,0 -6.0,0M134.4,501.8m-3.0,0a3.0,3.0 0 1,0 6.0,0a3.0,3.0 0 1,0 -6.0,0M139.5,478.0m-3.0,0a3.0,3.0 0 1,0 6.0,0a3.0,3.0 0 1,0 -6.0,0M135.5,512.6m-3.0,0a3.0,3.0 0 1,0 6.0,0a3.0,3.0 0 1,0 -6.0,0M137.9,596.9m-3.0,0a3.0,3.0 0 1,0 6.0,0a3.0,3.0 0 1,0 -6.0,0M138.5,599.8m-3.0,0a3.0,3.0 0 1,0 6.0,0a3.0,3.0 0 1,0 -6.0,0M140.9,558.7m-3.0,0a3.0,3.0 0 1,0 6.0,0a3.0,3.0 0 1,0 -6.0,0M147.5,513.3m-3.0,0a3.0,3.0 0 1,0 6.0,0a3.0,3.0 0 1,0 -6.0,0M140.9,500.3m-3.0,0a3.0,3.0 0 1,0 6.0,0a3.0,3.0 0 1,0 -6.0,0M143.3,557.1m-3.0,0a3.0,3.0 0 1,0 6.0,0a3.0,3.0 0 1,0 -6.0,0M136.8,486.4m-3.0,0a3.0,3.0 0 1,0 6.0,0a3.0,3.0 0 1,0 -6.0,0M139.2,538.6m-3.0,0a3.0,3.0 0 1,0 6.0,0a3.0,3.0 0 1,0 -6.0,0M135.1,555.3m-3.0,0a3.0,3.0 0 1,0 6.0,0a3.0,3.0 0 1,0 -6.0,0M145.4,495.3m-3.0,0a3.0,3.0 0 1,0 6.0,0a3.0,3.0 0 1,0 -6.0,0M147.2,515.4m-3.0,0a3.0,3.0 0 1,0 6.0,0a3.0,3.0 0 1,0 -6.0,0M137.9,488.8m-3.0,0a3.0,3.0 0 1,0 6.0,0a3.0,3.0 0 1,0 -6.0,0M135.9,538.2m-3.0,0a3.0,3.0 0 1,0 6.0,0a3.0,3.0 0 1,0 -6.0,0M143.6,540.4m-3.0,0a3.0,3.0 0 1,0 6.0,0a3.0,3.0 0 1,0 -6.0,0M144.5,495.2m-3.0,0a3.0,3.0 0 1,0 6.0,0a3.0,3.0 0 1,0 -6.0,0M140.0,473.9m-3.0,0a3.0,3.0 0 1,0 6.0,0a3.0,3.0 0 1,0 -6.0,0M144.3,511.8m-3.0,0a3.0,3.0 0 1,0 6.0,0a3.0,3.0 0 1,0 -6.0,0M147.5,549.2m-3.0,0a3.0,3.0 0 1,0 6.0,0a3.0,3.0 0 1,0 -6.0,0M139.7,483.9m-3.0,0a3.0,3.0 0 1,0 6.0,0a3.0,3.0 0 1,0 -6.0,0M143.8,559.8m-3.0,0a3.0,3.0 0 1,0 6.0,0a3.0,3.0 0 1,0 -6.0,0M136.3,531.5m-3.0,0a3.0,3.0 0 1,0 6.0,0a3.0,3.0 0 1,0 -6.0,0M145.6,496.6m-3.0,0a3.0,3.0 0 1,0 6.0,0a3.0,3.0 0 1,0 -6.0,0M140.9,553.6m-3.0,0a3.0,3.0 0 1,0 6.0,0a3.0,3.0 0 1,0 -6.0,0M138.2,491.0m-3.0,0a3.0,3.0 0 1,0 6.0,0a3.0,3.0 0 1,0 -6.0,0M141.6,479.3m-3.0,0a3.0,3.0 0 1,0 6.0,0a3.0,3.0 0 1,0 -6.0,0M145.7,535.2m-3.0,0a3.0,3.0 0 1,0 6.0,0a3.0,3.0 0 1,0 -6.0,0M142.9,503.9m-3.0,0a3.0,3.0 0 1,0 6.0,0a3.0,3.0 0 1,0 -6.0,0M140.6,525.7m-3.0,0a3.0,3.0 0 1,0 6.0,0a3.0,3.0 0 1,0 -6.0,0"/>
<path fill="#f9a202" d="M256.0,508.6m-3.0,0a3.0,3.0 0 1,0 6.0,0a3.0,3.0 0 1,0 -6.0,0M262.7,664.0m-3.0,0a3.0,3.0 0 1,0 6.0,0a3.0,3.0 0 1,0 -6.0,0M264.3,564.6m-3.0,0a3.0,3.0 0 1,0 6.0,0a3.0,3.0 0 1,0 -6.0,0M261.7,574.6m-3.0,0a3.0,3.0 0 1,0 6.0,0a3.0,3.0 0 1,0 -6.0,0M257.5,626.9m-3.0,0a3.0,3.0 0 1,0 6.0,0a3.0,3.0 0 1,0 -6.0,0M254.4,582.9m-3.0,0a3.0,3.0 0 1,0 6.0,0a3.0,3.0 0 1,0 -6.0,0M258.6,434.6m-3.0,0a3.0,3.0 0 1,0 6.0,0a3.0,3.0 0 1,0 -6.0,0M265.5,555.1m-3.0,0a3.0,3.0 0 1,0 6.0,0a3.0,3.0 0 1,0 -6.0,0M258.8,485.0m-3.0,0a3.0,3.0 0 1,0 6.0,0a3.0,3.0 0 1,0 -6.0,0M265.8,552.1m-3.0,0a3.0,3.0 0 1,0 6.0,0a3.0,3.0 0 1,0 -6.0,0M252.4,594.4m-3.0,0a3.0,3.0 0 1,0 6.0,0a3.0,3.0 0 1,0 -6.0,0M262.4,401.5m-3.0,0a3.0,3.0 0 1,0 6.0,0a3.0,3.0 0 1,0 -6.0,0M261.0,491.0m-3.0,0a3.0,3.0 0 1,0 6.0,0a3.0,3.0 0 1,0 -6.0,0M258.2,597.1m-3.0,0a3.0,3.0 0 1,0 6.0,0a3.0,3.0 0 1,0 -6.0,0M260.7,492.6m-3.0,0a3.0,3.0 0 1,0 6.0,0a3.0,3.0 0 1,0 -6.0,0M264.3,583.6m-3.0,0a3.0,3.0 0 1,0 6.0,0a3.0,3.0 0 1,0 -6.0,0M257.1,606.8m-3.0,0a3.0,3.0 0 1,0 6.0,0a3.0,3.0 0 1,0 -6.0,0M267.0,530.7m-3.0,0a3.0,3.0 0 1,0 6.0,0a3.0,3.0 0 1,0 -6.0,0M254.7,517.2m-3.0,0a3.0,3.0 0 1,0 6.0,0a3.0,3.0 0 1,0 -6.0,0M257.6,496.5m-3.0,0a3.0,3.0 0 1,0 6.0,0a3.0,3.0 0 1,0 -6.0,0M259.3,530.1m-3.0,0a3.0,3.0 0 1,0 6.0,0a3.0,3.0 0 1,0 -6.0,0M259.4,569.3m-3.0,0a3.0,3.0 0 1,0 6.0,0a3.0,3.0 0 1,0 -6.0,0M258.2,584.7m-3.0,0a3.0,3.0 0 1,0 6.0,0a3.0,3.0 0 1,0 -6.0,0M260.1,591.1m-3.0,0a3.0,3.0 0 1,0 6.0,0a3.0,3.0 0 1,0 -6.0,0M258.1,489.8m-3.0,0a3.0,3.0 0 1,0 6.0,0a3.0,3.0 0 1,0 -6.0,0M257.8,593.2m-3.0,0a3.0,3.0 0 1,0 6.0,0a3.0,3.0 0 1,0 -6.0,0M254.3,481.9m-3.0,0a3.0,3.0 0 1,0 6.0,0a3.0,3.0 0 1,0 -6.0,0M252.2,534.6m-3.0,0a3.0,3.0 0 1,0 6.0,0a3.0,3.0 0 1,0 -6.0,0M263.9,543.3m-3.0,0a3.0,3.0 0 1,0 6.0,0a3.0,3.0 0 1,0 -6.0,0M266.0,541.9m-3.0,0a3.0,3.0 0 1,0 6.0,0a3.0,3.0 0 1,0 -6.0,0M261.7,485.3m-3.0,0a3.0,3.0 0 1,0 6.0,0a3.0,3.0 0 1,0 -6.0,0M256.6,621.6m-3.0,0a3.0,3.0 0 1,0 6.0,0a3.0,3.0 0 1,0 -6.0,0M259.3,544.1m-3.0,0a3.0,3.0 0 1,0 6.0,0a3.0,3.0 0 1,0 -6.0,0M264.1,470.4m-3.0,0a3.0,3.0 0 1,0 6.0,0a3.0,3.0 0 1,0 -6.0,0M255.4,427.7m-3.0,0a3.0,3.0 0 1,0 6.0,0a3.0,3.0 0 1,0 -6.0,0M260.2,486.6m-3.0,0a3.0,3.0 0 1,0 6.0,0a3.0,3.0 0 1,0 -6.0,0M260.8,596.5m-3.0,0a3.0,3.0 0 1,0 6.0,0a3.0,3.0 0 1,0 -6.0,0M260.3,635.1m-3.0,0a3.0,3.0 0 1,0 6.0,0a3.0,3.0 0 1,0 -6.0,0M266.3,542.1m-3.0,0a3.0,3.0 0 1,0 6.0,0a3.0,3.0 0 1,0 -6.0,0M253.3,557.8m-3.0,0a3.0,3.0 0 1,0 6.0,0a3.0,3.0 0 1,0 -6.0,0M260.0,568.0m-3.0,0a3.0,3.0 0 1,0 6.0,0a3.0,3.0 0 1,0 -6.0,0M261.2,422.5m-3.0,0a3.0,3.0 0 1,0 6.0,0a3.0,3.0 0 1,0 -6.0,0M259.7,524.4m-3.0,0a3.0,3.0 0 1,0 6.0,0a3.0,3.0 0 1,0 -6.0,0M252.2,571.6m-3.0,0a3.0,3.0 0 1,0 6.0,0a3.0,3.0 0 1,0 -6.0,0M261.3,547.5m-3.0,0a3.0,3.0 0 1,0 6.0,0a3.0,3.0 0 1,0 -6.0,0M262.4,439.7m-3.0,0a3.0,3.0 0 1,0 6.0,0a3.0,3.0 0 1,0 -6.0,0M258.1,667.4m-3.0,0a3.0,3.0 0 1,0 6.0,0a3.0,3.0 0 1,0 -6.0,0M256.0,595.9m-3.0,0a3.0,3.0 0 1,0 6.0,0a3.0,3.0 0 1,0 -6.0,0M265.2,549.1m-3.0,0a3.0,3.0 0 1,0 6.0,0a3.0,3.0 0 1,0 -6.0,0M254.4,494.5m-3.0,0a3.0,3.0 0 1,0 6.0,0a3.0,3.0 0 1,0 -6.0,0M265.7,540.7m-3.0,0a3.0,3.0 0 1,0 6.0,0a3.0,3.0 0 1,0 -6.0,0M260.8,614.5m-3.0,0a3.0,3.0 0 1,0 6.0,0a3.0,3.0 0 1,0 -6.0,0M265.2,480.6m-3.0,0a3.0,3.0 0 1,0 6.0,0a3.0,3.0 0 1,0 -6.0,0M261.1,645.9m-3.0,0a3.0,3.0 0 1,0 6.0,0a3.0,3.0 0 1,0 -6.0,0M261.6,570.2m-3.0,0a3.0,3.0 0 1,0 6.0,0a3.0,3.0 0 1,0 -6.0,0M262.1,533.1m-3.0,0a3.0,3.0 0 1,0 6.0,0a3.0,3.0 0 1,0 -6.0,0M257.3,467.9m-3.0,0a3.0,3.0 0 1,0 6.0,0a3.0,3.0 0 1,0 -6.0,0M257.0,661.8m-3.0,0a3.0,3.0 0 1,0 6.0,0a3.0,3.0 0 1,0 -6.0,0M263.6,632.0m-3.0,0a3.0,3.0 0 1,0 6.0,0a3.0,3.0 0 1,0 -6.0,0M255.0,550.8m-3.0,0a3.0,3.0 0 1,0 6.0,0a3.0,3.0 0 1,0 -6.0,0M264.9,508.1m-3.0,0a3.0,3.0 0 1,0 6.0,0a3.0,3.0 0 1,0 -6.0,0M259.2,585.2m-3.0,0a3.0,3.0 0 1,0 6.0,0a3.0,3.0 0 1,0 -6.0,0M265.9,578.1m-3.0,0a3.0,3.0 0 1,0 6.0,0a3.0,3.0 0 1,0 -6.0,0M266.0,461.7m-3.0,0a3.0,3.0 0 1,0 6.0,0a3.0,3.0 0 1,0 -6.0,0M265.5,588.4m-3.0,0a3.0,3.0 0 1,0 6.0,0a3.0,3.0 0 1,0 -6.0,0M259.8,585.7m-3.0,0a3.0,3.0 0 1,0 6.0,0a3.0,3.0 0 1,0 -6.0,0M266.0,600.0m-3.0,0a3.0,3.0 0 1,0 6.0,0a3.0,3.0 0 1,0 -6.0,0M265.2,574.0m-3.0,0a3.0,3.0 0 1,0 6.0,0a3.0,3.0 0 1,0 -6.0,0M253.7,538.4m-3.0,0a3.0,3.0 0 1,0 6.0,0a3.0,3.0 0 1,0 -6.0,0M253.0,516.9m-3.0,0a3.0,3.0 0 1,0 6.0,0a3.0,3.0 0 1,0 -6.0,0M259.5,629.3m-3.0,0a3.0,3.0 0 1,0 6.0,0a3.0,3.0 0 1,0 -6.0,0M256.7,583.2m-3.0,0a3.0,3.0 0 1,0 6.0,0a3.0,3.0 0 1,0 -6.0,0M254.5,544.4m-3.0,0a3.0,3.0 0 1,0 6.0,0a3.0,3.0 0 1,0 -6.0,0M257.7,595.0m-3.0,0a3.0,3.0 0 1,0 6.0,0a3.0,3.0 0 1,0 -6.0,0M265.4,591.5m-3.0,0a3.0,3.0 0 1,0 6.0,0a3.0,3.0 0 1,0 -6.0,0M261.9,477.6m-3.0,0a3.0,3.0 0 1,0 6.0,0a3.0,3.0 0 1,0 -6.0,0M256.1,535.7m-3.0,0a3.0,3.0 0 1,0 6.0,0a3.0,3.0 0 1,0 -6.0,0M259.6,641.9m-3.0,0a3.0,3.0 0 1,0 6.0,0a3.0,3.0 0 1,0 -6.0,0M253.0,498.2m-3.0,0a3.0,3.0 0 1,0 6.0,0a3.0,3.0 0 1,0 -6.0,0M259.5,498.7m-3.0,0a3.0,3.0 0 1,0 6.0,0a3.0,3.0 0 1,0 -6.0,0M253.5,587.4m-3.0,0a3.0,3.0 0 1,0 6.0,0a3.0,3.0 0 1,0 -6.0,0M263.6,520.0m-3.0,0a3.0,3.0 0 1,0 6.0,0a3.0,3.0 0 1,0 -6.0,0M264.1,529.2m-3.0,0a3.0,3.0 0 1,0 6.0,0a3.0,3.0 0 1,0 -6.0,0M256.9,503.6m-3.0,0a3.0,3.0 0 1,0 6.0,0a3.0,3.0 0 1,0 -6.0,0M254.1,612.3m-3.0,0a3.0,3.0 0 1,0 6.0,0a3.0,3.0 0 1,0 -6.0,0M252.5,541.3m-3.0,0a3.0,3.0 0 1,0 6.0,0a3.0,3.0 0 1,0 -6.0,0M262.1,557.2m-3.0,0a3.0,3.0 0 1,0 6.0,0a3.0,3.0 0 1,0 -6.0,0M259.0,470.8m-3.0,0a3.0,3.0 0 1,0 6.0,0a3.0,3.0 0 1,0 -6.0,0M254.3,554.7m-3.0,0a3.0,3.0 0 1,0 6.0,0a3.0,3.0 0 1,0 -6.0,0M257.2,625.5m-3.0,0a3.0,3.0 0 1,0 6.0,0a3.0,3.0 0 1,0 -6.0,0M263.4,496.9m-3.0,0a3.0,3.0 0 1,0 6.0,0a3.0,3.0 0 1,0 -6.0,0M252.4,488.2m-3.0,0a3.0,3.0 0 1,0 6.0,0a3.0,3.0 0 1,0 -6.0,0M253.2,606.0m-3.0,0a3.0,3.0 0 1,0 6.0,0a3.0,3.0 0 1,0 -6.0,0M252.0,509.9m-3.0,0a3.0,3.0 0 1,0 6.0,0a3.0,3.0 0 1,0 -6.0,0M259.5,561.6m-3.0,0a3.0,3.0 0 1,0 6.0,0a3.0,3.0 0 1,0 -6.0,0M257.1,623.8m-3.0,0a3.0,3.0 0 1,0 6.0,0a3.0,3.0 0 1,0 -6.0,0M254.9,528.1m-3.0,0a3.0,3.0 0 1,0 6.0,0a3.0,3.0 0 1,0 -6.0,0M266.1,527.6m-3.0,0a3.0,3.0 0 1,0 6.0,0a3.0,3.0 0 1,0 -6.0,0M258.6,580.2m-3.0,0a3.0,3.0 0 1,0 6.0,0a3.0,3.0 0 1,0 -6.0,0M265.1,531.2m-3.0,0a3.0,3.0 0 1,0 6.0,0a3.0,3.0 0 1,0 -6.0,0M262.6,654.3m-3.0,0a3.0,3.0 0 1,0 6.0,0a3.0,3.0 0 1,0 -6.0,0M254.5,579.7m-3.0,0a3.0,3.0 0 1,0 6.0,0a3.0,3.0 0 1,0 -6.0,0M257.2,569.0m-3.0,0a3.0,3.0 0 1,0 6.0,0a3.0,3.0 0 1,0 -6.0,0M263.0,504.2m-3.0,0a3.0,3.0 0 1,0 6.0,0a3.0,3.0 0 1,0 -6.0,0M260.1,438.1m-3.0,0a3.0,3.0 0 1,0 6.0,0a3.0,3.0 0 1,0 -6.0,0M266.1,488.6m-3.0,0a3.0,3.0 0 1,0 6.0,0a3.0,3.0 0 1,0 -6.0,0M255.1,603.2m-3.0,0a3.0,3.0 0 1,0 6.0,0a3.0,3.0 0 1,0 -6.0,0M265.1,553.5m-3.0,0a3.0,3.0 0 1,0 6.0,0a3.0,3.0 0 1,0 -6.0,0M262.9,521.1m-3.0,0a3.0,3.0 0 1,0 6.0,0a3.0,3.0 0 1,0 -6.0,0M257.4,537.9m-3.0,0a3.0,3.0 0 1,0 6.0,0a3.0,3.0 0 1,0 -6.0,0M262.6,413.8m-3.0,0a3.0,3.0 0 1,0 6.0,0a3.0,3.0 0 1,0 -6.0,0M263.3,495.2m-3.0,0a3.0,3.0 0 1,0 6.0,0a3.0,3.0 0 1,0 -6.0,0M262.1,538.6m-3.0,0a3.0,3.0 0 1,0 6.0,0a3.0,3.0 0 1,0 -6.0,0M255.6,501.6m-3.0,0a3.0,3.0 0 1,0 6.0,0a3.0,3.0 0 1,0 -6.0,0M263.9,615.5m-3.0,0a3.0,3.0 0 1,0 6.0,0a3.0,3.0 0 1,0 -6.0,0M255.8,546.7m-3.0,0a3.0,3.0 0 1,0 6.0,0a3.0,3.0 0 1,0 -6.0,0M265.7,601.8m-3.0,0a3.0,3.0 0 1,0 6.0,0a3.0,3.0 0 1,0 -6.0,0M262.1,441.7m-3.0,0a3.0,3.0 0 1,0 6.0,0a3.0,3.0 0 1,0 -6.0,0M257.9,443.6m-3.0,0a3.0,3.0 0 1,0 6.0,0a3.0,3.0 0 1,0 -6.0,0M258.5,575.8m-3.0,0a3.0,3.0 0 1,0 6.0,0a3.0,3.0 0 1,0 -6.0,0M256.8,519.2m-3.0,0a3.0,3.0 0 1,0 6.0,0a3.0,3.0 0 1,0 -6.0,0M260.6,459.6m-3.0,0a3.0,3.0 0 1,0 6.0,0a3.0,3.0 0 1,0 -6.0,0M266.3,563.2m-3.0,0a3.0,3.0 0 1,0 6.0,0a3.0,3.0 0 1,0 -6.0,0M254.1,463.4m-3.0,0a3.0,3.0 0 1,0 6.0,0a3.0,3.0 0 1,0 -6.0,0M256.4,607.5m-3.0,0a3.0,3.0 0 1,0 6.0,0a3.0,3.0 0 1,0 -6.0,0M252.9,476.9m-3.0,0a3.0,3.0 0 1,0 6.0,0a3.0,3.0 0 1,0 -6.0,0M265.9,554.0m-3.0,0a3.0,3.0 0 1,0 6.0,0a3.0,3.0 0 1,0 -6.0,0M267.1,507.3m-3.0,0a3.0,3.0 0 1,0 6.0,0a3.0,3.0 0 1,0 -6.0,0M265.1,601.3m-3.0,0a3.0,3.0 0 1,0 6.0,0a3.0,3.0 0 1,0 -6.0,0M254.2,457.2m-3.0,0a3.0,3.0 0 1,0 6.0,0a3.0,3.0 0 1,0 -6.0,0M254.1,513.7m-3.0,0a3.0,3.0 0 1,0 6.0,0a3.0,3.0 0 1,0 -6.0,0M265.9,597.6m-3.0,0a3.0,3.0 0 1,0 6.0,0a3.0,3.0 0 1,0 -6.0,0M254.3,515.8m-3.0,0a3.0,3.0 0 1,0 6.0,0a3.0,3.0 0 1,0 -6.0,0M266.3,548.2m-3.0,0a3.0,3.0 0 1,0 6.0,0a3.0,3.0 0 1,0 -6.0,0M262.0,466.0m-3.0,0a3.0,3.0 0 1,0 6.0,0a3.0,3.0 0 1,0 -6.0,0M261.9,607.7m-3.0,0a3.0,3.0 0 1,0 6.0,0a3.0,3.0 0 1,0 -6.0,0M256.3,546.1m-3.0,0a3.0,3.0 0 1,0 6.0,0a3.0,3.0 0 1,0 -6.0,0M260.6,518.8m-3.0,0a3.0,3.0 0 1,0 6.0,0a3.0,3.0 0 1,0 -6.0,0M252.2,535.9m-3.0,0a3.0,3.0 0 1,0 6.0,0a3.0,3.0 0 1,0 -6.0,0M255.8,483.1m-3.0,0a3.0,3.0 0 1,0 6.0,0a3.0,3.0 0 1,0 -6.0,0M259.3,563.0m-3.0,0a3.0,3.0 0 1,0 6.0,0a3.0,3.0 0 1,0 -6.0,0M266.9,587.9m-3.0,0a3.0,3.0 0 1,0 6.0,0a3.0,3.0 0 1,0 -6.0,0M258.0,539.5m-3.0,0a3.0,3.0 0 1,0 6.0,0a3.0,3.0 0 1,0 -6.0,0M261.6,514.6m-3.0,0a3.0,3.0 0 1,0 6.0,0a3.0,3.0 0 1,0 -6.0,0M255.9,512.5m-3.0,0a3.0,3.0 0 1,0 6.0,0a3.0,3.0 0 1,0 -6.0,0M263.3,499.4m-3.0,0a3.0,3.0 0 1,0 6.0,0a3.0,3.0 0 1,0 -6.0,0M256.1,617.0m-3.0,0a3.0,3.0 0 1,0 6.0,0a3.0,3.0 0 1,0 -6.0,0M265.3,566.6m-3.0,0a3.0,3.0 0 1,0 6.0,0a3.0,3.0 0 1,0 -6.0,0M265.6,534.1m-3.0,0a3.0,3.0 0 1,0 6.0,0a3.0,3.0 0 1,0 -6.0,0M264.2,549.9m-3.0,0a3.0,3.0 0 1,0 6.0,0a3.0,3.0 0 1,0 -6.0,0M257.8,630.3m-3.0,0a3.0,3.0 0 1,0 6.0,0a3.0,3.0 0 1,0 -6.0,0M255.9,481.2m-3.0,0a3.0,3.0 0 1,0 6.0,0a3.0,3.0 0 1,0 -6.0,0M263.3,522.0m-3.0,0a3.0,3.0 0 1,0 6.0,0a3.0,3.0 0 1,0 -6.0,0M258.1,392.7m-3.0,0a3.0,3.0 0 1,0 6.0,0a3.0,3.0 0 1,0 -6.0,0M264.7,503.1m-3.0,0a3.0,3.0 0 1,0 6.0,0a3.0,3.0 0 1,0 -6.0,0M264.6,497.9m-3.0,0a3.0,3.0 0 1,0 6.0,0a3.0,3.0 0 1,0 -6.0,0M265.7,501.0m-3.0,0a3.0,3.0 0 1,0 6.0,0a3.0,3.0 0 1,0 -6.0,0M252.4,604.3m-3.0,0a3.0,3.0 0 1,0 6.0,0a3.0,3.0 0 1,0 -6.0,0M264.6,465.4m-3.0,0a3.0,3.0 0 1,0 6.0,0a3.0,3.0 0 1,0 -6.0,0M261.8,593.8m-3.0,0a3.0,3.0 0 1,0 6.0,0a3.0,3.0 0 1,0 -6.0,0M263.0,620.6m-3.0,0a3.0,3.0 0 1,0 6.0,0a3.0,3.0 0 1,0 -6.0,0M264.4,603.8m-3.0,0a3.0,3.0 0 1,0 6.0,0a3.0,3.0 0 1,0 -6.0,0M254.7,556.2m-3.0,0a3.0,3.0 0 1,0 6.0,0a3.0,3.0 0 1,0 -6.0,0M262.1,422.0m-3.0,0a3.0,3.0 0 1,0 6.0,0a3.0,3.0 0 1,0 -6.0,0M261.3,478.5m-3.0,0a3.0,3.0 0 1,0 6.0,0a3.0,3.0 0 1,0 -6.0,0M265.0,447.6m-3.0,0a3.0,3.0 0 1,0 6.0,0a3.0,3.0 0 1,0 -6.0,0M255.3,537.2m-3.0,0a3.0,3.0 0 1,0 6.0,0a3.0,3.0 0 1,0 -6.0,0M259.3,581.7m-3.0,0a3.0,3.0 0 1,0 6.0,0a3.0,3.0 0 1,0 -6.0,0M255.7,520.5m-3.0,0a3.0,3.0 0 1,0 6.0,0a3.0,3.0 0 1,0 -6.0,0M260.9,576.5m-3.0,0a3.0,3.0 0 1,0 6.0,0a3.0,3.0 0 1,0 -6.0,0M255.5,472.8m-3.0,0a3.0,3.0 0 1,0 6.0,0a3.0,3.0 0 1,0 -6.0,0M265.0,502.6m-3.0,0a3.0,3.0 0 1,0 6.0,0a3.0,3.0 0 1,0 -6.0,0M255.5,526.1m-3.0,0a3.0,3.0 0 1,0 6.0,0a3.0,3.0 0 1,0 -6.0,0M259.6,525.7m-3.0,0a3.0,3.0 0 1,0 6.0,0a3.0,3.0 0 1,0 -6.0,0M256.3,461.7m-3.0,0a3.0,3.0 0 1,0 6.0,0a3.0,3.0 0 1,0 -6.0,0M266.0,563.8m-3.0,0a3.0,3.0 0 1,0 6.0,0a3.0,3.0 0 1,0 -6.0,0M263.9,454.5m-3.0,0a3.0,3.0 0 1,0 6.0,0a3.0,3.0 0 1,0 -6.0,0M263.5,570.6m-3.0,0a3.0,3.0 0 1,0 6.0,0a3.0,3.0 0 1,0 -6.0,0M258.1,588.8m-3.0,0a3.0,3.0 0 1,0 6.0,0a3.0,3.0 0 1,0 -6.0,0M253.2,492.4m-3.0,0a3.0,3.0 0 1,0 6.0,0a3.0,3.0 0 1,0 -6.0,0M264.1,448.0m-3.0,0a3.0,3.0 0 1,0 6.0,0a3.0,3.0 0 1,0 -6.0,0M265.9,535.0m-3.0,0a3.0,3.0 0 1,0 6.0,0a3.0,3.0 0 1,0 -6.0,0M261.4,452.9m-3.0,0a3.0,3.0 0 1,0 6.0,0a3.0,3.0 0 1,0 -6.0,0M254.1,609.6m-3.0,0a3.0,3.0 0 1,0 6.0,0a3.0,3.0 0 1,0 -6.0,0M252.8,555.7m-3.0,0a3.0,3.0 0 1,0 6.0,0a3.0,3.0 0 1,0 -6.0,0M254.9,514.7m-3.0,0a3.0,3.0 0 1,0 6.0,0a3.0,3.0 0 1,0 -6.0,0M263.6,531.4m-3.0,0a3.0,3.0 0 1,0 6.0,0a3.0,3.0 0 1,0 -6.0,0M257.2,509.2m-3.0,0a3.0,3.0 0 1,0 6.0,0a3.0,3.0 0 1,0 -6.0,0M258.3,469.9m-3.0,0a3.0,3.0 0 1,0 6.0,0a3.0,3.0 0 1,0 -6.0,0M260.2,484.4m-3.0,0a3.0,3.0 0 1,0 6.0,0a3.0,3.0 0 1,0 -6.0,0M252.5,513.5m-3.0,0a3.0,3.0 0 1,0 6.0,0a3.0,3.0 0 1,0 -6.0,0M260.1,532.1m-3.0,0a3.0,3.0 0 1,0 6.0,0a3.0,3.0 0 1,0 -6.0,0M258.4,644.0m-3.0,0a3.0,3.0 0 1,0 6.0,0a3.0,3.0 0 1,0 -6.0,0M266.9,572.4m-3.0,0a3.0,3.0 0 1,0 6.0,0a3.0,3.0 0 1,0 -6.0,0M255.6,505.4m-3.0,0a3.0,3.0 0 1,0 6.0,0a3.0,3.0 0 1,0 -6.0,0M262.2,577.3m-3.0,0a3.0,3.0 0 1,0 6.0,0a3.0,3.0 0 1,0 -6.0,0M263.1,565.0m-3.0,0a3.0,3.0 0 1,0 6.0,0a3.0,3.0 0 1,0 -6.0,0M262.8,568.5m-3.0,0a3.0,3.0 0 1,0 6.0,0a3.0,3.0 0 1,0 -6.0,0M267.3,473.7m-3.0,0a3.0,3.0 0 1,0 6.0,0a3.0,3.0 0 1,0 -6.0,0M259.9,560.7m-3.0,0a3.0,3.0 0 1,0 6.0,0a3.0,3.0 0 1,0 -6.0,0M262.5,479.7m-3.0,0a3.0,3.0 0 1,0 6.0,0a3.0,3.0 0 1,0 -6.0,0M261.1,426.8m-3.0,0a3.0,3.0 0 1,0 6.0,0a3.0,3.0 0 1,0 -6.0,0M259.1,545.7m-3.0,0a3.0,3.0 0 1,0 6.0,0a3.0,3.0 0 1,0 -6.0,0M258.2,474.8m-3.0,0a3.0,3.0 0 1,0 6.0,0a3.0,3.0 0 1,0 -6.0,0M266.3,602.2m-3.0,0a3.0,3.0 0 1,0 6.0,0a3.0,3.0 0 1,0 -6.0,0M252.6,508.0m-3.0,0a3.0,3.0 0 1,0 6.0,0a3.0,3.0 0 1,0 -6.0,0M254.5,578.9m-3.0,0a3.0,3.0 0 1,0 6.0,0a3.0,3.0 0 1,0 -6.0,0M259.9,600.7m-3.0,0a3.0,3.0 0 1,0 6.0,0a3.0,3.0 0 1,0 -6.0,0M262.6,598.7m-3.0,0a3.0,3.0 0 1,0 6.0,0a3.0,3.0 0 1,0 -6.0,0M257.3,551.6m-3.0,0a3.0,3.0 0 1,0 6.0,0a3.0,3.0 0 1,0 -6.0,0M258.5,493.7m-3.0,0a3.0,3.0 0 1,0 6.0,0a3.0,3.0 0 1,0 -6.0,0M257.7,505.0m-3.0,0a3.0,3.0 0 1,0 6.0,0a3.0,3.0 0 1,0 -6.0,0M257.8,487.6m-3.0,0a3.0,3.0 0 1,0 6.0,0a3.0,3.0 0 1,0 -6.0,0M264.8,511.6m-3.0,0a3.0,3.0 0 1,0 6.0,0a3.0,3.0 0 1,0 -6.0,0M262.7,430.6m-3.0,0a3.0,3.0 0 1,0 6.0,0a3.0,3.0 0 1,0 -6.0,0M257.6,489.3m-3.0,0a3.0,3.0 0 1,0 6.0,0a3.0,3.0 0 1,0 -6.0,0M252.0,575.3m-3.0,0a3.0,3.0 0 1,0 6.0,0a3.0,3.0 0 1,0 -6.0,0M266.2,499.8m-3.0,0a3.0,3.0 0 1,0 6.0,0a3.0,3.0 0 1,0 -6.0,0M260.3,636.6m-3.0,0a3.0,3.0 0 1,0 6.0,0a3.0,3.0 0 1,0 -6.0,0M256.6,416.7m-3.0,0a3.0,3.0 0 1,0 6.0,0a3.0,3.0 0 1,0 -6.0,0M260.1,486.3m-3.0,0a3.0,3.0 0 1,0 6.0,0a3.0,3.0 0 1,0 -6.0,0M254.5,500.5m-3.0,0a3.0,3.0 0 1,0 6.0,0a3.0,3.0 0 1,0 -6.0,0M260.6,482.7m-3.0,0a3.0,3.0 0 1,0 6.0,0a3.0,3.0 0 1,0 -6.0,0M258.4,528.8m-3.0,0a3.0,3.0 0 1,0 6.0,0a3.0,3.0 0 1,0 -6.0,0M266.0,586.9m-3.0,0a3.0,3.0 0 1,0 6.0,0a3.0,3.0 0 1,0 -6.0,0M254.4,523.3m-3.0,0a3.0,3.0 0 1,0 6.0,0a3.0,3.0 0 1,0 -6.0,0M264.0,573.3m-3.0,0a3.0,3.0 0 1,0 6.0,0a3.0,3.0 0 1,0 -6.0,0M257.2,618.2m-3.0,0a3.0,3.0 0 1,0 6.0,0a3.0,3.0 0 1,0 -6.0,0M264.4,449.8m-3.0,0a3.0,3.0 0 1,0 6.0,0a3.0,3.0 0 1,0 -6.0,0M256.1,545.2m-3.0,0a3.0,3.0 0 1,0 6.0,0a3.0,3.0 0 1,0 -6.0,0M262.6,523.7m-3.0,0a3.0,3.0 0 1,0 6.0,0a3.0,3.0 0 1,0 -6.0,0M262.6,610.4m-3.0,0a3.0,3.0 0 1,0 6.0,0a3.0,3.0 0 1,0 -6.0,0M255.2,526.6m-3.0,0a3.0,3.0 0 1,0 6.0,0a3.0,3.0 0 1,0 -6.0,0M255.5,608.7m-3.0,0a3.0,3.0 0 1,0 6.0,0a3.0,3.0 0 1,0 -6.0,0M260.3,471.5m-3.0,0a3.0,3.0 0 1,0 6.0,0a3.0,3.0 0 1,0 -6.0,0M266.4,495.4m-3.0,0a3.0,3.0 0 1,0 6.0,0a3.0,3.0 0 1,0 -6.0,0M260.0,479.5m-3.0,0a3.0,3.0 0 1,0 6.0,0a3.0,3.0 0 1,0 -6.0,0M254.5,540.2m-3.0,0a3.0,3.0 0 1,0 6.0,0a3.0,3.0 0 1,0 -6.0,0M261.0,522.8m-3.0,0a3.0,3.0 0 1,0 6.0,0a3.0,3.0 0 1,0 -6.0,0M256.8,638.4m-3.0,0a3.0,3.0 0 1,0 6.0,0a3.0,3.0 0 1,0 -6.0,0M252.4,571.3m-3.0,0a3.0,3.0 0 1,0 6.0,0a3.0,3.0 0 1,0 -6.0,0M255.7,542.7m-3.0,0a3.0,3.0 0 1,0 6.0,0a3.0,3.0 0 1,0 -6.0,0M261.4,502.2m-3.0,0a3.0,3.0 0 1,0 6.0,0a3.0,3.0 0 1,0 -6.0,0M262.1,551.3m-3.0,0a3.0,3.0 0 1,0 6.0,0a3.0,3.0 0 1,0 -6.0,0M260.2,496.2m-3.0,0a3.0,3.0 0 1,0 6.0,0a3.0,3.0 0 1,0 -6.0,0M253.9,549.3m-3.0,0a3.0,3.0 0 1,0 6.0,0a3.0,3.0 0 1,0 -6.0,0M255.6,612.0m-3.0,0a3.0,3.0 0 1,0 6.0,0a3.0,3.0 0 1,0 -6.0,0M262.9,458.1m-3.0,0a3.0,3.0 0 1,0 6.0,0a3.0,3.0 0 1,0 -6.0,0M259.6,536.5m-3.0,0a3.0,3.0 0 1,0 6.0,0a3.0,3.0 0 1,0 -6.0,0M265.2,559.8m-3.0,0a3.0,3.0 0 1,0 6.0,0a3.0,3.0 0 1,0 -6.0,0M260.0,473.2m-3.0,0a3.0,3.0 0 1,0 6.0,0a3.0,3.0 0 1,0 -6.0,0M254.0,468.9m-3.0,0a3.0,3.0 0 1,0 6.0,0a3.0,3.0 0 1,0 -6.0,0M255.4,512.5m-3.0,0a3.0,3.0 0 1,0 6.0,0a3.0,3.0 0 1,0 -6.0,0M258.6,576.3m-3.0,0a3.0,3.0 0 1,0 6.0,0a3.0,3.0 0 1,0 -6.0,0M265.3,572.9m-3.0,0a3.0,3.0 0 1,0 6.0,0a3.0,3.0 0 1,0 -6.0,0M257.8,552.8m-3.0,0a3.0,3.0 0 1,0 6.0,0a3.0,3.0 0 1,0 -6.0,0M260.8,532.7m-3.0,0a3.0,3.0 0 1,0 6.0,0a3.0,3.0 0 1,0 -6.0,0M260.3,577.9m-3.0,0a3.0,3.0 0 1,0 6.0,0a3.0,3.0 0 1,0 -6.0,0M267.4,580.9m-3.0,0a3.0,3.0 0 1,0 6.0,0a3.0,3.0 0 1,0 -6.0,0M252.7,493.2m-3.0,0a3.0,3.0 0 1,0 6.0,0a3.0,3.0 0 1,0 -6.0,0M252.7,506.6m-3.0,0a3.0,3.0 0 1,0 6.0,0a3.0,3.0 0 1,0 -6.0,0M252.3,590.5m-3.0,0a3.0,3.0 0 1,0 6.0,0a3.0,3.0 0 1,0 -6.0,0M255.0,451.0m-3.0,0a3.0,3.0 0 1,0 6.0,0a3.0,3.0 0 1,0 -6.0,0M267.0,605.0m-3.0,0a3.0,3.0 0 1,0 6.0,0a3.0,3.0 0 1,0 -6.0,0M264.5,491.8m-3.0,0a3.0,3.0 0 1,0 6.0,0a3.0,3.0 0 1,0 -6.0,0M260.9,510.6m-3.0,0a3.0,3.0 0 1,0 6.0,0a3.0,3.0 0 1,0 -6.0,0M264.3,598.5m-3.0,0a3.0,3.0 0 1,0 6.0,0a3.0,3.0 0 1,0 -6.0,0M255.1,592.7m-3.0,0a3.0,3.0 0 1,0 6.0,0a3.0,3.0 0 1,0 -6.0,0M262.7,476.0m-3.0,0a3.0,3.0 0 1,0 6.0,0a3.0,3.0 0 1,0 -6.0,0M261.4,518.6m-3.0,0a3.0,3.0 0 1,0 6.0,0a3.0,3.0 0 1,0 -6.0,0M258.8,547.9m-3.0,0a3.0,3.0 0 1,0 6.0,0a3.0,3.0 0 1,0 -6.0,0M260.8,464.2m-3.0,0a3.0,3.0 0 1,0 6.0,0a3.0,3.0 0 1,0 -6.0,0M254.3,482.4m-3.0,0a3.0,3.0 0 1,0 6.0,0a3.0,3.0 0 1,0 -6.0,0M266.6,559.1m-3.0,0a3.0,3.0 0 1,0 6.0,0a3.0,3.0 0 1,0 -6.0,0M259.9,561.0m-3.0,0a3.0,3.0 0 1,0 6.0,0a3.0,3.0 0 1,0 -6.0,0M253.8,467.2m-3.0,0a3.0,3.0 0 1,0 6.0,0a3.0,3.0 0 1,0 -6.0,0M261.4,478.6m-3.0,0a3.0,3.0 0 1,0 6.0,0a3.0,3.0 0 1,0 -6.0,0M252.2,525.1m-3.0,0a3.0,3.0 0 1,0 6.0,0a3.0,3.0 0 1,0 -6.0,0M259.3,483.7m-3.0,0a3.0,3.0 0 1,0 6.0,0a3.0,3.0 0 1,0 -6.0,0M252.5,559.3m-3.0,0a3.0,3.0 0 1,0 6.0,0a3.0,3.0 0 1,0 -6.0,0M266.8,586.0m-3.0,0a3.0,3.0 0 1,0 6.0,0a3.0,3.0 0 1,0 -6.0,0M259.5,567.1m-3.0,0a3.0,3.0 0 1,0 6.0,0a3.0,3.0 0 1,0 -6.0,0M259.7,599.2m-3.0,0a3.0,3.0 0 1,0 6.0,0a3.0,3.0 0 1,0 -6.0,0M258.8,527.1m-3.0,0a3.0,3.0 0 1,0 6.0,0a3.0,3.0 0 1,0 -6.0,0M262.7,435.0m-3.0,0a3.0,3.0 0 1,0 6.0,0a3.0,3.0 0 1,0 -6.0,0M262.5,517.6m-3.0,0a3.0,3.0 0 1,0 6.0,0a3.0,3.0 0 1,0 -6.0,0M266.5,589.3m-3.0,0a3.0,3.0 0 1,0 6.0,0a3.0,3.0 0 1,0 -6.0,0M265.7,476.7m-3.0,0a3.0,3.0 0 1,0 6.0,0a3.0,3.0 0 1,0 -6.0,0M252.5,566.3m-3.0,0a3.0,3.0 0 1,0 6.0,0a3.0,3.0 0 1,0 -6.0,0M260.4,651.6m-3.0,0a3.0,3.0 0 1,0 6.0,0a3.0,3.0 0 1,0 -6.0,0M254.7,592.4m-3.0,0a3.0,3.0 0 1,0 6.0,0a3.0,3.0 0 1,0 -6.0,0M258.9,562.0m-3.0,0a3.0,3.0 0 1,0 6.0,0a3.0,3.0 0 1,0 -6.0,0M262.1,580.8m-3.0,0a3.0,3.0 0 1,0 6.0,0a3.0,3.0 0 1,0 -6.0,0M267.1,589.9m-3.0,0a3.0,3.0 0 1,0 6.0,0a3.0,3.0 0 1,0 -6.0,0M257.5,582.4m-3.0,0a3.0,3.0 0 1,0 6.0,0a3.0,3.0 0 1,0 -6.0,0M261.6,444.8m-3.0,0a3.0,3.0 0 1,0 6.0,0a3.0,3.0 0 1,0 -6.0,0M257.3,565.4m-3.0,0a3.0,3.0 0 1,0 6.0,0a3.0,3.0 0 1,0 -6.0,0M263.7,511.2m-3.0,0a3.0,3.0 0 1,0 6.0,0a3.0,3.0 0 1,0 -6.0,0M255.5,595.7m-3.0,0a3.0,3.0 0 1,0 6.0,0a3.0,3.0 0 1,0 -6.0,0M261.9,521.5m-3.0,0a3.0,3.0 0 1,0 6.0,0a3.0,3.0 0 1,0 -6.0,0M253.8,490.5m-3.0,0a3.0,3.0 0 1,0 6.0,0a3.0,3.0 0 1,0 -6.0,0M256.8,475.2m-3.0,0a3.0,3.0 0 1,0 6.0,0a3.0,3.0 0 1,0 -6.0,0M257.4,456.5m-3.0,0a3.0,3.0 0 1,0 6.0,0a3.0,3.0 0 1,0 -6.0,0M266.8,506.3m-3.0,0a3.0,3.0 0 1,0 6.0,0a3.0,3.0 0 1,0 -6.0,0M264.1,487.3m-3.0,0a3.0,3.0 0 1,0 6.0,0a3.0,3.0 0 1,0 -6.0,0M260.7,558.3m-3.0,0a3.0,3.0 0 1,0 6.0,0a3.0,3.0 0 1,0 -6.0,0M255.8,556.6m-3.0,0a3.0,3.0 0 1,0 6.0,0a3.0,3.0 0 1,0 -6.0,0M253.6,516.2m-3.0,0a3.0,3.0 0 1,0 6.0,0a3.0,3.0 0 1,0 -6.0,0"/>
<text x="36.2" y="401.9" text-anchor="start" font-size="16.5" fill="#111" font-weight="bold" textLength="22.0" lengthAdjust="spacingAndGlyphs">(D)</text>
<text transform="translate(46.0,532.2) rotate(-90)" text-anchor="middle" font-size="13" fill="#505050" font-weight="normal" textLength="153.0" lengthAdjust="spacingAndGlyphs" stroke="#505050" stroke-width="0.3">Log10 Protein Residuals</text>
<text x="93.8" y="690.9" text-anchor="start" font-size="12" fill="#555" font-weight="normal" textLength="91.3" lengthAdjust="spacingAndGlyphs">Healthy individuals</text>
<text x="233.1" y="690.9" text-anchor="start" font-size="12" fill="#555" font-weight="normal" textLength="55.2" lengthAdjust="spacingAndGlyphs">COVID-19</text>
<path d="M440.0,400.60H663.0" stroke="#ebebeb" stroke-width="1"/>
<path d="M440.0,462.65H663.0" stroke="#ebebeb" stroke-width="1"/>
<path d="M440.0,586.75H663.0" stroke="#ebebeb" stroke-width="1"/>
<path d="M440.0,648.80H663.0" stroke="#ebebeb" stroke-width="1"/>
<text x="439.7" y="402.4" text-anchor="end" font-size="12" fill="#555" font-weight="normal" textLength="17.3" lengthAdjust="spacingAndGlyphs" stroke="#555" stroke-width="0.25">0.2</text>
<text x="439.7" y="464.4" text-anchor="end" font-size="12" fill="#555" font-weight="normal" textLength="16.3" lengthAdjust="spacingAndGlyphs" stroke="#555" stroke-width="0.25">0.1</text>
<text x="439.7" y="526.5" text-anchor="end" font-size="12" fill="#555" font-weight="normal" textLength="6.8" lengthAdjust="spacingAndGlyphs" stroke="#555" stroke-width="0.25">0</text>
<text x="439.7" y="588.5" text-anchor="end" font-size="12" fill="#555" font-weight="normal" textLength="25.3" lengthAdjust="spacingAndGlyphs" stroke="#555" stroke-width="0.25">−0.1</text>
<text x="439.7" y="650.6" text-anchor="end" font-size="12" fill="#555" font-weight="normal" textLength="25.3" lengthAdjust="spacingAndGlyphs" stroke="#555" stroke-width="0.25">−0.2</text>
<path d="M423.8,524.90H663.0" stroke="#444444" stroke-width="1.8"/>
<rect x="454.20" y="495.00" width="59.20" height="44.40" fill="#005a80" fill-opacity="0.5" stroke="#005f87" stroke-width="2"/>
<path d="M454.20,519.40H513.40M483.80,495.00V429.10M483.80,539.40V606.00" stroke="#005f87" stroke-width="2" fill="none"/>
<path d="M469.00,429.10H498.60" stroke="#005f87" stroke-width="2" fill="none"/>
<path d="M469.00,606.00H498.60" stroke="#005f87" stroke-width="2" fill="none"/>
<rect x="573.40" y="489.20" width="59.20" height="78.00" fill="#f99d00" fill-opacity="0.5" stroke="#f9a202" stroke-width="2"/>
<path d="M573.40,525.80H632.60M603.00,489.20V391.70M603.00,567.20V667.00" stroke="#f9a202" stroke-width="2" fill="none"/>
<path d="M588.20,391.70H617.80" stroke="#f9a202" stroke-width="2" fill="none"/>
<path d="M588.20,667.00H617.80" stroke="#f9a202" stroke-width="2" fill="none"/>
<path fill="#005f87" d="M488.3,561.2m-3.0,0a3.0,3.0 0 1,0 6.0,0a3.0,3.0 0 1,0 -6.0,0M487.7,553.5m-3.0,0a3.0,3.0 0 1,0 6.0,0a3.0,3.0 0 1,0 -6.0,0M482.4,543.8m-3.0,0a3.0,3.0 0 1,0 6.0,0a3.0,3.0 0 1,0 -6.0,0M477.7,517.6m-3.0,0a3.0,3.0 0 1,0 6.0,0a3.0,3.0 0 1,0 -6.0,0M485.2,450.2m-3.0,0a3.0,3.0 0 1,0 6.0,0a3.0,3.0 0 1,0 -6.0,0M477.6,517.0m-3.0,0a3.0,3.0 0 1,0 6.0,0a3.0,3.0 0 1,0 -6.0,0M488.6,558.4m-3.0,0a3.0,3.0 0 1,0 6.0,0a3.0,3.0 0 1,0 -6.0,0M488.6,518.8m-3.0,0a3.0,3.0 0 1,0 6.0,0a3.0,3.0 0 1,0 -6.0,0M477.6,524.0m-3.0,0a3.0,3.0 0 1,0 6.0,0a3.0,3.0 0 1,0 -6.0,0M482.4,496.3m-3.0,0a3.0,3.0 0 1,0 6.0,0a3.0,3.0 0 1,0 -6.0,0M483.8,455.4m-3.0,0a3.0,3.0 0 1,0 6.0,0a3.0,3.0 0 1,0 -6.0,0M488.9,532.0m-3.0,0a3.0,3.0 0 1,0 6.0,0a3.0,3.0 0 1,0 -6.0,0M482.4,496.9m-3.0,0a3.0,3.0 0 1,0 6.0,0a3.0,3.0 0 1,0 -6.0,0M485.6,464.7m-3.0,0a3.0,3.0 0 1,0 6.0,0a3.0,3.0 0 1,0 -6.0,0M481.7,540.8m-3.0,0a3.0,3.0 0 1,0 6.0,0a3.0,3.0 0 1,0 -6.0,0M489.7,507.0m-3.0,0a3.0,3.0 0 1,0 6.0,0a3.0,3.0 0 1,0 -6.0,0M483.5,478.8m-3.0,0a3.0,3.0 0 1,0 6.0,0a3.0,3.0 0 1,0 -6.0,0M481.0,496.8m-3.0,0a3.0,3.0 0 1,0 6.0,0a3.0,3.0 0 1,0 -6.0,0M483.6,491.9m-3.0,0a3.0,3.0 0 1,0 6.0,0a3.0,3.0 0 1,0 -6.0,0M484.6,562.4m-3.0,0a3.0,3.0 0 1,0 6.0,0a3.0,3.0 0 1,0 -6.0,0M486.6,547.5m-3.0,0a3.0,3.0 0 1,0 6.0,0a3.0,3.0 0 1,0 -6.0,0M478.9,504.3m-3.0,0a3.0,3.0 0 1,0 6.0,0a3.0,3.0 0 1,0 -6.0,0M476.6,508.6m-3.0,0a3.0,3.0 0 1,0 6.0,0a3.0,3.0 0 1,0 -6.0,0M479.6,550.6m-3.0,0a3.0,3.0 0 1,0 6.0,0a3.0,3.0 0 1,0 -6.0,0M483.2,507.9m-3.0,0a3.0,3.0 0 1,0 6.0,0a3.0,3.0 0 1,0 -6.0,0M486.7,538.3m-3.0,0a3.0,3.0 0 1,0 6.0,0a3.0,3.0 0 1,0 -6.0,0M477.9,512.4m-3.0,0a3.0,3.0 0 1,0 6.0,0a3.0,3.0 0 1,0 -6.0,0M480.5,510.3m-3.0,0a3.0,3.0 0 1,0 6.0,0a3.0,3.0 0 1,0 -6.0,0M477.2,529.7m-3.0,0a3.0,3.0 0 1,0 6.0,0a3.0,3.0 0 1,0 -6.0,0M480.0,529.2m-3.0,0a3.0,3.0 0 1,0 6.0,0a3.0,3.0 0 1,0 -6.0,0M483.7,589.2m-3.0,0a3.0,3.0 0 1,0 6.0,0a3.0,3.0 0 1,0 -6.0,0M483.3,566.2m-3.0,0a3.0,3.0 0 1,0 6.0,0a3.0,3.0 0 1,0 -6.0,0M480.4,506.5m-3.0,0a3.0,3.0 0 1,0 6.0,0a3.0,3.0 0 1,0 -6.0,0M481.4,537.3m-3.0,0a3.0,3.0 0 1,0 6.0,0a3.0,3.0 0 1,0 -6.0,0M490.1,518.7m-3.0,0a3.0,3.0 0 1,0 6.0,0a3.0,3.0 0 1,0 -6.0,0M481.8,511.9m-3.0,0a3.0,3.0 0 1,0 6.0,0a3.0,3.0 0 1,0 -6.0,0M487.8,487.6m-3.0,0a3.0,3.0 0 1,0 6.0,0a3.0,3.0 0 1,0 -6.0,0M479.6,493.4m-3.0,0a3.0,3.0 0 1,0 6.0,0a3.0,3.0 0 1,0 -6.0,0M487.5,570.4m-3.0,0a3.0,3.0 0 1,0 6.0,0a3.0,3.0 0 1,0 -6.0,0M483.5,522.8m-3.0,0a3.0,3.0 0 1,0 6.0,0a3.0,3.0 0 1,0 -6.0,0M477.5,539.8m-3.0,0a3.0,3.0 0 1,0 6.0,0a3.0,3.0 0 1,0 -6.0,0M480.8,548.9m-3.0,0a3.0,3.0 0 1,0 6.0,0a3.0,3.0 0 1,0 -6.0,0M478.9,515.4m-3.0,0a3.0,3.0 0 1,0 6.0,0a3.0,3.0 0 1,0 -6.0,0M482.5,535.6m-3.0,0a3.0,3.0 0 1,0 6.0,0a3.0,3.0 0 1,0 -6.0,0M488.1,495.4m-3.0,0a3.0,3.0 0 1,0 6.0,0a3.0,3.0 0 1,0 -6.0,0M480.7,549.7m-3.0,0a3.0,3.0 0 1,0 6.0,0a3.0,3.0 0 1,0 -6.0,0M484.7,499.9m-3.0,0a3.0,3.0 0 1,0 6.0,0a3.0,3.0 0 1,0 -6.0,0M478.7,533.3m-3.0,0a3.0,3.0 0 1,0 6.0,0a3.0,3.0 0 1,0 -6.0,0M490.6,545.3m-3.0,0a3.0,3.0 0 1,0 6.0,0a3.0,3.0 0 1,0 -6.0,0M481.5,511.1m-3.0,0a3.0,3.0 0 1,0 6.0,0a3.0,3.0 0 1,0 -6.0,0M478.2,548.6m-3.0,0a3.0,3.0 0 1,0 6.0,0a3.0,3.0 0 1,0 -6.0,0M483.5,502.3m-3.0,0a3.0,3.0 0 1,0 6.0,0a3.0,3.0 0 1,0 -6.0,0M482.1,576.4m-3.0,0a3.0,3.0 0 1,0 6.0,0a3.0,3.0 0 1,0 -6.0,0M484.7,551.1m-3.0,0a3.0,3.0 0 1,0 6.0,0a3.0,3.0 0 1,0 -6.0,0M483.6,435.4m-3.0,0a3.0,3.0 0 1,0 6.0,0a3.0,3.0 0 1,0 -6.0,0M477.9,536.9m-3.0,0a3.0,3.0 0 1,0 6.0,0a3.0,3.0 0 1,0 -6.0,0M486.3,560.2m-3.0,0a3.0,3.0 0 1,0 6.0,0a3.0,3.0 0 1,0 -6.0,0M486.6,606.2m-3.0,0a3.0,3.0 0 1,0 6.0,0a3.0,3.0 0 1,0 -6.0,0M490.3,533.5m-3.0,0a3.0,3.0 0 1,0 6.0,0a3.0,3.0 0 1,0 -6.0,0M487.2,563.0m-3.0,0a3.0,3.0 0 1,0 6.0,0a3.0,3.0 0 1,0 -6.0,0M478.4,528.3m-3.0,0a3.0,3.0 0 1,0 6.0,0a3.0,3.0 0 1,0 -6.0,0M484.1,534.7m-3.0,0a3.0,3.0 0 1,0 6.0,0a3.0,3.0 0 1,0 -6.0,0M485.8,556.2m-3.0,0a3.0,3.0 0 1,0 6.0,0a3.0,3.0 0 1,0 -6.0,0M478.1,498.1m-3.0,0a3.0,3.0 0 1,0 6.0,0a3.0,3.0 0 1,0 -6.0,0M478.8,527.3m-3.0,0a3.0,3.0 0 1,0 6.0,0a3.0,3.0 0 1,0 -6.0,0M488.5,505.6m-3.0,0a3.0,3.0 0 1,0 6.0,0a3.0,3.0 0 1,0 -6.0,0M488.7,546.6m-3.0,0a3.0,3.0 0 1,0 6.0,0a3.0,3.0 0 1,0 -6.0,0M480.0,490.3m-3.0,0a3.0,3.0 0 1,0 6.0,0a3.0,3.0 0 1,0 -6.0,0M476.4,539.2m-3.0,0a3.0,3.0 0 1,0 6.0,0a3.0,3.0 0 1,0 -6.0,0M490.0,504.9m-3.0,0a3.0,3.0 0 1,0 6.0,0a3.0,3.0 0 1,0 -6.0,0M485.4,546.0m-3.0,0a3.0,3.0 0 1,0 6.0,0a3.0,3.0 0 1,0 -6.0,0M483.4,498.3m-3.0,0a3.0,3.0 0 1,0 6.0,0a3.0,3.0 0 1,0 -6.0,0M482.7,501.6m-3.0,0a3.0,3.0 0 1,0 6.0,0a3.0,3.0 0 1,0 -6.0,0M489.6,543.4m-3.0,0a3.0,3.0 0 1,0 6.0,0a3.0,3.0 0 1,0 -6.0,0M490.9,558.0m-3.0,0a3.0,3.0 0 1,0 6.0,0a3.0,3.0 0 1,0 -6.0,0M480.5,538.3m-3.0,0a3.0,3.0 0 1,0 6.0,0a3.0,3.0 0 1,0 -6.0,0M478.9,527.1m-3.0,0a3.0,3.0 0 1,0 6.0,0a3.0,3.0 0 1,0 -6.0,0M484.5,557.5m-3.0,0a3.0,3.0 0 1,0 6.0,0a3.0,3.0 0 1,0 -6.0,0M486.7,567.8m-3.0,0a3.0,3.0 0 1,0 6.0,0a3.0,3.0 0 1,0 -6.0,0M488.0,521.5m-3.0,0a3.0,3.0 0 1,0 6.0,0a3.0,3.0 0 1,0 -6.0,0M480.3,534.0m-3.0,0a3.0,3.0 0 1,0 6.0,0a3.0,3.0 0 1,0 -6.0,0M490.8,549.8m-3.0,0a3.0,3.0 0 1,0 6.0,0a3.0,3.0 0 1,0 -6.0,0M486.0,499.8m-3.0,0a3.0,3.0 0 1,0 6.0,0a3.0,3.0 0 1,0 -6.0,0M488.6,564.1m-3.0,0a3.0,3.0 0 1,0 6.0,0a3.0,3.0 0 1,0 -6.0,0M478.8,513.8m-3.0,0a3.0,3.0 0 1,0 6.0,0a3.0,3.0 0 1,0 -6.0,0M486.7,515.3m-3.0,0a3.0,3.0 0 1,0 6.0,0a3.0,3.0 0 1,0 -6.0,0M489.1,510.3m-3.0,0a3.0,3.0 0 1,0 6.0,0a3.0,3.0 0 1,0 -6.0,0M485.0,582.0m-3.0,0a3.0,3.0 0 1,0 6.0,0a3.0,3.0 0 1,0 -6.0,0M477.6,500.6m-3.0,0a3.0,3.0 0 1,0 6.0,0a3.0,3.0 0 1,0 -6.0,0M482.4,546.8m-3.0,0a3.0,3.0 0 1,0 6.0,0a3.0,3.0 0 1,0 -6.0,0M478.8,509.6m-3.0,0a3.0,3.0 0 1,0 6.0,0a3.0,3.0 0 1,0 -6.0,0M484.3,516.3m-3.0,0a3.0,3.0 0 1,0 6.0,0a3.0,3.0 0 1,0 -6.0,0M480.9,573.4m-3.0,0a3.0,3.0 0 1,0 6.0,0a3.0,3.0 0 1,0 -6.0,0M481.1,492.3m-3.0,0a3.0,3.0 0 1,0 6.0,0a3.0,3.0 0 1,0 -6.0,0M484.6,544.5m-3.0,0a3.0,3.0 0 1,0 6.0,0a3.0,3.0 0 1,0 -6.0,0M491.1,522.6m-3.0,0a3.0,3.0 0 1,0 6.0,0a3.0,3.0 0 1,0 -6.0,0M481.5,474.8m-3.0,0a3.0,3.0 0 1,0 6.0,0a3.0,3.0 0 1,0 -6.0,0M490.3,559.5m-3.0,0a3.0,3.0 0 1,0 6.0,0a3.0,3.0 0 1,0 -6.0,0M484.1,540.3m-3.0,0a3.0,3.0 0 1,0 6.0,0a3.0,3.0 0 1,0 -6.0,0M480.2,524.5m-3.0,0a3.0,3.0 0 1,0 6.0,0a3.0,3.0 0 1,0 -6.0,0M478.1,530.6m-3.0,0a3.0,3.0 0 1,0 6.0,0a3.0,3.0 0 1,0 -6.0,0M482.8,603.4m-3.0,0a3.0,3.0 0 1,0 6.0,0a3.0,3.0 0 1,0 -6.0,0M484.0,482.0m-3.0,0a3.0,3.0 0 1,0 6.0,0a3.0,3.0 0 1,0 -6.0,0M484.6,532.4m-3.0,0a3.0,3.0 0 1,0 6.0,0a3.0,3.0 0 1,0 -6.0,0M489.9,552.3m-3.0,0a3.0,3.0 0 1,0 6.0,0a3.0,3.0 0 1,0 -6.0,0M486.9,558.8m-3.0,0a3.0,3.0 0 1,0 6.0,0a3.0,3.0 0 1,0 -6.0,0M479.1,542.6m-3.0,0a3.0,3.0 0 1,0 6.0,0a3.0,3.0 0 1,0 -6.0,0M479.9,569.1m-3.0,0a3.0,3.0 0 1,0 6.0,0a3.0,3.0 0 1,0 -6.0,0M485.5,444.5m-3.0,0a3.0,3.0 0 1,0 6.0,0a3.0,3.0 0 1,0 -6.0,0M479.5,523.7m-3.0,0a3.0,3.0 0 1,0 6.0,0a3.0,3.0 0 1,0 -6.0,0M487.3,516.1m-3.0,0a3.0,3.0 0 1,0 6.0,0a3.0,3.0 0 1,0 -6.0,0M489.3,554.8m-3.0,0a3.0,3.0 0 1,0 6.0,0a3.0,3.0 0 1,0 -6.0,0M483.8,480.7m-3.0,0a3.0,3.0 0 1,0 6.0,0a3.0,3.0 0 1,0 -6.0,0M491.2,556.8m-3.0,0a3.0,3.0 0 1,0 6.0,0a3.0,3.0 0 1,0 -6.0,0M477.6,522.3m-3.0,0a3.0,3.0 0 1,0 6.0,0a3.0,3.0 0 1,0 -6.0,0M484.4,552.0m-3.0,0a3.0,3.0 0 1,0 6.0,0a3.0,3.0 0 1,0 -6.0,0M487.9,566.0m-3.0,0a3.0,3.0 0 1,0 6.0,0a3.0,3.0 0 1,0 -6.0,0M486.8,518.1m-3.0,0a3.0,3.0 0 1,0 6.0,0a3.0,3.0 0 1,0 -6.0,0M486.1,488.1m-3.0,0a3.0,3.0 0 1,0 6.0,0a3.0,3.0 0 1,0 -6.0,0M481.7,544.8m-3.0,0a3.0,3.0 0 1,0 6.0,0a3.0,3.0 0 1,0 -6.0,0M486.3,454.8m-3.0,0a3.0,3.0 0 1,0 6.0,0a3.0,3.0 0 1,0 -6.0,0M478.3,553.8m-3.0,0a3.0,3.0 0 1,0 6.0,0a3.0,3.0 0 1,0 -6.0,0M486.1,489.2m-3.0,0a3.0,3.0 0 1,0 6.0,0a3.0,3.0 0 1,0 -6.0,0M479.6,535.9m-3.0,0a3.0,3.0 0 1,0 6.0,0a3.0,3.0 0 1,0 -6.0,0M483.1,575.5m-3.0,0a3.0,3.0 0 1,0 6.0,0a3.0,3.0 0 1,0 -6.0,0M484.1,508.9m-3.0,0a3.0,3.0 0 1,0 6.0,0a3.0,3.0 0 1,0 -6.0,0M478.4,513.9m-3.0,0a3.0,3.0 0 1,0 6.0,0a3.0,3.0 0 1,0 -6.0,0M479.4,543.2m-3.0,0a3.0,3.0 0 1,0 6.0,0a3.0,3.0 0 1,0 -6.0,0M485.9,580.1m-3.0,0a3.0,3.0 0 1,0 6.0,0a3.0,3.0 0 1,0 -6.0,0M482.7,438.2m-3.0,0a3.0,3.0 0 1,0 6.0,0a3.0,3.0 0 1,0 -6.0,0M491.0,494.5m-3.0,0a3.0,3.0 0 1,0 6.0,0a3.0,3.0 0 1,0 -6.0,0M488.6,485.8m-3.0,0a3.0,3.0 0 1,0 6.0,0a3.0,3.0 0 1,0 -6.0,0M482.7,431.8m-3.0,0a3.0,3.0 0 1,0 6.0,0a3.0,3.0 0 1,0 -6.0,0M485.3,519.5m-3.0,0a3.0,3.0 0 1,0 6.0,0a3.0,3.0 0 1,0 -6.0,0M489.5,551.7m-3.0,0a3.0,3.0 0 1,0 6.0,0a3.0,3.0 0 1,0 -6.0,0M481.8,502.4m-3.0,0a3.0,3.0 0 1,0 6.0,0a3.0,3.0 0 1,0 -6.0,0M480.9,492.7m-3.0,0a3.0,3.0 0 1,0 6.0,0a3.0,3.0 0 1,0 -6.0,0M482.2,405.5m-3.0,0a3.0,3.0 0 1,0 6.0,0a3.0,3.0 0 1,0 -6.0,0M483.1,560.5m-3.0,0a3.0,3.0 0 1,0 6.0,0a3.0,3.0 0 1,0 -6.0,0M484.3,563.4m-3.0,0a3.0,3.0 0 1,0 6.0,0a3.0,3.0 0 1,0 -6.0,0M486.7,561.3m-3.0,0a3.0,3.0 0 1,0 6.0,0a3.0,3.0 0 1,0 -6.0,0M484.1,445.0m-3.0,0a3.0,3.0 0 1,0 6.0,0a3.0,3.0 0 1,0 -6.0,0M486.0,594.2m-3.0,0a3.0,3.0 0 1,0 6.0,0a3.0,3.0 0 1,0 -6.0,0M487.1,540.1m-3.0,0a3.0,3.0 0 1,0 6.0,0a3.0,3.0 0 1,0 -6.0,0M480.4,525.5m-3.0,0a3.0,3.0 0 1,0 6.0,0a3.0,3.0 0 1,0 -6.0,0M482.9,472.6m-3.0,0a3.0,3.0 0 1,0 6.0,0a3.0,3.0 0 1,0 -6.0,0M476.5,530.0m-3.0,0a3.0,3.0 0 1,0 6.0,0a3.0,3.0 0 1,0 -6.0,0M483.4,584.7m-3.0,0a3.0,3.0 0 1,0 6.0,0a3.0,3.0 0 1,0 -6.0,0M481.8,502.8m-3.0,0a3.0,3.0 0 1,0 6.0,0a3.0,3.0 0 1,0 -6.0,0M481.6,463.4m-3.0,0a3.0,3.0 0 1,0 6.0,0a3.0,3.0 0 1,0 -6.0,0M477.2,521.0m-3.0,0a3.0,3.0 0 1,0 6.0,0a3.0,3.0 0 1,0 -6.0,0M482.3,513.3m-3.0,0a3.0,3.0 0 1,0 6.0,0a3.0,3.0 0 1,0 -6.0,0M479.5,528.2m-3.0,0a3.0,3.0 0 1,0 6.0,0a3.0,3.0 0 1,0 -6.0,0M490.9,504.1m-3.0,0a3.0,3.0 0 1,0 6.0,0a3.0,3.0 0 1,0 -6.0,0M485.9,597.0m-3.0,0a3.0,3.0 0 1,0 6.0,0a3.0,3.0 0 1,0 -6.0,0M482.5,486.5m-3.0,0a3.0,3.0 0 1,0 6.0,0a3.0,3.0 0 1,0 -6.0,0M482.2,530.9m-3.0,0a3.0,3.0 0 1,0 6.0,0a3.0,3.0 0 1,0 -6.0,0M488.6,506.3m-3.0,0a3.0,3.0 0 1,0 6.0,0a3.0,3.0 0 1,0 -6.0,0M489.9,503.4m-3.0,0a3.0,3.0 0 1,0 6.0,0a3.0,3.0 0 1,0 -6.0,0M486.4,514.7m-3.0,0a3.0,3.0 0 1,0 6.0,0a3.0,3.0 0 1,0 -6.0,0M489.9,489.5m-3.0,0a3.0,3.0 0 1,0 6.0,0a3.0,3.0 0 1,0 -6.0,0M487.5,526.3m-3.0,0a3.0,3.0 0 1,0 6.0,0a3.0,3.0 0 1,0 -6.0,0M485.4,477.9m-3.0,0a3.0,3.0 0 1,0 6.0,0a3.0,3.0 0 1,0 -6.0,0M487.0,552.8m-3.0,0a3.0,3.0 0 1,0 6.0,0a3.0,3.0 0 1,0 -6.0,0M486.1,542.0m-3.0,0a3.0,3.0 0 1,0 6.0,0a3.0,3.0 0 1,0 -6.0,0M489.9,493.9m-3.0,0a3.0,3.0 0 1,0 6.0,0a3.0,3.0 0 1,0 -6.0,0M481.4,491.3m-3.0,0a3.0,3.0 0 1,0 6.0,0a3.0,3.0 0 1,0 -6.0,0M480.9,468.8m-3.0,0a3.0,3.0 0 1,0 6.0,0a3.0,3.0 0 1,0 -6.0,0M485.0,507.6m-3.0,0a3.0,3.0 0 1,0 6.0,0a3.0,3.0 0 1,0 -6.0,0M481.2,587.9m-3.0,0a3.0,3.0 0 1,0 6.0,0a3.0,3.0 0 1,0 -6.0,0M476.3,497.5m-3.0,0a3.0,3.0 0 1,0 6.0,0a3.0,3.0 0 1,0 -6.0,0M490.3,531.6m-3.0,0a3.0,3.0 0 1,0 6.0,0a3.0,3.0 0 1,0 -6.0,0M484.7,535.0m-3.0,0a3.0,3.0 0 1,0 6.0,0a3.0,3.0 0 1,0 -6.0,0M482.5,499.0m-3.0,0a3.0,3.0 0 1,0 6.0,0a3.0,3.0 0 1,0 -6.0,0M477.3,525.9m-3.0,0a3.0,3.0 0 1,0 6.0,0a3.0,3.0 0 1,0 -6.0,0M483.6,460.1m-3.0,0a3.0,3.0 0 1,0 6.0,0a3.0,3.0 0 1,0 -6.0,0M487.8,555.8m-3.0,0a3.0,3.0 0 1,0 6.0,0a3.0,3.0 0 1,0 -6.0,0M477.5,548.1m-3.0,0a3.0,3.0 0 1,0 6.0,0a3.0,3.0 0 1,0 -6.0,0M477.2,520.2m-3.0,0a3.0,3.0 0 1,0 6.0,0a3.0,3.0 0 1,0 -6.0,0M486.9,484.0m-3.0,0a3.0,3.0 0 1,0 6.0,0a3.0,3.0 0 1,0 -6.0,0M480.8,554.5m-3.0,0a3.0,3.0 0 1,0 6.0,0a3.0,3.0 0 1,0 -6.0,0M482.7,609.0m-3.0,0a3.0,3.0 0 1,0 6.0,0a3.0,3.0 0 1,0 -6.0,0M489.1,541.4m-3.0,0a3.0,3.0 0 1,0 6.0,0a3.0,3.0 0 1,0 -6.0,0M487.5,520.6m-3.0,0a3.0,3.0 0 1,0 6.0,0a3.0,3.0 0 1,0 -6.0,0M483.5,428.8m-3.0,0a3.0,3.0 0 1,0 6.0,0a3.0,3.0 0 1,0 -6.0,0M484.1,564.9m-3.0,0a3.0,3.0 0 1,0 6.0,0a3.0,3.0 0 1,0 -6.0,0M489.1,500.9m-3.0,0a3.0,3.0 0 1,0 6.0,0a3.0,3.0 0 1,0 -6.0,0M489.4,495.2m-3.0,0a3.0,3.0 0 1,0 6.0,0a3.0,3.0 0 1,0 -6.0,0M488.6,511.6m-3.0,0a3.0,3.0 0 1,0 6.0,0a3.0,3.0 0 1,0 -6.0,0M487.0,524.9m-3.0,0a3.0,3.0 0 1,0 6.0,0a3.0,3.0 0 1,0 -6.0,0M482.1,555.6m-3.0,0a3.0,3.0 0 1,0 6.0,0a3.0,3.0 0 1,0 -6.0,0M489.7,536.7m-3.0,0a3.0,3.0 0 1,0 6.0,0a3.0,3.0 0 1,0 -6.0,0"/>
<path fill="#f9a202" d="M608.0,540.4m-3.0,0a3.0,3.0 0 1,0 6.0,0a3.0,3.0 0 1,0 -6.0,0M598.5,518.1m-3.0,0a3.0,3.0 0 1,0 6.0,0a3.0,3.0 0 1,0 -6.0,0M596.2,456.9m-3.0,0a3.0,3.0 0 1,0 6.0,0a3.0,3.0 0 1,0 -6.0,0M599.1,559.0m-3.0,0a3.0,3.0 0 1,0 6.0,0a3.0,3.0 0 1,0 -6.0,0M601.2,480.2m-3.0,0a3.0,3.0 0 1,0 6.0,0a3.0,3.0 0 1,0 -6.0,0M597.5,600.0m-3.0,0a3.0,3.0 0 1,0 6.0,0a3.0,3.0 0 1,0 -6.0,0M597.9,542.0m-3.0,0a3.0,3.0 0 1,0 6.0,0a3.0,3.0 0 1,0 -6.0,0M606.2,453.3m-3.0,0a3.0,3.0 0 1,0 6.0,0a3.0,3.0 0 1,0 -6.0,0M602.7,498.5m-3.0,0a3.0,3.0 0 1,0 6.0,0a3.0,3.0 0 1,0 -6.0,0M598.8,442.6m-3.0,0a3.0,3.0 0 1,0 6.0,0a3.0,3.0 0 1,0 -6.0,0M610.6,479.1m-3.0,0a3.0,3.0 0 1,0 6.0,0a3.0,3.0 0 1,0 -6.0,0M609.1,466.6m-3.0,0a3.0,3.0 0 1,0 6.0,0a3.0,3.0 0 1,0 -6.0,0M599.7,570.6m-3.0,0a3.0,3.0 0 1,0 6.0,0a3.0,3.0 0 1,0 -6.0,0M603.4,592.9m-3.0,0a3.0,3.0 0 1,0 6.0,0a3.0,3.0 0 1,0 -6.0,0M597.5,608.5m-3.0,0a3.0,3.0 0 1,0 6.0,0a3.0,3.0 0 1,0 -6.0,0M599.2,557.5m-3.0,0a3.0,3.0 0 1,0 6.0,0a3.0,3.0 0 1,0 -6.0,0M602.1,429.8m-3.0,0a3.0,3.0 0 1,0 6.0,0a3.0,3.0 0 1,0 -6.0,0M606.9,565.8m-3.0,0a3.0,3.0 0 1,0 6.0,0a3.0,3.0 0 1,0 -6.0,0M596.0,445.9m-3.0,0a3.0,3.0 0 1,0 6.0,0a3.0,3.0 0 1,0 -6.0,0M607.8,498.3m-3.0,0a3.0,3.0 0 1,0 6.0,0a3.0,3.0 0 1,0 -6.0,0M610.2,531.4m-3.0,0a3.0,3.0 0 1,0 6.0,0a3.0,3.0 0 1,0 -6.0,0M598.7,436.5m-3.0,0a3.0,3.0 0 1,0 6.0,0a3.0,3.0 0 1,0 -6.0,0M602.1,432.2m-3.0,0a3.0,3.0 0 1,0 6.0,0a3.0,3.0 0 1,0 -6.0,0M604.5,582.6m-3.0,0a3.0,3.0 0 1,0 6.0,0a3.0,3.0 0 1,0 -6.0,0M597.1,549.0m-3.0,0a3.0,3.0 0 1,0 6.0,0a3.0,3.0 0 1,0 -6.0,0M603.7,407.8m-3.0,0a3.0,3.0 0 1,0 6.0,0a3.0,3.0 0 1,0 -6.0,0M606.8,551.3m-3.0,0a3.0,3.0 0 1,0 6.0,0a3.0,3.0 0 1,0 -6.0,0M605.0,558.0m-3.0,0a3.0,3.0 0 1,0 6.0,0a3.0,3.0 0 1,0 -6.0,0M610.3,587.4m-3.0,0a3.0,3.0 0 1,0 6.0,0a3.0,3.0 0 1,0 -6.0,0M601.6,533.1m-3.0,0a3.0,3.0 0 1,0 6.0,0a3.0,3.0 0 1,0 -6.0,0M596.7,511.8m-3.0,0a3.0,3.0 0 1,0 6.0,0a3.0,3.0 0 1,0 -6.0,0M602.9,412.8m-3.0,0a3.0,3.0 0 1,0 6.0,0a3.0,3.0 0 1,0 -6.0,0M606.9,464.9m-3.0,0a3.0,3.0 0 1,0 6.0,0a3.0,3.0 0 1,0 -6.0,0M607.3,560.4m-3.0,0a3.0,3.0 0 1,0 6.0,0a3.0,3.0 0 1,0 -6.0,0M605.3,588.7m-3.0,0a3.0,3.0 0 1,0 6.0,0a3.0,3.0 0 1,0 -6.0,0M606.8,562.5m-3.0,0a3.0,3.0 0 1,0 6.0,0a3.0,3.0 0 1,0 -6.0,0M601.0,497.7m-3.0,0a3.0,3.0 0 1,0 6.0,0a3.0,3.0 0 1,0 -6.0,0M605.3,645.1m-3.0,0a3.0,3.0 0 1,0 6.0,0a3.0,3.0 0 1,0 -6.0,0M605.9,524.4m-3.0,0a3.0,3.0 0 1,0 6.0,0a3.0,3.0 0 1,0 -6.0,0M597.0,481.0m-3.0,0a3.0,3.0 0 1,0 6.0,0a3.0,3.0 0 1,0 -6.0,0M602.4,537.9m-3.0,0a3.0,3.0 0 1,0 6.0,0a3.0,3.0 0 1,0 -6.0,0M601.6,458.7m-3.0,0a3.0,3.0 0 1,0 6.0,0a3.0,3.0 0 1,0 -6.0,0M600.0,544.1m-3.0,0a3.0,3.0 0 1,0 6.0,0a3.0,3.0 0 1,0 -6.0,0M604.4,473.5m-3.0,0a3.0,3.0 0 1,0 6.0,0a3.0,3.0 0 1,0 -6.0,0M598.2,616.2m-3.0,0a3.0,3.0 0 1,0 6.0,0a3.0,3.0 0 1,0 -6.0,0M605.1,608.4m-3.0,0a3.0,3.0 0 1,0 6.0,0a3.0,3.0 0 1,0 -6.0,0M596.3,489.1m-3.0,0a3.0,3.0 0 1,0 6.0,0a3.0,3.0 0 1,0 -6.0,0M602.9,490.3m-3.0,0a3.0,3.0 0 1,0 6.0,0a3.0,3.0 0 1,0 -6.0,0M604.1,543.3m-3.0,0a3.0,3.0 0 1,0 6.0,0a3.0,3.0 0 1,0 -6.0,0M605.3,545.3m-3.0,0a3.0,3.0 0 1,0 6.0,0a3.0,3.0 0 1,0 -6.0,0M602.7,405.6m-3.0,0a3.0,3.0 0 1,0 6.0,0a3.0,3.0 0 1,0 -6.0,0M602.8,512.2m-3.0,0a3.0,3.0 0 1,0 6.0,0a3.0,3.0 0 1,0 -6.0,0M603.3,624.3m-3.0,0a3.0,3.0 0 1,0 6.0,0a3.0,3.0 0 1,0 -6.0,0M598.4,454.9m-3.0,0a3.0,3.0 0 1,0 6.0,0a3.0,3.0 0 1,0 -6.0,0M595.5,535.9m-3.0,0a3.0,3.0 0 1,0 6.0,0a3.0,3.0 0 1,0 -6.0,0M608.6,503.0m-3.0,0a3.0,3.0 0 1,0 6.0,0a3.0,3.0 0 1,0 -6.0,0M595.8,519.1m-3.0,0a3.0,3.0 0 1,0 6.0,0a3.0,3.0 0 1,0 -6.0,0M599.9,462.1m-3.0,0a3.0,3.0 0 1,0 6.0,0a3.0,3.0 0 1,0 -6.0,0M605.2,474.9m-3.0,0a3.0,3.0 0 1,0 6.0,0a3.0,3.0 0 1,0 -6.0,0M601.6,463.7m-3.0,0a3.0,3.0 0 1,0 6.0,0a3.0,3.0 0 1,0 -6.0,0M600.2,555.7m-3.0,0a3.0,3.0 0 1,0 6.0,0a3.0,3.0 0 1,0 -6.0,0M608.6,515.0m-3.0,0a3.0,3.0 0 1,0 6.0,0a3.0,3.0 0 1,0 -6.0,0M603.5,612.2m-3.0,0a3.0,3.0 0 1,0 6.0,0a3.0,3.0 0 1,0 -6.0,0M606.0,471.0m-3.0,0a3.0,3.0 0 1,0 6.0,0a3.0,3.0 0 1,0 -6.0,0M597.7,529.2m-3.0,0a3.0,3.0 0 1,0 6.0,0a3.0,3.0 0 1,0 -6.0,0M601.3,580.1m-3.0,0a3.0,3.0 0 1,0 6.0,0a3.0,3.0 0 1,0 -6.0,0M603.4,493.1m-3.0,0a3.0,3.0 0 1,0 6.0,0a3.0,3.0 0 1,0 -6.0,0M605.1,554.4m-3.0,0a3.0,3.0 0 1,0 6.0,0a3.0,3.0 0 1,0 -6.0,0M599.4,598.0m-3.0,0a3.0,3.0 0 1,0 6.0,0a3.0,3.0 0 1,0 -6.0,0M607.7,443.3m-3.0,0a3.0,3.0 0 1,0 6.0,0a3.0,3.0 0 1,0 -6.0,0M601.4,520.6m-3.0,0a3.0,3.0 0 1,0 6.0,0a3.0,3.0 0 1,0 -6.0,0M610.7,539.8m-3.0,0a3.0,3.0 0 1,0 6.0,0a3.0,3.0 0 1,0 -6.0,0M601.2,579.5m-3.0,0a3.0,3.0 0 1,0 6.0,0a3.0,3.0 0 1,0 -6.0,0M599.0,574.2m-3.0,0a3.0,3.0 0 1,0 6.0,0a3.0,3.0 0 1,0 -6.0,0M599.5,444.7m-3.0,0a3.0,3.0 0 1,0 6.0,0a3.0,3.0 0 1,0 -6.0,0M595.8,538.4m-3.0,0a3.0,3.0 0 1,0 6.0,0a3.0,3.0 0 1,0 -6.0,0M606.2,607.2m-3.0,0a3.0,3.0 0 1,0 6.0,0a3.0,3.0 0 1,0 -6.0,0M608.5,454.4m-3.0,0a3.0,3.0 0 1,0 6.0,0a3.0,3.0 0 1,0 -6.0,0M604.4,506.4m-3.0,0a3.0,3.0 0 1,0 6.0,0a3.0,3.0 0 1,0 -6.0,0M597.2,578.0m-3.0,0a3.0,3.0 0 1,0 6.0,0a3.0,3.0 0 1,0 -6.0,0M600.0,542.1m-3.0,0a3.0,3.0 0 1,0 6.0,0a3.0,3.0 0 1,0 -6.0,0M596.2,525.9m-3.0,0a3.0,3.0 0 1,0 6.0,0a3.0,3.0 0 1,0 -6.0,0M608.6,514.3m-3.0,0a3.0,3.0 0 1,0 6.0,0a3.0,3.0 0 1,0 -6.0,0M604.0,482.5m-3.0,0a3.0,3.0 0 1,0 6.0,0a3.0,3.0 0 1,0 -6.0,0M602.0,567.8m-3.0,0a3.0,3.0 0 1,0 6.0,0a3.0,3.0 0 1,0 -6.0,0M603.7,532.0m-3.0,0a3.0,3.0 0 1,0 6.0,0a3.0,3.0 0 1,0 -6.0,0M603.2,581.9m-3.0,0a3.0,3.0 0 1,0 6.0,0a3.0,3.0 0 1,0 -6.0,0M605.7,609.4m-3.0,0a3.0,3.0 0 1,0 6.0,0a3.0,3.0 0 1,0 -6.0,0M603.7,467.5m-3.0,0a3.0,3.0 0 1,0 6.0,0a3.0,3.0 0 1,0 -6.0,0M599.7,649.3m-3.0,0a3.0,3.0 0 1,0 6.0,0a3.0,3.0 0 1,0 -6.0,0M606.4,470.1m-3.0,0a3.0,3.0 0 1,0 6.0,0a3.0,3.0 0 1,0 -6.0,0M608.5,438.4m-3.0,0a3.0,3.0 0 1,0 6.0,0a3.0,3.0 0 1,0 -6.0,0M605.1,487.5m-3.0,0a3.0,3.0 0 1,0 6.0,0a3.0,3.0 0 1,0 -6.0,0M605.0,492.3m-3.0,0a3.0,3.0 0 1,0 6.0,0a3.0,3.0 0 1,0 -6.0,0M597.4,560.8m-3.0,0a3.0,3.0 0 1,0 6.0,0a3.0,3.0 0 1,0 -6.0,0M602.4,640.8m-3.0,0a3.0,3.0 0 1,0 6.0,0a3.0,3.0 0 1,0 -6.0,0M610.7,556.7m-3.0,0a3.0,3.0 0 1,0 6.0,0a3.0,3.0 0 1,0 -6.0,0M601.4,536.6m-3.0,0a3.0,3.0 0 1,0 6.0,0a3.0,3.0 0 1,0 -6.0,0M606.0,423.9m-3.0,0a3.0,3.0 0 1,0 6.0,0a3.0,3.0 0 1,0 -6.0,0M599.5,482.7m-3.0,0a3.0,3.0 0 1,0 6.0,0a3.0,3.0 0 1,0 -6.0,0M601.3,519.4m-3.0,0a3.0,3.0 0 1,0 6.0,0a3.0,3.0 0 1,0 -6.0,0M600.9,599.1m-3.0,0a3.0,3.0 0 1,0 6.0,0a3.0,3.0 0 1,0 -6.0,0M609.3,581.2m-3.0,0a3.0,3.0 0 1,0 6.0,0a3.0,3.0 0 1,0 -6.0,0M609.9,575.0m-3.0,0a3.0,3.0 0 1,0 6.0,0a3.0,3.0 0 1,0 -6.0,0M599.7,535.3m-3.0,0a3.0,3.0 0 1,0 6.0,0a3.0,3.0 0 1,0 -6.0,0M598.0,525.4m-3.0,0a3.0,3.0 0 1,0 6.0,0a3.0,3.0 0 1,0 -6.0,0M602.8,452.5m-3.0,0a3.0,3.0 0 1,0 6.0,0a3.0,3.0 0 1,0 -6.0,0M607.1,452.2m-3.0,0a3.0,3.0 0 1,0 6.0,0a3.0,3.0 0 1,0 -6.0,0M601.7,472.3m-3.0,0a3.0,3.0 0 1,0 6.0,0a3.0,3.0 0 1,0 -6.0,0M600.6,458.9m-3.0,0a3.0,3.0 0 1,0 6.0,0a3.0,3.0 0 1,0 -6.0,0M607.2,499.3m-3.0,0a3.0,3.0 0 1,0 6.0,0a3.0,3.0 0 1,0 -6.0,0M603.4,610.5m-3.0,0a3.0,3.0 0 1,0 6.0,0a3.0,3.0 0 1,0 -6.0,0M601.3,635.3m-3.0,0a3.0,3.0 0 1,0 6.0,0a3.0,3.0 0 1,0 -6.0,0M604.7,566.5m-3.0,0a3.0,3.0 0 1,0 6.0,0a3.0,3.0 0 1,0 -6.0,0M599.3,463.4m-3.0,0a3.0,3.0 0 1,0 6.0,0a3.0,3.0 0 1,0 -6.0,0M607.4,449.0m-3.0,0a3.0,3.0 0 1,0 6.0,0a3.0,3.0 0 1,0 -6.0,0M610.7,475.9m-3.0,0a3.0,3.0 0 1,0 6.0,0a3.0,3.0 0 1,0 -6.0,0M609.6,460.9m-3.0,0a3.0,3.0 0 1,0 6.0,0a3.0,3.0 0 1,0 -6.0,0M601.0,513.3m-3.0,0a3.0,3.0 0 1,0 6.0,0a3.0,3.0 0 1,0 -6.0,0M597.3,479.7m-3.0,0a3.0,3.0 0 1,0 6.0,0a3.0,3.0 0 1,0 -6.0,0M603.3,589.6m-3.0,0a3.0,3.0 0 1,0 6.0,0a3.0,3.0 0 1,0 -6.0,0M597.6,522.3m-3.0,0a3.0,3.0 0 1,0 6.0,0a3.0,3.0 0 1,0 -6.0,0M605.1,505.6m-3.0,0a3.0,3.0 0 1,0 6.0,0a3.0,3.0 0 1,0 -6.0,0M596.7,457.8m-3.0,0a3.0,3.0 0 1,0 6.0,0a3.0,3.0 0 1,0 -6.0,0M597.4,460.3m-3.0,0a3.0,3.0 0 1,0 6.0,0a3.0,3.0 0 1,0 -6.0,0M604.6,510.1m-3.0,0a3.0,3.0 0 1,0 6.0,0a3.0,3.0 0 1,0 -6.0,0M607.1,446.1m-3.0,0a3.0,3.0 0 1,0 6.0,0a3.0,3.0 0 1,0 -6.0,0M610.4,555.1m-3.0,0a3.0,3.0 0 1,0 6.0,0a3.0,3.0 0 1,0 -6.0,0M603.7,429.8m-3.0,0a3.0,3.0 0 1,0 6.0,0a3.0,3.0 0 1,0 -6.0,0M605.1,569.2m-3.0,0a3.0,3.0 0 1,0 6.0,0a3.0,3.0 0 1,0 -6.0,0M602.1,500.4m-3.0,0a3.0,3.0 0 1,0 6.0,0a3.0,3.0 0 1,0 -6.0,0M604.3,626.3m-3.0,0a3.0,3.0 0 1,0 6.0,0a3.0,3.0 0 1,0 -6.0,0M601.3,456.5m-3.0,0a3.0,3.0 0 1,0 6.0,0a3.0,3.0 0 1,0 -6.0,0M609.1,579.0m-3.0,0a3.0,3.0 0 1,0 6.0,0a3.0,3.0 0 1,0 -6.0,0M597.3,484.4m-3.0,0a3.0,3.0 0 1,0 6.0,0a3.0,3.0 0 1,0 -6.0,0M599.8,658.7m-3.0,0a3.0,3.0 0 1,0 6.0,0a3.0,3.0 0 1,0 -6.0,0M609.7,503.9m-3.0,0a3.0,3.0 0 1,0 6.0,0a3.0,3.0 0 1,0 -6.0,0M603.0,397.7m-3.0,0a3.0,3.0 0 1,0 6.0,0a3.0,3.0 0 1,0 -6.0,0M595.9,557.0m-3.0,0a3.0,3.0 0 1,0 6.0,0a3.0,3.0 0 1,0 -6.0,0M610.4,478.5m-3.0,0a3.0,3.0 0 1,0 6.0,0a3.0,3.0 0 1,0 -6.0,0M603.3,597.6m-3.0,0a3.0,3.0 0 1,0 6.0,0a3.0,3.0 0 1,0 -6.0,0M601.4,507.4m-3.0,0a3.0,3.0 0 1,0 6.0,0a3.0,3.0 0 1,0 -6.0,0M605.5,667.2m-3.0,0a3.0,3.0 0 1,0 6.0,0a3.0,3.0 0 1,0 -6.0,0M606.2,529.8m-3.0,0a3.0,3.0 0 1,0 6.0,0a3.0,3.0 0 1,0 -6.0,0M598.0,527.5m-3.0,0a3.0,3.0 0 1,0 6.0,0a3.0,3.0 0 1,0 -6.0,0M609.1,551.9m-3.0,0a3.0,3.0 0 1,0 6.0,0a3.0,3.0 0 1,0 -6.0,0M598.3,470.6m-3.0,0a3.0,3.0 0 1,0 6.0,0a3.0,3.0 0 1,0 -6.0,0M608.9,440.9m-3.0,0a3.0,3.0 0 1,0 6.0,0a3.0,3.0 0 1,0 -6.0,0M606.4,457.6m-3.0,0a3.0,3.0 0 1,0 6.0,0a3.0,3.0 0 1,0 -6.0,0M600.9,487.3m-3.0,0a3.0,3.0 0 1,0 6.0,0a3.0,3.0 0 1,0 -6.0,0M608.2,537.1m-3.0,0a3.0,3.0 0 1,0 6.0,0a3.0,3.0 0 1,0 -6.0,0M607.4,509.4m-3.0,0a3.0,3.0 0 1,0 6.0,0a3.0,3.0 0 1,0 -6.0,0M608.7,437.3m-3.0,0a3.0,3.0 0 1,0 6.0,0a3.0,3.0 0 1,0 -6.0,0M599.0,454.0m-3.0,0a3.0,3.0 0 1,0 6.0,0a3.0,3.0 0 1,0 -6.0,0M603.5,538.9m-3.0,0a3.0,3.0 0 1,0 6.0,0a3.0,3.0 0 1,0 -6.0,0M607.7,580.8m-3.0,0a3.0,3.0 0 1,0 6.0,0a3.0,3.0 0 1,0 -6.0,0M596.3,593.4m-3.0,0a3.0,3.0 0 1,0 6.0,0a3.0,3.0 0 1,0 -6.0,0M598.5,516.5m-3.0,0a3.0,3.0 0 1,0 6.0,0a3.0,3.0 0 1,0 -6.0,0M607.9,478.0m-3.0,0a3.0,3.0 0 1,0 6.0,0a3.0,3.0 0 1,0 -6.0,0M609.0,585.7m-3.0,0a3.0,3.0 0 1,0 6.0,0a3.0,3.0 0 1,0 -6.0,0M608.5,521.2m-3.0,0a3.0,3.0 0 1,0 6.0,0a3.0,3.0 0 1,0 -6.0,0M598.5,584.4m-3.0,0a3.0,3.0 0 1,0 6.0,0a3.0,3.0 0 1,0 -6.0,0M595.6,575.4m-3.0,0a3.0,3.0 0 1,0 6.0,0a3.0,3.0 0 1,0 -6.0,0M604.6,537.4m-3.0,0a3.0,3.0 0 1,0 6.0,0a3.0,3.0 0 1,0 -6.0,0M598.6,575.8m-3.0,0a3.0,3.0 0 1,0 6.0,0a3.0,3.0 0 1,0 -6.0,0M607.0,509.8m-3.0,0a3.0,3.0 0 1,0 6.0,0a3.0,3.0 0 1,0 -6.0,0M597.6,425.6m-3.0,0a3.0,3.0 0 1,0 6.0,0a3.0,3.0 0 1,0 -6.0,0M598.9,566.8m-3.0,0a3.0,3.0 0 1,0 6.0,0a3.0,3.0 0 1,0 -6.0,0M598.6,468.5m-3.0,0a3.0,3.0 0 1,0 6.0,0a3.0,3.0 0 1,0 -6.0,0M601.2,462.7m-3.0,0a3.0,3.0 0 1,0 6.0,0a3.0,3.0 0 1,0 -6.0,0M597.8,534.6m-3.0,0a3.0,3.0 0 1,0 6.0,0a3.0,3.0 0 1,0 -6.0,0M596.0,468.8m-3.0,0a3.0,3.0 0 1,0 6.0,0a3.0,3.0 0 1,0 -6.0,0M599.5,444.0m-3.0,0a3.0,3.0 0 1,0 6.0,0a3.0,3.0 0 1,0 -6.0,0M603.2,415.6m-3.0,0a3.0,3.0 0 1,0 6.0,0a3.0,3.0 0 1,0 -6.0,0M595.6,587.9m-3.0,0a3.0,3.0 0 1,0 6.0,0a3.0,3.0 0 1,0 -6.0,0M602.7,594.2m-3.0,0a3.0,3.0 0 1,0 6.0,0a3.0,3.0 0 1,0 -6.0,0M605.8,506.8m-3.0,0a3.0,3.0 0 1,0 6.0,0a3.0,3.0 0 1,0 -6.0,0M604.5,508.4m-3.0,0a3.0,3.0 0 1,0 6.0,0a3.0,3.0 0 1,0 -6.0,0M597.3,515.8m-3.0,0a3.0,3.0 0 1,0 6.0,0a3.0,3.0 0 1,0 -6.0,0M607.7,455.7m-3.0,0a3.0,3.0 0 1,0 6.0,0a3.0,3.0 0 1,0 -6.0,0M598.6,521.9m-3.0,0a3.0,3.0 0 1,0 6.0,0a3.0,3.0 0 1,0 -6.0,0M599.2,419.1m-3.0,0a3.0,3.0 0 1,0 6.0,0a3.0,3.0 0 1,0 -6.0,0M602.9,512.9m-3.0,0a3.0,3.0 0 1,0 6.0,0a3.0,3.0 0 1,0 -6.0,0M604.1,628.5m-3.0,0a3.0,3.0 0 1,0 6.0,0a3.0,3.0 0 1,0 -6.0,0M607.8,461.2m-3.0,0a3.0,3.0 0 1,0 6.0,0a3.0,3.0 0 1,0 -6.0,0M610.3,450.2m-3.0,0a3.0,3.0 0 1,0 6.0,0a3.0,3.0 0 1,0 -6.0,0M607.5,595.6m-3.0,0a3.0,3.0 0 1,0 6.0,0a3.0,3.0 0 1,0 -6.0,0M602.4,592.4m-3.0,0a3.0,3.0 0 1,0 6.0,0a3.0,3.0 0 1,0 -6.0,0M609.2,590.9m-3.0,0a3.0,3.0 0 1,0 6.0,0a3.0,3.0 0 1,0 -6.0,0M607.7,571.5m-3.0,0a3.0,3.0 0 1,0 6.0,0a3.0,3.0 0 1,0 -6.0,0M602.9,486.4m-3.0,0a3.0,3.0 0 1,0 6.0,0a3.0,3.0 0 1,0 -6.0,0M610.1,534.7m-3.0,0a3.0,3.0 0 1,0 6.0,0a3.0,3.0 0 1,0 -6.0,0M603.4,578.5m-3.0,0a3.0,3.0 0 1,0 6.0,0a3.0,3.0 0 1,0 -6.0,0M602.8,464.2m-3.0,0a3.0,3.0 0 1,0 6.0,0a3.0,3.0 0 1,0 -6.0,0M600.7,603.9m-3.0,0a3.0,3.0 0 1,0 6.0,0a3.0,3.0 0 1,0 -6.0,0M597.7,475.6m-3.0,0a3.0,3.0 0 1,0 6.0,0a3.0,3.0 0 1,0 -6.0,0M596.7,567.9m-3.0,0a3.0,3.0 0 1,0 6.0,0a3.0,3.0 0 1,0 -6.0,0M597.1,497.0m-3.0,0a3.0,3.0 0 1,0 6.0,0a3.0,3.0 0 1,0 -6.0,0M609.6,534.0m-3.0,0a3.0,3.0 0 1,0 6.0,0a3.0,3.0 0 1,0 -6.0,0M596.3,488.0m-3.0,0a3.0,3.0 0 1,0 6.0,0a3.0,3.0 0 1,0 -6.0,0M605.0,491.3m-3.0,0a3.0,3.0 0 1,0 6.0,0a3.0,3.0 0 1,0 -6.0,0M604.8,447.9m-3.0,0a3.0,3.0 0 1,0 6.0,0a3.0,3.0 0 1,0 -6.0,0M610.5,565.4m-3.0,0a3.0,3.0 0 1,0 6.0,0a3.0,3.0 0 1,0 -6.0,0M607.5,490.9m-3.0,0a3.0,3.0 0 1,0 6.0,0a3.0,3.0 0 1,0 -6.0,0M609.8,596.6m-3.0,0a3.0,3.0 0 1,0 6.0,0a3.0,3.0 0 1,0 -6.0,0M598.6,443.0m-3.0,0a3.0,3.0 0 1,0 6.0,0a3.0,3.0 0 1,0 -6.0,0M599.3,619.4m-3.0,0a3.0,3.0 0 1,0 6.0,0a3.0,3.0 0 1,0 -6.0,0M607.6,439.6m-3.0,0a3.0,3.0 0 1,0 6.0,0a3.0,3.0 0 1,0 -6.0,0M605.9,601.3m-3.0,0a3.0,3.0 0 1,0 6.0,0a3.0,3.0 0 1,0 -6.0,0M601.3,428.3m-3.0,0a3.0,3.0 0 1,0 6.0,0a3.0,3.0 0 1,0 -6.0,0M606.5,639.0m-3.0,0a3.0,3.0 0 1,0 6.0,0a3.0,3.0 0 1,0 -6.0,0M606.1,547.7m-3.0,0a3.0,3.0 0 1,0 6.0,0a3.0,3.0 0 1,0 -6.0,0M596.3,544.6m-3.0,0a3.0,3.0 0 1,0 6.0,0a3.0,3.0 0 1,0 -6.0,0M601.4,391.9m-3.0,0a3.0,3.0 0 1,0 6.0,0a3.0,3.0 0 1,0 -6.0,0M600.5,422.3m-3.0,0a3.0,3.0 0 1,0 6.0,0a3.0,3.0 0 1,0 -6.0,0M597.4,593.6m-3.0,0a3.0,3.0 0 1,0 6.0,0a3.0,3.0 0 1,0 -6.0,0M602.5,485.2m-3.0,0a3.0,3.0 0 1,0 6.0,0a3.0,3.0 0 1,0 -6.0,0M610.0,441.9m-3.0,0a3.0,3.0 0 1,0 6.0,0a3.0,3.0 0 1,0 -6.0,0M600.9,488.5m-3.0,0a3.0,3.0 0 1,0 6.0,0a3.0,3.0 0 1,0 -6.0,0M598.2,504.9m-3.0,0a3.0,3.0 0 1,0 6.0,0a3.0,3.0 0 1,0 -6.0,0M598.7,622.4m-3.0,0a3.0,3.0 0 1,0 6.0,0a3.0,3.0 0 1,0 -6.0,0M606.7,523.9m-3.0,0a3.0,3.0 0 1,0 6.0,0a3.0,3.0 0 1,0 -6.0,0M601.6,552.9m-3.0,0a3.0,3.0 0 1,0 6.0,0a3.0,3.0 0 1,0 -6.0,0M603.1,635.6m-3.0,0a3.0,3.0 0 1,0 6.0,0a3.0,3.0 0 1,0 -6.0,0M602.7,501.9m-3.0,0a3.0,3.0 0 1,0 6.0,0a3.0,3.0 0 1,0 -6.0,0M606.6,571.2m-3.0,0a3.0,3.0 0 1,0 6.0,0a3.0,3.0 0 1,0 -6.0,0M603.1,562.6m-3.0,0a3.0,3.0 0 1,0 6.0,0a3.0,3.0 0 1,0 -6.0,0M600.8,502.5m-3.0,0a3.0,3.0 0 1,0 6.0,0a3.0,3.0 0 1,0 -6.0,0M597.9,485.7m-3.0,0a3.0,3.0 0 1,0 6.0,0a3.0,3.0 0 1,0 -6.0,0M597.9,447.6m-3.0,0a3.0,3.0 0 1,0 6.0,0a3.0,3.0 0 1,0 -6.0,0M599.9,483.1m-3.0,0a3.0,3.0 0 1,0 6.0,0a3.0,3.0 0 1,0 -6.0,0M599.3,564.0m-3.0,0a3.0,3.0 0 1,0 6.0,0a3.0,3.0 0 1,0 -6.0,0M603.3,491.7m-3.0,0a3.0,3.0 0 1,0 6.0,0a3.0,3.0 0 1,0 -6.0,0M601.7,653.0m-3.0,0a3.0,3.0 0 1,0 6.0,0a3.0,3.0 0 1,0 -6.0,0M603.3,576.7m-3.0,0a3.0,3.0 0 1,0 6.0,0a3.0,3.0 0 1,0 -6.0,0M602.4,451.6m-3.0,0a3.0,3.0 0 1,0 6.0,0a3.0,3.0 0 1,0 -6.0,0M604.3,591.2m-3.0,0a3.0,3.0 0 1,0 6.0,0a3.0,3.0 0 1,0 -6.0,0M607.8,617.9m-3.0,0a3.0,3.0 0 1,0 6.0,0a3.0,3.0 0 1,0 -6.0,0M610.4,572.1m-3.0,0a3.0,3.0 0 1,0 6.0,0a3.0,3.0 0 1,0 -6.0,0M602.3,494.4m-3.0,0a3.0,3.0 0 1,0 6.0,0a3.0,3.0 0 1,0 -6.0,0M600.3,499.7m-3.0,0a3.0,3.0 0 1,0 6.0,0a3.0,3.0 0 1,0 -6.0,0M609.7,466.0m-3.0,0a3.0,3.0 0 1,0 6.0,0a3.0,3.0 0 1,0 -6.0,0M609.6,572.7m-3.0,0a3.0,3.0 0 1,0 6.0,0a3.0,3.0 0 1,0 -6.0,0M608.0,590.3m-3.0,0a3.0,3.0 0 1,0 6.0,0a3.0,3.0 0 1,0 -6.0,0M602.0,528.6m-3.0,0a3.0,3.0 0 1,0 6.0,0a3.0,3.0 0 1,0 -6.0,0M601.3,595.8m-3.0,0a3.0,3.0 0 1,0 6.0,0a3.0,3.0 0 1,0 -6.0,0M600.4,576.8m-3.0,0a3.0,3.0 0 1,0 6.0,0a3.0,3.0 0 1,0 -6.0,0M605.0,519.9m-3.0,0a3.0,3.0 0 1,0 6.0,0a3.0,3.0 0 1,0 -6.0,0M598.4,496.0m-3.0,0a3.0,3.0 0 1,0 6.0,0a3.0,3.0 0 1,0 -6.0,0M596.9,568.7m-3.0,0a3.0,3.0 0 1,0 6.0,0a3.0,3.0 0 1,0 -6.0,0M595.6,553.2m-3.0,0a3.0,3.0 0 1,0 6.0,0a3.0,3.0 0 1,0 -6.0,0M596.5,597.0m-3.0,0a3.0,3.0 0 1,0 6.0,0a3.0,3.0 0 1,0 -6.0,0M604.6,564.9m-3.0,0a3.0,3.0 0 1,0 6.0,0a3.0,3.0 0 1,0 -6.0,0M606.8,507.9m-3.0,0a3.0,3.0 0 1,0 6.0,0a3.0,3.0 0 1,0 -6.0,0M602.6,483.6m-3.0,0a3.0,3.0 0 1,0 6.0,0a3.0,3.0 0 1,0 -6.0,0M607.3,550.3m-3.0,0a3.0,3.0 0 1,0 6.0,0a3.0,3.0 0 1,0 -6.0,0M604.6,632.3m-3.0,0a3.0,3.0 0 1,0 6.0,0a3.0,3.0 0 1,0 -6.0,0M597.3,450.8m-3.0,0a3.0,3.0 0 1,0 6.0,0a3.0,3.0 0 1,0 -6.0,0M601.6,495.0m-3.0,0a3.0,3.0 0 1,0 6.0,0a3.0,3.0 0 1,0 -6.0,0M609.1,515.5m-3.0,0a3.0,3.0 0 1,0 6.0,0a3.0,3.0 0 1,0 -6.0,0M607.3,518.4m-3.0,0a3.0,3.0 0 1,0 6.0,0a3.0,3.0 0 1,0 -6.0,0M606.6,599.9m-3.0,0a3.0,3.0 0 1,0 6.0,0a3.0,3.0 0 1,0 -6.0,0M597.8,598.5m-3.0,0a3.0,3.0 0 1,0 6.0,0a3.0,3.0 0 1,0 -6.0,0M597.9,589.0m-3.0,0a3.0,3.0 0 1,0 6.0,0a3.0,3.0 0 1,0 -6.0,0M609.6,546.5m-3.0,0a3.0,3.0 0 1,0 6.0,0a3.0,3.0 0 1,0 -6.0,0M605.3,621.5m-3.0,0a3.0,3.0 0 1,0 6.0,0a3.0,3.0 0 1,0 -6.0,0M602.0,522.7m-3.0,0a3.0,3.0 0 1,0 6.0,0a3.0,3.0 0 1,0 -6.0,0M610.1,558.6m-3.0,0a3.0,3.0 0 1,0 6.0,0a3.0,3.0 0 1,0 -6.0,0M597.3,476.8m-3.0,0a3.0,3.0 0 1,0 6.0,0a3.0,3.0 0 1,0 -6.0,0M603.7,605.3m-3.0,0a3.0,3.0 0 1,0 6.0,0a3.0,3.0 0 1,0 -6.0,0M604.8,473.9m-3.0,0a3.0,3.0 0 1,0 6.0,0a3.0,3.0 0 1,0 -6.0,0M607.3,585.9m-3.0,0a3.0,3.0 0 1,0 6.0,0a3.0,3.0 0 1,0 -6.0,0M604.5,602.6m-3.0,0a3.0,3.0 0 1,0 6.0,0a3.0,3.0 0 1,0 -6.0,0M607.0,501.4m-3.0,0a3.0,3.0 0 1,0 6.0,0a3.0,3.0 0 1,0 -6.0,0M603.7,461.7m-3.0,0a3.0,3.0 0 1,0 6.0,0a3.0,3.0 0 1,0 -6.0,0M599.0,477.5m-3.0,0a3.0,3.0 0 1,0 6.0,0a3.0,3.0 0 1,0 -6.0,0M603.8,570.3m-3.0,0a3.0,3.0 0 1,0 6.0,0a3.0,3.0 0 1,0 -6.0,0M596.7,468.0m-3.0,0a3.0,3.0 0 1,0 6.0,0a3.0,3.0 0 1,0 -6.0,0M600.9,503.2m-3.0,0a3.0,3.0 0 1,0 6.0,0a3.0,3.0 0 1,0 -6.0,0M595.3,495.5m-3.0,0a3.0,3.0 0 1,0 6.0,0a3.0,3.0 0 1,0 -6.0,0M599.7,549.4m-3.0,0a3.0,3.0 0 1,0 6.0,0a3.0,3.0 0 1,0 -6.0,0M596.1,541.4m-3.0,0a3.0,3.0 0 1,0 6.0,0a3.0,3.0 0 1,0 -6.0,0M604.8,546.1m-3.0,0a3.0,3.0 0 1,0 6.0,0a3.0,3.0 0 1,0 -6.0,0M599.4,523.4m-3.0,0a3.0,3.0 0 1,0 6.0,0a3.0,3.0 0 1,0 -6.0,0M606.9,480.7m-3.0,0a3.0,3.0 0 1,0 6.0,0a3.0,3.0 0 1,0 -6.0,0M604.4,474.2m-3.0,0a3.0,3.0 0 1,0 6.0,0a3.0,3.0 0 1,0 -6.0,0M600.1,548.8m-3.0,0a3.0,3.0 0 1,0 6.0,0a3.0,3.0 0 1,0 -6.0,0M601.6,455.6m-3.0,0a3.0,3.0 0 1,0 6.0,0a3.0,3.0 0 1,0 -6.0,0M602.8,459.4m-3.0,0a3.0,3.0 0 1,0 6.0,0a3.0,3.0 0 1,0 -6.0,0M600.8,583.9m-3.0,0a3.0,3.0 0 1,0 6.0,0a3.0,3.0 0 1,0 -6.0,0M603.1,530.3m-3.0,0a3.0,3.0 0 1,0 6.0,0a3.0,3.0 0 1,0 -6.0,0M606.5,582.5m-3.0,0a3.0,3.0 0 1,0 6.0,0a3.0,3.0 0 1,0 -6.0,0M600.3,532.9m-3.0,0a3.0,3.0 0 1,0 6.0,0a3.0,3.0 0 1,0 -6.0,0M597.0,469.7m-3.0,0a3.0,3.0 0 1,0 6.0,0a3.0,3.0 0 1,0 -6.0,0M597.5,451.0m-3.0,0a3.0,3.0 0 1,0 6.0,0a3.0,3.0 0 1,0 -6.0,0M597.0,573.6m-3.0,0a3.0,3.0 0 1,0 6.0,0a3.0,3.0 0 1,0 -6.0,0M596.6,448.5m-3.0,0a3.0,3.0 0 1,0 6.0,0a3.0,3.0 0 1,0 -6.0,0M603.5,510.8m-3.0,0a3.0,3.0 0 1,0 6.0,0a3.0,3.0 0 1,0 -6.0,0M608.7,563.5m-3.0,0a3.0,3.0 0 1,0 6.0,0a3.0,3.0 0 1,0 -6.0,0M600.1,662.2m-3.0,0a3.0,3.0 0 1,0 6.0,0a3.0,3.0 0 1,0 -6.0,0M604.0,435.0m-3.0,0a3.0,3.0 0 1,0 6.0,0a3.0,3.0 0 1,0 -6.0,0M605.2,600.9m-3.0,0a3.0,3.0 0 1,0 6.0,0a3.0,3.0 0 1,0 -6.0,0M608.3,540.5m-3.0,0a3.0,3.0 0 1,0 6.0,0a3.0,3.0 0 1,0 -6.0,0M604.5,489.6m-3.0,0a3.0,3.0 0 1,0 6.0,0a3.0,3.0 0 1,0 -6.0,0M607.3,471.7m-3.0,0a3.0,3.0 0 1,0 6.0,0a3.0,3.0 0 1,0 -6.0,0M606.9,564.3m-3.0,0a3.0,3.0 0 1,0 6.0,0a3.0,3.0 0 1,0 -6.0,0M608.5,517.2m-3.0,0a3.0,3.0 0 1,0 6.0,0a3.0,3.0 0 1,0 -6.0,0M600.2,587.3m-3.0,0a3.0,3.0 0 1,0 6.0,0a3.0,3.0 0 1,0 -6.0,0M598.9,446.7m-3.0,0a3.0,3.0 0 1,0 6.0,0a3.0,3.0 0 1,0 -6.0,0M599.2,555.7m-3.0,0a3.0,3.0 0 1,0 6.0,0a3.0,3.0 0 1,0 -6.0,0M604.5,547.0m-3.0,0a3.0,3.0 0 1,0 6.0,0a3.0,3.0 0 1,0 -6.0,0M603.5,550.5m-3.0,0a3.0,3.0 0 1,0 6.0,0a3.0,3.0 0 1,0 -6.0,0M609.0,577.6m-3.0,0a3.0,3.0 0 1,0 6.0,0a3.0,3.0 0 1,0 -6.0,0M602.9,513.7m-3.0,0a3.0,3.0 0 1,0 6.0,0a3.0,3.0 0 1,0 -6.0,0M602.8,601.6m-3.0,0a3.0,3.0 0 1,0 6.0,0a3.0,3.0 0 1,0 -6.0,0M599.8,528.0m-3.0,0a3.0,3.0 0 1,0 6.0,0a3.0,3.0 0 1,0 -6.0,0M601.2,573.6m-3.0,0a3.0,3.0 0 1,0 6.0,0a3.0,3.0 0 1,0 -6.0,0M596.9,604.2m-3.0,0a3.0,3.0 0 1,0 6.0,0a3.0,3.0 0 1,0 -6.0,0M601.6,481.7m-3.0,0a3.0,3.0 0 1,0 6.0,0a3.0,3.0 0 1,0 -6.0,0M599.7,602.7m-3.0,0a3.0,3.0 0 1,0 6.0,0a3.0,3.0 0 1,0 -6.0,0M600.2,493.0m-3.0,0a3.0,3.0 0 1,0 6.0,0a3.0,3.0 0 1,0 -6.0,0M603.5,401.3m-3.0,0a3.0,3.0 0 1,0 6.0,0a3.0,3.0 0 1,0 -6.0,0M604.7,586.3m-3.0,0a3.0,3.0 0 1,0 6.0,0a3.0,3.0 0 1,0 -6.0,0M604.6,614.0m-3.0,0a3.0,3.0 0 1,0 6.0,0a3.0,3.0 0 1,0 -6.0,0M600.6,530.6m-3.0,0a3.0,3.0 0 1,0 6.0,0a3.0,3.0 0 1,0 -6.0,0M607.4,595.0m-3.0,0a3.0,3.0 0 1,0 6.0,0a3.0,3.0 0 1,0 -6.0,0M595.3,548.2m-3.0,0a3.0,3.0 0 1,0 6.0,0a3.0,3.0 0 1,0 -6.0,0M601.2,493.7m-3.0,0a3.0,3.0 0 1,0 6.0,0a3.0,3.0 0 1,0 -6.0,0M600.4,605.8m-3.0,0a3.0,3.0 0 1,0 6.0,0a3.0,3.0 0 1,0 -6.0,0M596.7,465.2m-3.0,0a3.0,3.0 0 1,0 6.0,0a3.0,3.0 0 1,0 -6.0,0M599.0,527.0m-3.0,0a3.0,3.0 0 1,0 6.0,0a3.0,3.0 0 1,0 -6.0,0M598.7,511.3m-3.0,0a3.0,3.0 0 1,0 6.0,0a3.0,3.0 0 1,0 -6.0,0M598.4,476.5m-3.0,0a3.0,3.0 0 1,0 6.0,0a3.0,3.0 0 1,0 -6.0,0M601.2,552.2m-3.0,0a3.0,3.0 0 1,0 6.0,0a3.0,3.0 0 1,0 -6.0,0M595.3,500.4m-3.0,0a3.0,3.0 0 1,0 6.0,0a3.0,3.0 0 1,0 -6.0,0M605.3,505.8m-3.0,0a3.0,3.0 0 1,0 6.0,0a3.0,3.0 0 1,0 -6.0,0M601.7,612.7m-3.0,0a3.0,3.0 0 1,0 6.0,0a3.0,3.0 0 1,0 -6.0,0M606.1,532.5m-3.0,0a3.0,3.0 0 1,0 6.0,0a3.0,3.0 0 1,0 -6.0,0M597.0,524.8m-3.0,0a3.0,3.0 0 1,0 6.0,0a3.0,3.0 0 1,0 -6.0,0M610.2,592.0m-3.0,0a3.0,3.0 0 1,0 6.0,0a3.0,3.0 0 1,0 -6.0,0M603.5,467.1m-3.0,0a3.0,3.0 0 1,0 6.0,0a3.0,3.0 0 1,0 -6.0,0M607.0,542.8m-3.0,0a3.0,3.0 0 1,0 6.0,0a3.0,3.0 0 1,0 -6.0,0M602.4,439.2m-3.0,0a3.0,3.0 0 1,0 6.0,0a3.0,3.0 0 1,0 -6.0,0M610.1,526.6m-3.0,0a3.0,3.0 0 1,0 6.0,0a3.0,3.0 0 1,0 -6.0,0M604.2,496.6m-3.0,0a3.0,3.0 0 1,0 6.0,0a3.0,3.0 0 1,0 -6.0,0M596.5,449.4m-3.0,0a3.0,3.0 0 1,0 6.0,0a3.0,3.0 0 1,0 -6.0,0M608.1,517.7m-3.0,0a3.0,3.0 0 1,0 6.0,0a3.0,3.0 0 1,0 -6.0,0M595.8,561.3m-3.0,0a3.0,3.0 0 1,0 6.0,0a3.0,3.0 0 1,0 -6.0,0M610.2,569.9m-3.0,0a3.0,3.0 0 1,0 6.0,0a3.0,3.0 0 1,0 -6.0,0M609.3,434.0m-3.0,0a3.0,3.0 0 1,0 6.0,0a3.0,3.0 0 1,0 -6.0,0M605.8,472.7m-3.0,0a3.0,3.0 0 1,0 6.0,0a3.0,3.0 0 1,0 -6.0,0M606.7,606.3m-3.0,0a3.0,3.0 0 1,0 6.0,0a3.0,3.0 0 1,0 -6.0,0M606.5,504.2m-3.0,0a3.0,3.0 0 1,0 6.0,0a3.0,3.0 0 1,0 -6.0,0M599.4,561.9m-3.0,0a3.0,3.0 0 1,0 6.0,0a3.0,3.0 0 1,0 -6.0,0M604.1,553.7m-3.0,0a3.0,3.0 0 1,0 6.0,0a3.0,3.0 0 1,0 -6.0,0M609.1,484.7m-3.0,0a3.0,3.0 0 1,0 6.0,0a3.0,3.0 0 1,0 -6.0,0M600.3,417.8m-3.0,0a3.0,3.0 0 1,0 6.0,0a3.0,3.0 0 1,0 -6.0,0M606.3,584.9m-3.0,0a3.0,3.0 0 1,0 6.0,0a3.0,3.0 0 1,0 -6.0,0M601.8,559.5m-3.0,0a3.0,3.0 0 1,0 6.0,0a3.0,3.0 0 1,0 -6.0,0M600.0,544.7m-3.0,0a3.0,3.0 0 1,0 6.0,0a3.0,3.0 0 1,0 -6.0,0M607.7,433.1m-3.0,0a3.0,3.0 0 1,0 6.0,0a3.0,3.0 0 1,0 -6.0,0M600.6,583.5m-3.0,0a3.0,3.0 0 1,0 6.0,0a3.0,3.0 0 1,0 -6.0,0"/>
<text x="383.8" y="401.9" text-anchor="start" font-size="16.5" fill="#111" font-weight="bold" textLength="20.8" lengthAdjust="spacingAndGlyphs">(E)</text>
<text transform="translate(399.2,529.4) rotate(-90)" text-anchor="middle" font-size="13" fill="#505050" font-weight="normal" textLength="153.0" lengthAdjust="spacingAndGlyphs" stroke="#505050" stroke-width="0.3">Log10 Protein Residuals</text>
<text x="456.8" y="690.9" text-anchor="start" font-size="12" fill="#555" font-weight="normal" textLength="90.5" lengthAdjust="spacingAndGlyphs">Healthy individuals</text>
<text x="576.0" y="690.9" text-anchor="start" font-size="12" fill="#555" font-weight="normal" textLength="54.8" lengthAdjust="spacingAndGlyphs">COVID-19</text>
<path d="M761.0,356.20H998.2" stroke="#ebebeb" stroke-width="1"/>
<path d="M761.0,429.60H998.2" stroke="#ebebeb" stroke-width="1"/>
<path d="M761.0,576.40H998.2" stroke="#ebebeb" stroke-width="1"/>
<path d="M761.0,649.80H998.2" stroke="#ebebeb" stroke-width="1"/>
<text x="760.5" y="359.2" text-anchor="end" font-size="12" fill="#555" font-weight="normal" textLength="5.5" lengthAdjust="spacingAndGlyphs" stroke="#555" stroke-width="0.25">1</text>
<text x="760.5" y="432.6" text-anchor="end" font-size="12" fill="#555" font-weight="normal" textLength="18.0" lengthAdjust="spacingAndGlyphs" stroke="#555" stroke-width="0.25">0.5</text>
<text x="760.5" y="506.0" text-anchor="end" font-size="12" fill="#555" font-weight="normal" textLength="6.8" lengthAdjust="spacingAndGlyphs" stroke="#555" stroke-width="0.25">0</text>
<text x="760.5" y="579.4" text-anchor="end" font-size="12" fill="#555" font-weight="normal" textLength="25.5" lengthAdjust="spacingAndGlyphs" stroke="#555" stroke-width="0.25">−0.5</text>
<text x="760.5" y="652.8" text-anchor="end" font-size="12" fill="#555" font-weight="normal" textLength="14.5" lengthAdjust="spacingAndGlyphs" stroke="#555" stroke-width="0.25">−1</text>
<path d="M758.0,503.20H998.2" stroke="#444444" stroke-width="1.8"/>
<rect x="788.90" y="471.60" width="59.20" height="76.80" fill="#005a80" fill-opacity="0.5" stroke="#005f87" stroke-width="2"/>
<path d="M788.90,508.10H848.10M818.50,471.60V365.40M818.50,548.40V639.90" stroke="#005f87" stroke-width="2" fill="none"/>
<path d="M803.70,365.40H833.30" stroke="#005f87" stroke-width="2" fill="none"/>
<path d="M803.70,639.90H833.30" stroke="#005f87" stroke-width="2" fill="none"/>
<rect x="908.30" y="441.60" width="59.20" height="84.40" fill="#f99d00" fill-opacity="0.5" stroke="#f9a202" stroke-width="2"/>
<path d="M908.30,481.30H967.50M937.90,441.60V380.60M937.90,526.00V611.30" stroke="#f9a202" stroke-width="2" fill="none"/>
<path d="M923.10,380.60H952.70" stroke="#f9a202" stroke-width="2" fill="none"/>
<path d="M923.10,611.30H952.70" stroke="#fbd08a" stroke-width="2" fill="none"/>
<path fill="#005f87" d="M812.5,567.5m-3.0,0a3.0,3.0 0 1,0 6.0,0a3.0,3.0 0 1,0 -6.0,0M819.0,473.5m-3.0,0a3.0,3.0 0 1,0 6.0,0a3.0,3.0 0 1,0 -6.0,0M822.2,555.5m-3.0,0a3.0,3.0 0 1,0 6.0,0a3.0,3.0 0 1,0 -6.0,0M814.9,460.2m-3.0,0a3.0,3.0 0 1,0 6.0,0a3.0,3.0 0 1,0 -6.0,0M811.4,456.8m-3.0,0a3.0,3.0 0 1,0 6.0,0a3.0,3.0 0 1,0 -6.0,0M813.6,489.3m-3.0,0a3.0,3.0 0 1,0 6.0,0a3.0,3.0 0 1,0 -6.0,0M815.5,559.3m-3.0,0a3.0,3.0 0 1,0 6.0,0a3.0,3.0 0 1,0 -6.0,0M814.8,414.1m-3.0,0a3.0,3.0 0 1,0 6.0,0a3.0,3.0 0 1,0 -6.0,0M822.8,463.8m-3.0,0a3.0,3.0 0 1,0 6.0,0a3.0,3.0 0 1,0 -6.0,0M813.3,553.9m-3.0,0a3.0,3.0 0 1,0 6.0,0a3.0,3.0 0 1,0 -6.0,0M825.9,547.7m-3.0,0a3.0,3.0 0 1,0 6.0,0a3.0,3.0 0 1,0 -6.0,0M822.1,516.5m-3.0,0a3.0,3.0 0 1,0 6.0,0a3.0,3.0 0 1,0 -6.0,0M825.5,483.1m-3.0,0a3.0,3.0 0 1,0 6.0,0a3.0,3.0 0 1,0 -6.0,0M826.0,512.7m-3.0,0a3.0,3.0 0 1,0 6.0,0a3.0,3.0 0 1,0 -6.0,0M812.3,533.6m-3.0,0a3.0,3.0 0 1,0 6.0,0a3.0,3.0 0 1,0 -6.0,0M816.0,622.3m-3.0,0a3.0,3.0 0 1,0 6.0,0a3.0,3.0 0 1,0 -6.0,0M817.3,466.3m-3.0,0a3.0,3.0 0 1,0 6.0,0a3.0,3.0 0 1,0 -6.0,0M820.4,609.4m-3.0,0a3.0,3.0 0 1,0 6.0,0a3.0,3.0 0 1,0 -6.0,0M825.0,452.9m-3.0,0a3.0,3.0 0 1,0 6.0,0a3.0,3.0 0 1,0 -6.0,0M815.4,604.2m-3.0,0a3.0,3.0 0 1,0 6.0,0a3.0,3.0 0 1,0 -6.0,0M813.1,470.4m-3.0,0a3.0,3.0 0 1,0 6.0,0a3.0,3.0 0 1,0 -6.0,0M818.1,527.9m-3.0,0a3.0,3.0 0 1,0 6.0,0a3.0,3.0 0 1,0 -6.0,0M824.0,464.2m-3.0,0a3.0,3.0 0 1,0 6.0,0a3.0,3.0 0 1,0 -6.0,0M813.7,496.1m-3.0,0a3.0,3.0 0 1,0 6.0,0a3.0,3.0 0 1,0 -6.0,0M822.6,419.7m-3.0,0a3.0,3.0 0 1,0 6.0,0a3.0,3.0 0 1,0 -6.0,0M815.1,484.6m-3.0,0a3.0,3.0 0 1,0 6.0,0a3.0,3.0 0 1,0 -6.0,0M816.9,471.0m-3.0,0a3.0,3.0 0 1,0 6.0,0a3.0,3.0 0 1,0 -6.0,0M812.7,550.0m-3.0,0a3.0,3.0 0 1,0 6.0,0a3.0,3.0 0 1,0 -6.0,0M814.0,484.4m-3.0,0a3.0,3.0 0 1,0 6.0,0a3.0,3.0 0 1,0 -6.0,0M817.0,589.0m-3.0,0a3.0,3.0 0 1,0 6.0,0a3.0,3.0 0 1,0 -6.0,0M814.3,503.4m-3.0,0a3.0,3.0 0 1,0 6.0,0a3.0,3.0 0 1,0 -6.0,0M819.8,524.4m-3.0,0a3.0,3.0 0 1,0 6.0,0a3.0,3.0 0 1,0 -6.0,0M822.1,450.9m-3.0,0a3.0,3.0 0 1,0 6.0,0a3.0,3.0 0 1,0 -6.0,0M815.3,556.4m-3.0,0a3.0,3.0 0 1,0 6.0,0a3.0,3.0 0 1,0 -6.0,0M824.0,493.0m-3.0,0a3.0,3.0 0 1,0 6.0,0a3.0,3.0 0 1,0 -6.0,0M820.9,574.8m-3.0,0a3.0,3.0 0 1,0 6.0,0a3.0,3.0 0 1,0 -6.0,0M820.3,562.4m-3.0,0a3.0,3.0 0 1,0 6.0,0a3.0,3.0 0 1,0 -6.0,0M815.7,638.0m-3.0,0a3.0,3.0 0 1,0 6.0,0a3.0,3.0 0 1,0 -6.0,0M815.1,479.6m-3.0,0a3.0,3.0 0 1,0 6.0,0a3.0,3.0 0 1,0 -6.0,0M815.9,502.1m-3.0,0a3.0,3.0 0 1,0 6.0,0a3.0,3.0 0 1,0 -6.0,0M824.3,499.7m-3.0,0a3.0,3.0 0 1,0 6.0,0a3.0,3.0 0 1,0 -6.0,0M816.1,454.5m-3.0,0a3.0,3.0 0 1,0 6.0,0a3.0,3.0 0 1,0 -6.0,0M815.3,486.1m-3.0,0a3.0,3.0 0 1,0 6.0,0a3.0,3.0 0 1,0 -6.0,0M812.5,492.1m-3.0,0a3.0,3.0 0 1,0 6.0,0a3.0,3.0 0 1,0 -6.0,0M823.9,570.9m-3.0,0a3.0,3.0 0 1,0 6.0,0a3.0,3.0 0 1,0 -6.0,0M821.2,455.1m-3.0,0a3.0,3.0 0 1,0 6.0,0a3.0,3.0 0 1,0 -6.0,0M822.8,453.6m-3.0,0a3.0,3.0 0 1,0 6.0,0a3.0,3.0 0 1,0 -6.0,0M814.1,552.0m-3.0,0a3.0,3.0 0 1,0 6.0,0a3.0,3.0 0 1,0 -6.0,0M815.7,538.1m-3.0,0a3.0,3.0 0 1,0 6.0,0a3.0,3.0 0 1,0 -6.0,0M818.2,461.0m-3.0,0a3.0,3.0 0 1,0 6.0,0a3.0,3.0 0 1,0 -6.0,0M826.1,463.5m-3.0,0a3.0,3.0 0 1,0 6.0,0a3.0,3.0 0 1,0 -6.0,0M824.6,514.4m-3.0,0a3.0,3.0 0 1,0 6.0,0a3.0,3.0 0 1,0 -6.0,0M823.8,469.0m-3.0,0a3.0,3.0 0 1,0 6.0,0a3.0,3.0 0 1,0 -6.0,0M819.7,598.5m-3.0,0a3.0,3.0 0 1,0 6.0,0a3.0,3.0 0 1,0 -6.0,0M816.2,583.6m-3.0,0a3.0,3.0 0 1,0 6.0,0a3.0,3.0 0 1,0 -6.0,0M821.7,494.5m-3.0,0a3.0,3.0 0 1,0 6.0,0a3.0,3.0 0 1,0 -6.0,0M823.0,506.4m-3.0,0a3.0,3.0 0 1,0 6.0,0a3.0,3.0 0 1,0 -6.0,0M820.6,505.5m-3.0,0a3.0,3.0 0 1,0 6.0,0a3.0,3.0 0 1,0 -6.0,0M818.8,548.6m-3.0,0a3.0,3.0 0 1,0 6.0,0a3.0,3.0 0 1,0 -6.0,0M812.7,530.2m-3.0,0a3.0,3.0 0 1,0 6.0,0a3.0,3.0 0 1,0 -6.0,0M822.0,534.9m-3.0,0a3.0,3.0 0 1,0 6.0,0a3.0,3.0 0 1,0 -6.0,0M812.1,440.8m-3.0,0a3.0,3.0 0 1,0 6.0,0a3.0,3.0 0 1,0 -6.0,0M818.2,603.1m-3.0,0a3.0,3.0 0 1,0 6.0,0a3.0,3.0 0 1,0 -6.0,0M813.2,528.0m-3.0,0a3.0,3.0 0 1,0 6.0,0a3.0,3.0 0 1,0 -6.0,0M823.9,496.3m-3.0,0a3.0,3.0 0 1,0 6.0,0a3.0,3.0 0 1,0 -6.0,0M812.3,560.1m-3.0,0a3.0,3.0 0 1,0 6.0,0a3.0,3.0 0 1,0 -6.0,0M823.7,504.6m-3.0,0a3.0,3.0 0 1,0 6.0,0a3.0,3.0 0 1,0 -6.0,0M813.5,544.6m-3.0,0a3.0,3.0 0 1,0 6.0,0a3.0,3.0 0 1,0 -6.0,0M814.8,447.8m-3.0,0a3.0,3.0 0 1,0 6.0,0a3.0,3.0 0 1,0 -6.0,0M811.0,568.4m-3.0,0a3.0,3.0 0 1,0 6.0,0a3.0,3.0 0 1,0 -6.0,0M819.3,518.5m-3.0,0a3.0,3.0 0 1,0 6.0,0a3.0,3.0 0 1,0 -6.0,0M820.4,554.5m-3.0,0a3.0,3.0 0 1,0 6.0,0a3.0,3.0 0 1,0 -6.0,0M816.2,580.6m-3.0,0a3.0,3.0 0 1,0 6.0,0a3.0,3.0 0 1,0 -6.0,0M821.1,403.4m-3.0,0a3.0,3.0 0 1,0 6.0,0a3.0,3.0 0 1,0 -6.0,0M823.0,531.9m-3.0,0a3.0,3.0 0 1,0 6.0,0a3.0,3.0 0 1,0 -6.0,0M820.8,509.4m-3.0,0a3.0,3.0 0 1,0 6.0,0a3.0,3.0 0 1,0 -6.0,0M817.6,511.0m-3.0,0a3.0,3.0 0 1,0 6.0,0a3.0,3.0 0 1,0 -6.0,0M817.5,467.5m-3.0,0a3.0,3.0 0 1,0 6.0,0a3.0,3.0 0 1,0 -6.0,0M822.2,538.8m-3.0,0a3.0,3.0 0 1,0 6.0,0a3.0,3.0 0 1,0 -6.0,0M811.9,483.3m-3.0,0a3.0,3.0 0 1,0 6.0,0a3.0,3.0 0 1,0 -6.0,0M821.4,562.9m-3.0,0a3.0,3.0 0 1,0 6.0,0a3.0,3.0 0 1,0 -6.0,0M822.8,542.0m-3.0,0a3.0,3.0 0 1,0 6.0,0a3.0,3.0 0 1,0 -6.0,0M815.7,576.5m-3.0,0a3.0,3.0 0 1,0 6.0,0a3.0,3.0 0 1,0 -6.0,0M819.5,445.2m-3.0,0a3.0,3.0 0 1,0 6.0,0a3.0,3.0 0 1,0 -6.0,0M818.0,551.4m-3.0,0a3.0,3.0 0 1,0 6.0,0a3.0,3.0 0 1,0 -6.0,0M813.2,578.4m-3.0,0a3.0,3.0 0 1,0 6.0,0a3.0,3.0 0 1,0 -6.0,0M826.2,506.9m-3.0,0a3.0,3.0 0 1,0 6.0,0a3.0,3.0 0 1,0 -6.0,0M812.3,539.4m-3.0,0a3.0,3.0 0 1,0 6.0,0a3.0,3.0 0 1,0 -6.0,0M817.7,395.8m-3.0,0a3.0,3.0 0 1,0 6.0,0a3.0,3.0 0 1,0 -6.0,0M817.0,592.1m-3.0,0a3.0,3.0 0 1,0 6.0,0a3.0,3.0 0 1,0 -6.0,0M816.0,594.4m-3.0,0a3.0,3.0 0 1,0 6.0,0a3.0,3.0 0 1,0 -6.0,0M813.5,577.8m-3.0,0a3.0,3.0 0 1,0 6.0,0a3.0,3.0 0 1,0 -6.0,0M811.0,510.2m-3.0,0a3.0,3.0 0 1,0 6.0,0a3.0,3.0 0 1,0 -6.0,0M825.1,495.6m-3.0,0a3.0,3.0 0 1,0 6.0,0a3.0,3.0 0 1,0 -6.0,0M825.8,482.6m-3.0,0a3.0,3.0 0 1,0 6.0,0a3.0,3.0 0 1,0 -6.0,0M820.8,512.2m-3.0,0a3.0,3.0 0 1,0 6.0,0a3.0,3.0 0 1,0 -6.0,0M816.0,472.2m-3.0,0a3.0,3.0 0 1,0 6.0,0a3.0,3.0 0 1,0 -6.0,0M825.4,517.6m-3.0,0a3.0,3.0 0 1,0 6.0,0a3.0,3.0 0 1,0 -6.0,0M820.1,627.3m-3.0,0a3.0,3.0 0 1,0 6.0,0a3.0,3.0 0 1,0 -6.0,0M816.9,430.4m-3.0,0a3.0,3.0 0 1,0 6.0,0a3.0,3.0 0 1,0 -6.0,0M815.6,435.5m-3.0,0a3.0,3.0 0 1,0 6.0,0a3.0,3.0 0 1,0 -6.0,0M815.7,485.2m-3.0,0a3.0,3.0 0 1,0 6.0,0a3.0,3.0 0 1,0 -6.0,0M824.6,503.2m-3.0,0a3.0,3.0 0 1,0 6.0,0a3.0,3.0 0 1,0 -6.0,0M819.5,477.1m-3.0,0a3.0,3.0 0 1,0 6.0,0a3.0,3.0 0 1,0 -6.0,0M821.4,519.1m-3.0,0a3.0,3.0 0 1,0 6.0,0a3.0,3.0 0 1,0 -6.0,0M817.8,451.7m-3.0,0a3.0,3.0 0 1,0 6.0,0a3.0,3.0 0 1,0 -6.0,0M818.9,561.4m-3.0,0a3.0,3.0 0 1,0 6.0,0a3.0,3.0 0 1,0 -6.0,0M811.3,550.6m-3.0,0a3.0,3.0 0 1,0 6.0,0a3.0,3.0 0 1,0 -6.0,0M815.2,597.2m-3.0,0a3.0,3.0 0 1,0 6.0,0a3.0,3.0 0 1,0 -6.0,0M810.9,459.4m-3.0,0a3.0,3.0 0 1,0 6.0,0a3.0,3.0 0 1,0 -6.0,0M824.1,542.8m-3.0,0a3.0,3.0 0 1,0 6.0,0a3.0,3.0 0 1,0 -6.0,0M817.4,564.3m-3.0,0a3.0,3.0 0 1,0 6.0,0a3.0,3.0 0 1,0 -6.0,0M823.5,493.8m-3.0,0a3.0,3.0 0 1,0 6.0,0a3.0,3.0 0 1,0 -6.0,0M814.7,566.6m-3.0,0a3.0,3.0 0 1,0 6.0,0a3.0,3.0 0 1,0 -6.0,0M810.8,521.5m-3.0,0a3.0,3.0 0 1,0 6.0,0a3.0,3.0 0 1,0 -6.0,0M812.2,570.1m-3.0,0a3.0,3.0 0 1,0 6.0,0a3.0,3.0 0 1,0 -6.0,0M811.8,549.5m-3.0,0a3.0,3.0 0 1,0 6.0,0a3.0,3.0 0 1,0 -6.0,0M813.6,531.3m-3.0,0a3.0,3.0 0 1,0 6.0,0a3.0,3.0 0 1,0 -6.0,0M814.3,525.4m-3.0,0a3.0,3.0 0 1,0 6.0,0a3.0,3.0 0 1,0 -6.0,0M820.4,513.4m-3.0,0a3.0,3.0 0 1,0 6.0,0a3.0,3.0 0 1,0 -6.0,0M819.8,476.0m-3.0,0a3.0,3.0 0 1,0 6.0,0a3.0,3.0 0 1,0 -6.0,0M826.2,557.2m-3.0,0a3.0,3.0 0 1,0 6.0,0a3.0,3.0 0 1,0 -6.0,0M816.7,444.0m-3.0,0a3.0,3.0 0 1,0 6.0,0a3.0,3.0 0 1,0 -6.0,0M817.4,479.1m-3.0,0a3.0,3.0 0 1,0 6.0,0a3.0,3.0 0 1,0 -6.0,0M825.0,544.1m-3.0,0a3.0,3.0 0 1,0 6.0,0a3.0,3.0 0 1,0 -6.0,0M813.7,438.2m-3.0,0a3.0,3.0 0 1,0 6.0,0a3.0,3.0 0 1,0 -6.0,0M822.2,411.1m-3.0,0a3.0,3.0 0 1,0 6.0,0a3.0,3.0 0 1,0 -6.0,0M815.6,428.8m-3.0,0a3.0,3.0 0 1,0 6.0,0a3.0,3.0 0 1,0 -6.0,0M817.3,536.0m-3.0,0a3.0,3.0 0 1,0 6.0,0a3.0,3.0 0 1,0 -6.0,0M817.5,519.5m-3.0,0a3.0,3.0 0 1,0 6.0,0a3.0,3.0 0 1,0 -6.0,0M824.6,558.3m-3.0,0a3.0,3.0 0 1,0 6.0,0a3.0,3.0 0 1,0 -6.0,0M815.3,480.8m-3.0,0a3.0,3.0 0 1,0 6.0,0a3.0,3.0 0 1,0 -6.0,0M816.8,587.7m-3.0,0a3.0,3.0 0 1,0 6.0,0a3.0,3.0 0 1,0 -6.0,0M811.9,469.9m-3.0,0a3.0,3.0 0 1,0 6.0,0a3.0,3.0 0 1,0 -6.0,0M812.3,497.8m-3.0,0a3.0,3.0 0 1,0 6.0,0a3.0,3.0 0 1,0 -6.0,0M825.8,516.8m-3.0,0a3.0,3.0 0 1,0 6.0,0a3.0,3.0 0 1,0 -6.0,0M816.6,450.1m-3.0,0a3.0,3.0 0 1,0 6.0,0a3.0,3.0 0 1,0 -6.0,0M818.0,586.3m-3.0,0a3.0,3.0 0 1,0 6.0,0a3.0,3.0 0 1,0 -6.0,0M813.7,558.6m-3.0,0a3.0,3.0 0 1,0 6.0,0a3.0,3.0 0 1,0 -6.0,0M823.0,490.1m-3.0,0a3.0,3.0 0 1,0 6.0,0a3.0,3.0 0 1,0 -6.0,0M814.0,457.9m-3.0,0a3.0,3.0 0 1,0 6.0,0a3.0,3.0 0 1,0 -6.0,0M811.5,539.7m-3.0,0a3.0,3.0 0 1,0 6.0,0a3.0,3.0 0 1,0 -6.0,0M818.7,391.1m-3.0,0a3.0,3.0 0 1,0 6.0,0a3.0,3.0 0 1,0 -6.0,0M826.1,476.3m-3.0,0a3.0,3.0 0 1,0 6.0,0a3.0,3.0 0 1,0 -6.0,0M820.5,532.8m-3.0,0a3.0,3.0 0 1,0 6.0,0a3.0,3.0 0 1,0 -6.0,0M817.3,541.4m-3.0,0a3.0,3.0 0 1,0 6.0,0a3.0,3.0 0 1,0 -6.0,0M821.1,540.6m-3.0,0a3.0,3.0 0 1,0 6.0,0a3.0,3.0 0 1,0 -6.0,0M813.4,561.7m-3.0,0a3.0,3.0 0 1,0 6.0,0a3.0,3.0 0 1,0 -6.0,0M814.3,537.1m-3.0,0a3.0,3.0 0 1,0 6.0,0a3.0,3.0 0 1,0 -6.0,0M818.8,441.9m-3.0,0a3.0,3.0 0 1,0 6.0,0a3.0,3.0 0 1,0 -6.0,0M816.4,543.6m-3.0,0a3.0,3.0 0 1,0 6.0,0a3.0,3.0 0 1,0 -6.0,0M821.8,536.7m-3.0,0a3.0,3.0 0 1,0 6.0,0a3.0,3.0 0 1,0 -6.0,0M816.0,446.0m-3.0,0a3.0,3.0 0 1,0 6.0,0a3.0,3.0 0 1,0 -6.0,0M815.3,523.2m-3.0,0a3.0,3.0 0 1,0 6.0,0a3.0,3.0 0 1,0 -6.0,0M817.2,507.8m-3.0,0a3.0,3.0 0 1,0 6.0,0a3.0,3.0 0 1,0 -6.0,0M820.1,498.5m-3.0,0a3.0,3.0 0 1,0 6.0,0a3.0,3.0 0 1,0 -6.0,0M816.4,634.5m-3.0,0a3.0,3.0 0 1,0 6.0,0a3.0,3.0 0 1,0 -6.0,0M825.5,515.1m-3.0,0a3.0,3.0 0 1,0 6.0,0a3.0,3.0 0 1,0 -6.0,0M818.6,456.4m-3.0,0a3.0,3.0 0 1,0 6.0,0a3.0,3.0 0 1,0 -6.0,0M815.8,504.2m-3.0,0a3.0,3.0 0 1,0 6.0,0a3.0,3.0 0 1,0 -6.0,0M821.7,501.1m-3.0,0a3.0,3.0 0 1,0 6.0,0a3.0,3.0 0 1,0 -6.0,0M811.7,569.5m-3.0,0a3.0,3.0 0 1,0 6.0,0a3.0,3.0 0 1,0 -6.0,0M819.8,376.5m-3.0,0a3.0,3.0 0 1,0 6.0,0a3.0,3.0 0 1,0 -6.0,0M813.5,436.9m-3.0,0a3.0,3.0 0 1,0 6.0,0a3.0,3.0 0 1,0 -6.0,0M820.7,468.5m-3.0,0a3.0,3.0 0 1,0 6.0,0a3.0,3.0 0 1,0 -6.0,0M821.8,447.1m-3.0,0a3.0,3.0 0 1,0 6.0,0a3.0,3.0 0 1,0 -6.0,0M815.9,443.3m-3.0,0a3.0,3.0 0 1,0 6.0,0a3.0,3.0 0 1,0 -6.0,0M820.2,553.6m-3.0,0a3.0,3.0 0 1,0 6.0,0a3.0,3.0 0 1,0 -6.0,0M813.4,573.1m-3.0,0a3.0,3.0 0 1,0 6.0,0a3.0,3.0 0 1,0 -6.0,0M816.7,481.0m-3.0,0a3.0,3.0 0 1,0 6.0,0a3.0,3.0 0 1,0 -6.0,0M823.3,477.5m-3.0,0a3.0,3.0 0 1,0 6.0,0a3.0,3.0 0 1,0 -6.0,0M824.1,432.6m-3.0,0a3.0,3.0 0 1,0 6.0,0a3.0,3.0 0 1,0 -6.0,0M810.9,481.7m-3.0,0a3.0,3.0 0 1,0 6.0,0a3.0,3.0 0 1,0 -6.0,0M814.8,472.0m-3.0,0a3.0,3.0 0 1,0 6.0,0a3.0,3.0 0 1,0 -6.0,0M814.9,532.6m-3.0,0a3.0,3.0 0 1,0 6.0,0a3.0,3.0 0 1,0 -6.0,0M824.5,560.8m-3.0,0a3.0,3.0 0 1,0 6.0,0a3.0,3.0 0 1,0 -6.0,0M811.8,525.9m-3.0,0a3.0,3.0 0 1,0 6.0,0a3.0,3.0 0 1,0 -6.0,0M824.7,546.6m-3.0,0a3.0,3.0 0 1,0 6.0,0a3.0,3.0 0 1,0 -6.0,0M822.8,427.6m-3.0,0a3.0,3.0 0 1,0 6.0,0a3.0,3.0 0 1,0 -6.0,0M822.9,494.0m-3.0,0a3.0,3.0 0 1,0 6.0,0a3.0,3.0 0 1,0 -6.0,0M821.3,583.3m-3.0,0a3.0,3.0 0 1,0 6.0,0a3.0,3.0 0 1,0 -6.0,0M824.4,551.6m-3.0,0a3.0,3.0 0 1,0 6.0,0a3.0,3.0 0 1,0 -6.0,0M813.3,487.4m-3.0,0a3.0,3.0 0 1,0 6.0,0a3.0,3.0 0 1,0 -6.0,0M815.7,501.5m-3.0,0a3.0,3.0 0 1,0 6.0,0a3.0,3.0 0 1,0 -6.0,0M816.2,416.0m-3.0,0a3.0,3.0 0 1,0 6.0,0a3.0,3.0 0 1,0 -6.0,0M810.8,462.1m-3.0,0a3.0,3.0 0 1,0 6.0,0a3.0,3.0 0 1,0 -6.0,0M825.9,462.5m-3.0,0a3.0,3.0 0 1,0 6.0,0a3.0,3.0 0 1,0 -6.0,0M817.1,365.4m-3.0,0a3.0,3.0 0 1,0 6.0,0a3.0,3.0 0 1,0 -6.0,0M812.6,534.3m-3.0,0a3.0,3.0 0 1,0 6.0,0a3.0,3.0 0 1,0 -6.0,0M817.7,386.3m-3.0,0a3.0,3.0 0 1,0 6.0,0a3.0,3.0 0 1,0 -6.0,0M821.5,546.7m-3.0,0a3.0,3.0 0 1,0 6.0,0a3.0,3.0 0 1,0 -6.0,0M821.8,488.9m-3.0,0a3.0,3.0 0 1,0 6.0,0a3.0,3.0 0 1,0 -6.0,0M826.2,474.9m-3.0,0a3.0,3.0 0 1,0 6.0,0a3.0,3.0 0 1,0 -6.0,0M825.1,545.6m-3.0,0a3.0,3.0 0 1,0 6.0,0a3.0,3.0 0 1,0 -6.0,0M826.0,491.2m-3.0,0a3.0,3.0 0 1,0 6.0,0a3.0,3.0 0 1,0 -6.0,0M812.6,439.2m-3.0,0a3.0,3.0 0 1,0 6.0,0a3.0,3.0 0 1,0 -6.0,0M815.8,515.8m-3.0,0a3.0,3.0 0 1,0 6.0,0a3.0,3.0 0 1,0 -6.0,0M819.7,425.9m-3.0,0a3.0,3.0 0 1,0 6.0,0a3.0,3.0 0 1,0 -6.0,0M822.7,591.7m-3.0,0a3.0,3.0 0 1,0 6.0,0a3.0,3.0 0 1,0 -6.0,0M820.8,474.0m-3.0,0a3.0,3.0 0 1,0 6.0,0a3.0,3.0 0 1,0 -6.0,0M819.9,508.0m-3.0,0a3.0,3.0 0 1,0 6.0,0a3.0,3.0 0 1,0 -6.0,0M824.9,465.2m-3.0,0a3.0,3.0 0 1,0 6.0,0a3.0,3.0 0 1,0 -6.0,0M819.6,545.5m-3.0,0a3.0,3.0 0 1,0 6.0,0a3.0,3.0 0 1,0 -6.0,0M822.6,478.1m-3.0,0a3.0,3.0 0 1,0 6.0,0a3.0,3.0 0 1,0 -6.0,0M822.5,469.2m-3.0,0a3.0,3.0 0 1,0 6.0,0a3.0,3.0 0 1,0 -6.0,0M824.1,537.7m-3.0,0a3.0,3.0 0 1,0 6.0,0a3.0,3.0 0 1,0 -6.0,0M819.6,572.0m-3.0,0a3.0,3.0 0 1,0 6.0,0a3.0,3.0 0 1,0 -6.0,0M815.3,514.1m-3.0,0a3.0,3.0 0 1,0 6.0,0a3.0,3.0 0 1,0 -6.0,0M818.0,492.4m-3.0,0a3.0,3.0 0 1,0 6.0,0a3.0,3.0 0 1,0 -6.0,0M823.0,473.0m-3.0,0a3.0,3.0 0 1,0 6.0,0a3.0,3.0 0 1,0 -6.0,0M818.8,614.5m-3.0,0a3.0,3.0 0 1,0 6.0,0a3.0,3.0 0 1,0 -6.0,0M826.0,500.2m-3.0,0a3.0,3.0 0 1,0 6.0,0a3.0,3.0 0 1,0 -6.0,0M815.0,431.3m-3.0,0a3.0,3.0 0 1,0 6.0,0a3.0,3.0 0 1,0 -6.0,0M818.0,530.7m-3.0,0a3.0,3.0 0 1,0 6.0,0a3.0,3.0 0 1,0 -6.0,0M818.8,369.9m-3.0,0a3.0,3.0 0 1,0 6.0,0a3.0,3.0 0 1,0 -6.0,0M819.2,505.9m-3.0,0a3.0,3.0 0 1,0 6.0,0a3.0,3.0 0 1,0 -6.0,0M817.9,475.1m-3.0,0a3.0,3.0 0 1,0 6.0,0a3.0,3.0 0 1,0 -6.0,0M821.7,526.9m-3.0,0a3.0,3.0 0 1,0 6.0,0a3.0,3.0 0 1,0 -6.0,0M823.9,466.0m-3.0,0a3.0,3.0 0 1,0 6.0,0a3.0,3.0 0 1,0 -6.0,0M811.2,508.7m-3.0,0a3.0,3.0 0 1,0 6.0,0a3.0,3.0 0 1,0 -6.0,0M811.4,460.0m-3.0,0a3.0,3.0 0 1,0 6.0,0a3.0,3.0 0 1,0 -6.0,0M820.1,557.5m-3.0,0a3.0,3.0 0 1,0 6.0,0a3.0,3.0 0 1,0 -6.0,0M814.6,520.1m-3.0,0a3.0,3.0 0 1,0 6.0,0a3.0,3.0 0 1,0 -6.0,0M825.2,496.9m-3.0,0a3.0,3.0 0 1,0 6.0,0a3.0,3.0 0 1,0 -6.0,0M819.5,479.9m-3.0,0a3.0,3.0 0 1,0 6.0,0a3.0,3.0 0 1,0 -6.0,0M815.0,500.7m-3.0,0a3.0,3.0 0 1,0 6.0,0a3.0,3.0 0 1,0 -6.0,0M815.0,548.2m-3.0,0a3.0,3.0 0 1,0 6.0,0a3.0,3.0 0 1,0 -6.0,0M818.9,398.3m-3.0,0a3.0,3.0 0 1,0 6.0,0a3.0,3.0 0 1,0 -6.0,0M822.4,521.0m-3.0,0a3.0,3.0 0 1,0 6.0,0a3.0,3.0 0 1,0 -6.0,0M813.2,466.8m-3.0,0a3.0,3.0 0 1,0 6.0,0a3.0,3.0 0 1,0 -6.0,0M816.3,563.4m-3.0,0a3.0,3.0 0 1,0 6.0,0a3.0,3.0 0 1,0 -6.0,0M816.2,606.7m-3.0,0a3.0,3.0 0 1,0 6.0,0a3.0,3.0 0 1,0 -6.0,0M822.2,407.0m-3.0,0a3.0,3.0 0 1,0 6.0,0a3.0,3.0 0 1,0 -6.0,0M819.1,421.5m-3.0,0a3.0,3.0 0 1,0 6.0,0a3.0,3.0 0 1,0 -6.0,0M815.1,422.2m-3.0,0a3.0,3.0 0 1,0 6.0,0a3.0,3.0 0 1,0 -6.0,0M815.8,510.7m-3.0,0a3.0,3.0 0 1,0 6.0,0a3.0,3.0 0 1,0 -6.0,0M813.4,555.9m-3.0,0a3.0,3.0 0 1,0 6.0,0a3.0,3.0 0 1,0 -6.0,0M821.4,383.7m-3.0,0a3.0,3.0 0 1,0 6.0,0a3.0,3.0 0 1,0 -6.0,0M822.3,524.4m-3.0,0a3.0,3.0 0 1,0 6.0,0a3.0,3.0 0 1,0 -6.0,0M815.2,452.4m-3.0,0a3.0,3.0 0 1,0 6.0,0a3.0,3.0 0 1,0 -6.0,0M815.3,528.8m-3.0,0a3.0,3.0 0 1,0 6.0,0a3.0,3.0 0 1,0 -6.0,0M823.6,523.6m-3.0,0a3.0,3.0 0 1,0 6.0,0a3.0,3.0 0 1,0 -6.0,0M812.4,542.5m-3.0,0a3.0,3.0 0 1,0 6.0,0a3.0,3.0 0 1,0 -6.0,0M815.0,529.5m-3.0,0a3.0,3.0 0 1,0 6.0,0a3.0,3.0 0 1,0 -6.0,0M824.2,498.7m-3.0,0a3.0,3.0 0 1,0 6.0,0a3.0,3.0 0 1,0 -6.0,0M813.4,490.5m-3.0,0a3.0,3.0 0 1,0 6.0,0a3.0,3.0 0 1,0 -6.0,0M813.2,520.6m-3.0,0a3.0,3.0 0 1,0 6.0,0a3.0,3.0 0 1,0 -6.0,0M821.9,410.3m-3.0,0a3.0,3.0 0 1,0 6.0,0a3.0,3.0 0 1,0 -6.0,0M812.0,526.6m-3.0,0a3.0,3.0 0 1,0 6.0,0a3.0,3.0 0 1,0 -6.0,0M817.0,535.2m-3.0,0a3.0,3.0 0 1,0 6.0,0a3.0,3.0 0 1,0 -6.0,0M822.7,565.3m-3.0,0a3.0,3.0 0 1,0 6.0,0a3.0,3.0 0 1,0 -6.0,0M823.8,552.8m-3.0,0a3.0,3.0 0 1,0 6.0,0a3.0,3.0 0 1,0 -6.0,0M813.8,512.0m-3.0,0a3.0,3.0 0 1,0 6.0,0a3.0,3.0 0 1,0 -6.0,0M815.0,434.7m-3.0,0a3.0,3.0 0 1,0 6.0,0a3.0,3.0 0 1,0 -6.0,0M818.5,448.6m-3.0,0a3.0,3.0 0 1,0 6.0,0a3.0,3.0 0 1,0 -6.0,0M819.4,522.1m-3.0,0a3.0,3.0 0 1,0 6.0,0a3.0,3.0 0 1,0 -6.0,0M815.3,566.0m-3.0,0a3.0,3.0 0 1,0 6.0,0a3.0,3.0 0 1,0 -6.0,0M820.9,458.3m-3.0,0a3.0,3.0 0 1,0 6.0,0a3.0,3.0 0 1,0 -6.0,0M820.0,487.0m-3.0,0a3.0,3.0 0 1,0 6.0,0a3.0,3.0 0 1,0 -6.0,0M816.0,579.2m-3.0,0a3.0,3.0 0 1,0 6.0,0a3.0,3.0 0 1,0 -6.0,0M816.2,486.4m-3.0,0a3.0,3.0 0 1,0 6.0,0a3.0,3.0 0 1,0 -6.0,0M812.6,488.0m-3.0,0a3.0,3.0 0 1,0 6.0,0a3.0,3.0 0 1,0 -6.0,0M817.5,617.5m-3.0,0a3.0,3.0 0 1,0 6.0,0a3.0,3.0 0 1,0 -6.0,0M815.7,639.9m-3.0,0a3.0,3.0 0 1,0 6.0,0a3.0,3.0 0 1,0 -6.0,0M824.0,574.0m-3.0,0a3.0,3.0 0 1,0 6.0,0a3.0,3.0 0 1,0 -6.0,0M818.5,567.7m-3.0,0a3.0,3.0 0 1,0 6.0,0a3.0,3.0 0 1,0 -6.0,0"/>
<path fill="#f9a202" d="M936.4,381.5m-3.0,0a3.0,3.0 0 1,0 6.0,0a3.0,3.0 0 1,0 -6.0,0M934.0,399.7m-3.0,0a3.0,3.0 0 1,0 6.0,0a3.0,3.0 0 1,0 -6.0,0M940.6,399.3m-3.0,0a3.0,3.0 0 1,0 6.0,0a3.0,3.0 0 1,0 -6.0,0M933.0,408.4m-3.0,0a3.0,3.0 0 1,0 6.0,0a3.0,3.0 0 1,0 -6.0,0M942.5,410.7m-3.0,0a3.0,3.0 0 1,0 6.0,0a3.0,3.0 0 1,0 -6.0,0M938.6,406.6m-3.0,0a3.0,3.0 0 1,0 6.0,0a3.0,3.0 0 1,0 -6.0,0M932.3,419.3m-3.0,0a3.0,3.0 0 1,0 6.0,0a3.0,3.0 0 1,0 -6.0,0M939.5,427.8m-3.0,0a3.0,3.0 0 1,0 6.0,0a3.0,3.0 0 1,0 -6.0,0M935.0,431.2m-3.0,0a3.0,3.0 0 1,0 6.0,0a3.0,3.0 0 1,0 -6.0,0M939.0,436.0m-3.0,0a3.0,3.0 0 1,0 6.0,0a3.0,3.0 0 1,0 -6.0,0M933.0,438.0m-3.0,0a3.0,3.0 0 1,0 6.0,0a3.0,3.0 0 1,0 -6.0,0M932.0,442.0m-3.0,0a3.0,3.0 0 1,0 6.0,0a3.0,3.0 0 1,0 -6.0,0M941.5,443.5m-3.0,0a3.0,3.0 0 1,0 6.0,0a3.0,3.0 0 1,0 -6.0,0M934.0,446.0m-3.0,0a3.0,3.0 0 1,0 6.0,0a3.0,3.0 0 1,0 -6.0,0M936.0,450.0m-3.0,0a3.0,3.0 0 1,0 6.0,0a3.0,3.0 0 1,0 -6.0,0M941.0,452.5m-3.0,0a3.0,3.0 0 1,0 6.0,0a3.0,3.0 0 1,0 -6.0,0M932.0,456.0m-3.0,0a3.0,3.0 0 1,0 6.0,0a3.0,3.0 0 1,0 -6.0,0M941.0,462.5m-3.0,0a3.0,3.0 0 1,0 6.0,0a3.0,3.0 0 1,0 -6.0,0M936.0,466.0m-3.0,0a3.0,3.0 0 1,0 6.0,0a3.0,3.0 0 1,0 -6.0,0M934.0,470.0m-3.0,0a3.0,3.0 0 1,0 6.0,0a3.0,3.0 0 1,0 -6.0,0M937.0,474.0m-3.0,0a3.0,3.0 0 1,0 6.0,0a3.0,3.0 0 1,0 -6.0,0M940.0,478.0m-3.0,0a3.0,3.0 0 1,0 6.0,0a3.0,3.0 0 1,0 -6.0,0M931.5,480.0m-3.0,0a3.0,3.0 0 1,0 6.0,0a3.0,3.0 0 1,0 -6.0,0M939.0,482.0m-3.0,0a3.0,3.0 0 1,0 6.0,0a3.0,3.0 0 1,0 -6.0,0M935.0,484.0m-3.0,0a3.0,3.0 0 1,0 6.0,0a3.0,3.0 0 1,0 -6.0,0M936.0,487.0m-3.0,0a3.0,3.0 0 1,0 6.0,0a3.0,3.0 0 1,0 -6.0,0M940.0,488.0m-3.0,0a3.0,3.0 0 1,0 6.0,0a3.0,3.0 0 1,0 -6.0,0M933.0,491.0m-3.0,0a3.0,3.0 0 1,0 6.0,0a3.0,3.0 0 1,0 -6.0,0M938.0,493.0m-3.0,0a3.0,3.0 0 1,0 6.0,0a3.0,3.0 0 1,0 -6.0,0M939.5,497.0m-3.0,0a3.0,3.0 0 1,0 6.0,0a3.0,3.0 0 1,0 -6.0,0M936.6,510.6m-3.0,0a3.0,3.0 0 1,0 6.0,0a3.0,3.0 0 1,0 -6.0,0M934.0,517.0m-3.0,0a3.0,3.0 0 1,0 6.0,0a3.0,3.0 0 1,0 -6.0,0M938.0,518.0m-3.0,0a3.0,3.0 0 1,0 6.0,0a3.0,3.0 0 1,0 -6.0,0M941.5,524.5m-3.0,0a3.0,3.0 0 1,0 6.0,0a3.0,3.0 0 1,0 -6.0,0M933.0,530.0m-3.0,0a3.0,3.0 0 1,0 6.0,0a3.0,3.0 0 1,0 -6.0,0M932.0,536.0m-3.0,0a3.0,3.0 0 1,0 6.0,0a3.0,3.0 0 1,0 -6.0,0M941.0,539.0m-3.0,0a3.0,3.0 0 1,0 6.0,0a3.0,3.0 0 1,0 -6.0,0M936.0,543.0m-3.0,0a3.0,3.0 0 1,0 6.0,0a3.0,3.0 0 1,0 -6.0,0M938.0,546.0m-3.0,0a3.0,3.0 0 1,0 6.0,0a3.0,3.0 0 1,0 -6.0,0M933.0,548.0m-3.0,0a3.0,3.0 0 1,0 6.0,0a3.0,3.0 0 1,0 -6.0,0M938.5,553.0m-3.0,0a3.0,3.0 0 1,0 6.0,0a3.0,3.0 0 1,0 -6.0,0M936.0,556.5m-3.0,0a3.0,3.0 0 1,0 6.0,0a3.0,3.0 0 1,0 -6.0,0M940.0,559.0m-3.0,0a3.0,3.0 0 1,0 6.0,0a3.0,3.0 0 1,0 -6.0,0M935.0,565.0m-3.0,0a3.0,3.0 0 1,0 6.0,0a3.0,3.0 0 1,0 -6.0,0M938.0,566.0m-3.0,0a3.0,3.0 0 1,0 6.0,0a3.0,3.0 0 1,0 -6.0,0M940.0,567.0m-3.0,0a3.0,3.0 0 1,0 6.0,0a3.0,3.0 0 1,0 -6.0,0M935.0,581.7m-3.0,0a3.0,3.0 0 1,0 6.0,0a3.0,3.0 0 1,0 -6.0,0M938.0,611.3m-3.0,0a3.0,3.0 0 1,0 6.0,0a3.0,3.0 0 1,0 -6.0,0"/>
<text x="702.7" y="401.8" text-anchor="start" font-size="16.5" fill="#111" font-weight="bold" textLength="19.8" lengthAdjust="spacingAndGlyphs">(F)</text>
<text transform="translate(719.9,529.6) rotate(-90)" text-anchor="middle" font-size="13" fill="#505050" font-weight="normal" textLength="153.0" lengthAdjust="spacingAndGlyphs" stroke="#505050" stroke-width="0.3">Log10 Protein Residuals</text>
<text x="766.2" y="690.6" text-anchor="start" font-size="12" fill="#555" font-weight="normal" textLength="107.6" lengthAdjust="spacingAndGlyphs">COVID-19 no death</text>
<text x="893.7" y="690.6" text-anchor="start" font-size="12" fill="#555" font-weight="normal" textLength="90.1" lengthAdjust="spacingAndGlyphs">COVID-19 death</text>
</svg>
</body></html>
